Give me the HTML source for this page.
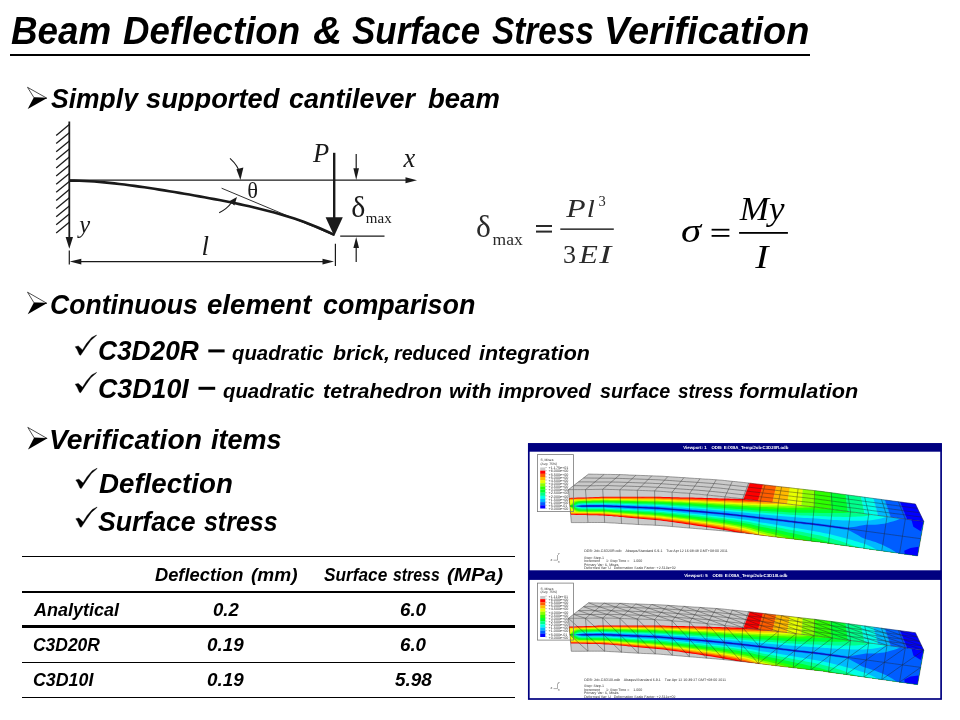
<!DOCTYPE html>
<html><head><meta charset="utf-8"><title>Beam Deflection &amp; Surface Stress Verification</title>
<style>
html,body{margin:0;padding:0;background:#fff;}
body{width:960px;height:720px;position:relative;overflow:hidden;font-family:"Liberation Sans",sans-serif;}
.t{position:absolute;white-space:nowrap;line-height:1;font-family:"Liberation Sans",sans-serif;font-style:italic;font-weight:bold;color:#000;transform-origin:0 0;display:block;}
.clip{position:absolute;left:0;top:0;width:960px;height:111px;overflow:hidden;}
.ln{position:absolute;background:#000;}
svg{position:absolute;left:0;top:0;overflow:visible;}
.s{font-family:"Liberation Serif",serif;}
</style></head>
<body>
<div class="ln" style="left:10px;top:54px;width:800px;height:2px"></div>
<div class="clip"><span class="t" style="left:50.50px;top:84.68px;font-size:27.91px;transform:scaleX(0.9496)">Simply</span>
<span class="t" style="left:146.00px;top:84.68px;font-size:27.91px;transform:scaleX(0.9781)">supported</span>
<span class="t" style="left:289.30px;top:84.68px;font-size:27.91px;transform:scaleX(0.9662)">cantilever</span>
<span class="t" style="left:427.50px;top:84.68px;font-size:27.91px;transform:scaleX(0.9853)">beam</span></div>
<span class="t" style="left:11.00px;top:11.89px;font-size:38.52px;transform:scaleX(0.9553)">Beam</span>
<span class="t" style="left:123.40px;top:11.89px;font-size:38.52px;transform:scaleX(0.9513)">Deflection</span>
<span class="t" style="left:313.40px;top:11.89px;font-size:38.52px;transform:scaleX(1.0462)">&amp;</span>
<span class="t" style="left:352.00px;top:11.89px;font-size:38.52px;transform:scaleX(0.9068)">Surface</span>
<span class="t" style="left:492.20px;top:11.89px;font-size:38.52px;transform:scaleX(0.8661)">Stress</span>
<span class="t" style="left:604.04px;top:11.89px;font-size:38.52px;transform:scaleX(0.9867)">Verification</span>
<span class="t" style="left:50.44px;top:290.87px;font-size:27.62px;transform:scaleX(0.9632)">Continuous</span>
<span class="t" style="left:207.20px;top:290.87px;font-size:27.62px;transform:scaleX(1.0005)">element</span>
<span class="t" style="left:322.80px;top:290.87px;font-size:27.62px;transform:scaleX(0.9741)">comparison</span>
<span class="t" style="left:98.03px;top:337.19px;font-size:27.18px;transform:scaleX(0.9674)">C3D20R</span>
<span class="t" style="left:232.40px;top:342.42px;font-size:21.00px;transform:scaleX(0.9679)">quadratic</span>
<span class="t" style="left:332.50px;top:342.42px;font-size:21.00px;transform:scaleX(1.0182)">brick,</span>
<span class="t" style="left:393.60px;top:342.42px;font-size:21.00px;transform:scaleX(0.9365)">reduced</span>
<span class="t" style="left:478.75px;top:342.42px;font-size:21.00px;transform:scaleX(1.0217)">integration</span>
<span class="t" style="left:98.01px;top:374.59px;font-size:27.18px;transform:scaleX(0.9851)">C3D10I</span>
<span class="t" style="left:223.00px;top:379.72px;font-size:21.00px;transform:scaleX(0.9690)">quadratic</span>
<span class="t" style="left:323.00px;top:379.72px;font-size:21.00px;transform:scaleX(1.0203)">tetrahedron</span>
<span class="t" style="left:449.49px;top:379.72px;font-size:21.00px;transform:scaleX(1.0146)">with</span>
<span class="t" style="left:498.00px;top:379.72px;font-size:21.00px;transform:scaleX(0.9823)">improved</span>
<span class="t" style="left:600.00px;top:379.72px;font-size:21.00px;transform:scaleX(0.9396)">surface</span>
<span class="t" style="left:677.50px;top:379.72px;font-size:21.00px;transform:scaleX(0.8986)">stress</span>
<span class="t" style="left:738.75px;top:379.72px;font-size:21.00px;transform:scaleX(1.0313)">formulation</span>
<span class="t" style="left:49.20px;top:426.02px;font-size:27.62px;transform:scaleX(1.0241)">Verification</span>
<span class="t" style="left:211.25px;top:426.02px;font-size:27.62px;transform:scaleX(0.9788)">items</span>
<span class="t" style="left:98.70px;top:470.09px;font-size:27.18px;transform:scaleX(1.0187)">Deflection</span>
<span class="t" style="left:98.10px;top:507.59px;font-size:27.18px;transform:scaleX(0.9792)">Surface</span>
<span class="t" style="left:204.40px;top:507.59px;font-size:27.18px;transform:scaleX(0.9180)">stress</span>
<span class="t" style="left:155.20px;top:566.11px;font-size:18.90px;transform:scaleX(0.9679)">Deflection</span>
<span class="t" style="left:250.80px;top:566.11px;font-size:18.90px;transform:scaleX(1.0076)">(mm)</span>
<span class="t" style="left:323.50px;top:566.11px;font-size:18.90px;transform:scaleX(0.9121)">Surface</span>
<span class="t" style="left:393.40px;top:566.11px;font-size:18.90px;transform:scaleX(0.8399)">stress</span>
<span class="t" style="left:446.80px;top:566.11px;font-size:18.90px;transform:scaleX(1.0921)">(MPa)</span>
<span class="t" style="left:33.95px;top:600.81px;font-size:18.90px;transform:scaleX(0.9535)">Analytical</span>
<span class="t" style="left:212.60px;top:600.81px;font-size:18.90px;transform:scaleX(0.9835)">0.2</span>
<span class="t" style="left:400.00px;top:600.81px;font-size:18.90px;transform:scaleX(0.9910)">6.0</span>
<span class="t" style="left:33.00px;top:636.01px;font-size:18.90px;transform:scaleX(0.9237)">C3D20R</span>
<span class="t" style="left:207.20px;top:636.01px;font-size:18.90px;transform:scaleX(0.9963)">0.19</span>
<span class="t" style="left:400.00px;top:636.01px;font-size:18.90px;transform:scaleX(0.9910)">6.0</span>
<span class="t" style="left:33.00px;top:671.21px;font-size:18.90px;transform:scaleX(0.9420)">C3D10I</span>
<span class="t" style="left:207.20px;top:671.21px;font-size:18.90px;transform:scaleX(0.9963)">0.19</span>
<span class="t" style="left:394.60px;top:671.21px;font-size:18.90px;transform:scaleX(1.0043)">5.98</span>
<div class="ln" style="left:22px;top:556.3px;width:492.5px;height:1.2px"></div>
<div class="ln" style="left:22px;top:591px;width:492.5px;height:2px"></div>
<div class="ln" style="left:22px;top:624.9px;width:492.5px;height:3px"></div>
<div class="ln" style="left:22px;top:661.5px;width:492.5px;height:1.1px"></div>
<div class="ln" style="left:22px;top:697px;width:492.5px;height:1.1px"></div>
<svg width="960" height="720" viewBox="0 0 960 720">
<path d="M27.5,87.3 L46.8,98.15 L34.062,97.75 Z" fill="#fff" stroke="#222" stroke-width="0.8" stroke-linejoin="miter"/>
<path d="M33.762,97.55000000000001 L47.199999999999996,97.95 L27.7,109.0 Z" fill="#000"/>
<path d="M27.5,292.2 L46.8,303.25 L34.062,302.85 Z" fill="#fff" stroke="#222" stroke-width="0.8" stroke-linejoin="miter"/>
<path d="M33.762,302.65 L47.199999999999996,303.05 L27.7,314.3 Z" fill="#000"/>
<path d="M27.8,427.4 L47.1,438.45 L34.362,438.05 Z" fill="#fff" stroke="#222" stroke-width="0.8" stroke-linejoin="miter"/>
<path d="M34.062000000000005,437.84999999999997 L47.5,438.25 L28.0,449.5 Z" fill="#000"/>
<path d="M75.2,346.8 L78.3,346.0 L82.5,349.9 L86.5,343.5 L91.7,337.5 L96.5,335.0 L96.3,335.6 L90.8,340.4 L85.8,347.5 L80.6,355.3 L79.4,354.8 L77.1,349.6 Z" fill="#000" stroke="#000" stroke-width="0.4" stroke-linejoin="round"/>
<path d="M75.2,384.2 L78.3,383.4 L82.5,387.3 L86.5,380.9 L91.7,374.9 L96.5,372.4 L96.3,373.0 L90.8,377.8 L85.8,384.9 L80.6,392.7 L79.4,392.2 L77.1,387.0 Z" fill="#000" stroke="#000" stroke-width="0.4" stroke-linejoin="round"/>
<path d="M75.8,480.0 L78.9,479.2 L83.1,483.1 L87.1,476.7 L92.3,470.7 L97.1,468.2 L96.9,468.8 L91.4,473.6 L86.4,480.7 L81.2,488.5 L80.0,488.0 L77.7,482.8 Z" fill="#000" stroke="#000" stroke-width="0.4" stroke-linejoin="round"/>
<path d="M75.8,518.8 L78.9,518.0 L83.1,521.9 L87.1,515.5 L92.3,509.5 L97.1,507.0 L96.9,507.6 L91.4,512.4 L86.4,519.5 L81.2,527.3 L80.0,526.8 L77.7,521.6 Z" fill="#000" stroke="#000" stroke-width="0.4" stroke-linejoin="round"/>
<rect x="208.3" y="349.4" width="16.3" height="3" fill="#000"/>
<rect x="198.5" y="386.8" width="16.7" height="3" fill="#000"/>
</svg>
<svg width="960" height="720" viewBox="0 0 960 720" style="filter:blur(0.35px)">
<g stroke="#1a1a1a" fill="none" stroke-linecap="butt">
<line x1="69.3" y1="121.5" x2="69.3" y2="238" stroke-width="1.8"/>
<path d="M65.6,237 L73.0,237 L69.3,248.7 Z" fill="#1a1a1a" stroke="none"/>
<line x1="69.3" y1="124.6" x2="56.2" y2="135.4" stroke-width="1.3"/>
<line x1="69.3" y1="132.7" x2="56.2" y2="143.5" stroke-width="1.3"/>
<line x1="69.3" y1="140.9" x2="56.2" y2="151.7" stroke-width="1.3"/>
<line x1="69.3" y1="149.0" x2="56.2" y2="159.8" stroke-width="1.3"/>
<line x1="69.3" y1="157.1" x2="56.2" y2="167.9" stroke-width="1.3"/>
<line x1="69.3" y1="165.2" x2="56.2" y2="176.1" stroke-width="1.3"/>
<line x1="69.3" y1="173.4" x2="56.2" y2="184.2" stroke-width="1.3"/>
<line x1="69.3" y1="181.5" x2="56.2" y2="192.3" stroke-width="1.3"/>
<line x1="69.3" y1="189.6" x2="56.2" y2="200.4" stroke-width="1.3"/>
<line x1="69.3" y1="197.8" x2="56.2" y2="208.6" stroke-width="1.3"/>
<line x1="69.3" y1="205.9" x2="56.2" y2="216.7" stroke-width="1.3"/>
<line x1="69.3" y1="214.0" x2="56.2" y2="224.8" stroke-width="1.3"/>
<line x1="69.3" y1="222.2" x2="56.2" y2="233.0" stroke-width="1.3"/>
<line x1="69.3" y1="180.2" x2="407" y2="180.2" stroke-width="1.3"/>
<path d="M405.5,177.2 L417,180.2 L405.5,183.2 Z" fill="#1a1a1a" stroke="none"/>
<polyline points="69.3,180.60 74.3,180.64 79.3,180.76 84.3,180.96 89.3,181.23 94.3,181.56 99.3,181.94 104.3,182.38 109.3,182.87 114.3,183.40 119.3,183.97 124.3,184.58 129.3,185.22 134.3,185.89 139.3,186.59 144.3,187.31 149.3,188.06 154.3,188.82 159.3,189.60 164.3,190.40 169.3,191.21 174.3,192.03 179.3,192.87 184.3,193.73 189.3,194.59 194.3,195.47 199.3,196.36 204.3,197.27 209.3,198.19 214.3,199.13 219.3,200.09 224.3,201.07 229.3,202.07 234.3,203.09 239.3,204.14 244.3,205.22 249.3,206.34 254.3,207.49 259.3,208.68 264.3,209.92 269.3,211.21 274.3,212.55 279.3,213.96 284.3,215.42 289.3,216.96 294.3,218.57 299.3,220.26 304.3,222.04 309.3,223.92 314.3,225.90 319.3,227.98 324.3,230.19 329.3,232.52 334.2,234.92" stroke-width="2.6" stroke-linejoin="round"/>
<line x1="221.6" y1="188.2" x2="334.2" y2="235.4" stroke-width="0.9"/>
<line x1="334.2" y1="152.8" x2="334.2" y2="220" stroke-width="2.4"/>
<path d="M325.6,217.2 L342.8,217.2 L334.2,236 Z" fill="#1a1a1a" stroke="none"/>
<line x1="356.2" y1="154" x2="356.2" y2="170" stroke-width="1.2"/>
<path d="M353.4,168.2 L359,168.2 L356.2,180 Z" fill="#1a1a1a" stroke="none"/>
<line x1="340.2" y1="236.2" x2="384.5" y2="236.2" stroke-width="1.3"/>
<line x1="356.2" y1="262" x2="356.2" y2="246" stroke-width="1.2"/>
<path d="M353.4,248 L359,248 L356.2,237 Z" fill="#1a1a1a" stroke="none"/>
<line x1="77.3" y1="261.6" x2="326" y2="261.6" stroke-width="1.1"/>
<path d="M69.8,261.6 L81.3,258.8 L81.3,264.4 Z" fill="#1a1a1a" stroke="none"/>
<path d="M334,261.6 L322.5,258.8 L322.5,264.4 Z" fill="#1a1a1a" stroke="none"/>
<line x1="69.3" y1="250.5" x2="69.3" y2="264.5" stroke-width="1.2"/>
<line x1="335.4" y1="243.8" x2="335.4" y2="266" stroke-width="1.2"/>
<path d="M230,158.3 Q238.5,166 240,174" stroke-width="1.1"/>
<path d="M236.4,169.2 L243.4,167.6 L240.4,180 Z" fill="#1a1a1a" stroke="none"/>
<path d="M219.2,212.7 Q227,209 232,202" stroke-width="1.1"/>
<path d="M229.2,201.2 L234.4,205.6 L237,197 Z" fill="#1a1a1a" stroke="none"/>
</g>
<text x="0" y="0" transform="translate(79.2,233.0) scale(1.0,1)" font-family="'Liberation Serif',serif" font-style="italic" font-size="24.5" fill="#1a1a1a">y</text>
<text x="0" y="0" transform="translate(201.5,254.5) scale(1.0,1)" font-family="'Liberation Serif',serif" font-style="italic" font-size="27" fill="#1a1a1a">l</text>
<text x="0" y="0" transform="translate(313.0,162.3) scale(1.0,1)" font-family="'Liberation Serif',serif" font-style="italic" font-size="26.5" fill="#1a1a1a">P</text>
<text x="0" y="0" transform="translate(403.6,167.1) scale(1.0,1)" font-family="'Liberation Serif',serif" font-style="italic" font-size="26.5" fill="#1a1a1a">x</text>
<text x="0" y="0" transform="translate(247.3,197.9) scale(1.0,1)" font-family="'Liberation Serif',serif" font-style="normal" font-size="22.5" fill="#1a1a1a">θ</text>
<text x="0" y="0" transform="translate(351.2,217.4) scale(1.05,1)" font-family="'Liberation Serif',serif" font-style="normal" font-size="28.5" fill="#1a1a1a">δ</text>
<text x="0" y="0" transform="translate(365.8,223.2) scale(1.0,1)" font-family="'Liberation Serif',serif" font-style="normal" font-size="15" fill="#1a1a1a">max</text>
</svg>
<svg width="960" height="720" viewBox="0 0 960 720" style="filter:blur(0.3px)">
<text x="0" y="0" transform="translate(476.0,237.4) scale(1.0,1)" font-family="'Liberation Serif',serif" font-style="normal" font-size="31.5" fill="#2a2a2a">δ</text>
<text x="0" y="0" transform="translate(492.6,245.3) scale(1.0,1)" font-family="'Liberation Serif',serif" font-style="normal" font-size="17.5" fill="#2a2a2a">max</text>
<rect x="536" y="225.0" width="16" height="2" fill="#2a2a2a"/>
<rect x="536" y="230.6" width="16" height="2" fill="#2a2a2a"/>
<rect x="560.3" y="228.4" width="53.5" height="1.5" fill="#2a2a2a"/>
<text x="0" y="0" transform="translate(566.3,216.6) scale(1.22,1)" font-family="'Liberation Serif',serif" font-style="italic" font-size="26" fill="#2a2a2a">P</text>
<text x="0" y="0" transform="translate(586.7,216.6) scale(1.12,1)" font-family="'Liberation Serif',serif" font-style="italic" font-size="26" fill="#2a2a2a">l</text>
<text x="0" y="0" transform="translate(598.6,206.3) scale(1.0,1)" font-family="'Liberation Serif',serif" font-style="normal" font-size="14.5" fill="#2a2a2a">3</text>
<text x="0" y="0" transform="translate(563.0,262.5) scale(1.0,1)" font-family="'Liberation Serif',serif" font-style="normal" font-size="26" fill="#2a2a2a">3</text>
<text x="0" y="0" transform="translate(579.2,262.5) scale(1.17,1)" font-family="'Liberation Serif',serif" font-style="italic" font-size="26" fill="#2a2a2a">E</text>
<text x="0" y="0" transform="translate(599.2,262.5) scale(1.39,1)" font-family="'Liberation Serif',serif" font-style="italic" font-size="26" fill="#2a2a2a">I</text>
<text x="0" y="0" transform="translate(681.0,241.8) scale(1.2,1)" font-family="'Liberation Serif',serif" font-style="italic" font-size="34" fill="#000">σ</text>
<rect x="711.6" y="228.8" width="17.8" height="1.8" fill="#000"/>
<rect x="711.6" y="235.0" width="17.8" height="1.8" fill="#000"/>
<rect x="739.1" y="232.0" width="48.8" height="1.8" fill="#000"/>
<text x="0" y="0" transform="translate(739.8,220.3) scale(1.03,1)" font-family="'Liberation Serif',serif" font-style="italic" font-size="34" fill="#000">My</text>
<text x="0" y="0" transform="translate(755.2,267.8) scale(1.17,1)" font-family="'Liberation Serif',serif" font-style="italic" font-size="34" fill="#000">I</text>
</svg>
<svg width="960" height="720" viewBox="0 0 960 720" text-rendering="geometricPrecision" style="filter:blur(0.45px)">
<rect x="528.1" y="443.3" width="413.6" height="256.3" fill="#fff"/>
<clipPath id="fc0"><polygon points="568.4,489.6 571.4,489.6 574.3,489.6 577.3,489.6 580.2,489.6 583.2,489.6 586.2,489.6 589.1,489.5 592.1,489.5 595.1,489.4 598.0,489.4 601.0,489.3 603.9,489.3 606.9,489.4 609.9,489.5 612.8,489.5 615.8,489.6 618.7,489.7 621.7,489.8 624.7,489.9 627.6,490.0 630.6,490.1 633.5,490.2 636.5,490.3 639.5,490.4 642.4,490.5 645.4,490.6 648.4,490.7 651.3,490.8 654.3,490.9 657.2,491.1 660.2,491.3 663.2,491.5 666.1,491.7 669.1,492.0 672.0,492.2 675.0,492.4 678.0,492.6 680.9,492.8 683.9,493.0 686.9,493.2 689.8,493.4 692.8,493.7 695.7,494.0 698.7,494.2 701.7,494.5 704.6,494.8 707.6,495.0 710.5,495.4 713.5,495.7 716.5,496.0 719.4,496.3 722.4,496.6 725.3,496.9 728.3,497.2 731.3,497.6 734.2,497.9 737.2,498.2 740.2,498.5 743.1,498.8 746.1,499.2 749.0,499.6 752.0,499.9 755.0,500.3 757.9,500.6 760.9,501.0 763.8,501.3 766.8,501.6 769.8,501.9 772.7,502.2 775.7,502.5 778.6,502.8 781.6,503.2 784.6,503.5 787.5,503.9 790.5,504.3 793.5,504.7 796.4,505.0 799.4,505.4 802.3,505.7 805.3,506.0 808.3,506.3 811.2,506.6 814.2,506.9 817.1,507.3 820.1,507.7 823.1,508.1 826.0,508.5 829.0,508.9 832.0,509.3 834.9,509.7 837.9,510.1 840.8,510.5 843.8,510.9 846.8,511.3 849.7,511.7 852.7,512.1 855.6,512.4 858.6,512.8 861.6,513.2 864.5,513.6 867.5,514.0 870.4,514.4 873.4,514.8 876.4,515.2 879.3,515.6 882.3,516.0 885.3,516.4 888.2,516.8 891.2,517.2 894.1,517.6 897.1,518.0 900.1,518.4 903.0,518.7 906.0,519.1 908.9,519.5 911.9,519.9 914.9,520.3 917.8,520.7 920.8,521.1 923.8,521.5 917.6,555.9 914.7,555.5 911.8,555.1 908.9,554.7 906.1,554.3 903.2,553.9 900.3,553.5 897.4,553.0 894.5,552.6 891.6,552.2 888.7,551.8 885.9,551.4 883.0,551.0 880.1,550.6 877.2,550.2 874.3,549.8 871.4,549.4 868.5,549.0 865.7,548.6 862.8,548.1 859.9,547.7 857.0,547.3 854.1,546.9 851.2,546.5 848.3,546.1 845.5,545.7 842.6,545.3 839.7,544.9 836.8,544.5 833.9,544.1 831.0,543.7 828.1,543.3 825.3,542.8 822.4,542.4 819.5,542.0 816.6,541.7 813.7,541.4 810.8,541.0 807.9,540.7 805.1,540.4 802.2,540.0 799.3,539.7 796.4,539.4 793.5,539.1 790.6,538.7 787.7,538.4 784.9,538.1 782.0,537.7 779.1,537.4 776.2,537.0 773.3,536.7 770.4,536.3 767.5,535.9 764.7,535.6 761.8,535.2 758.9,534.9 756.0,534.5 753.1,534.1 750.2,533.8 747.3,533.5 744.5,533.1 741.6,532.8 738.7,532.5 735.8,532.2 732.9,531.9 730.0,531.6 727.1,531.3 724.2,531.0 721.4,530.7 718.5,530.5 715.6,530.2 712.7,530.0 709.8,529.7 706.9,529.5 704.0,529.3 701.2,529.0 698.3,528.8 695.4,528.5 692.5,528.3 689.6,528.1 686.7,527.8 683.8,527.6 681.0,527.3 678.1,527.1 675.2,526.8 672.3,526.6 669.4,526.3 666.5,526.1 663.6,525.8 660.8,525.6 657.9,525.4 655.0,525.3 652.1,525.1 649.2,525.0 646.3,524.9 643.4,524.8 640.6,524.6 637.7,524.5 634.8,524.3 631.9,524.1 629.0,524.0 626.1,523.8 623.2,523.6 620.4,523.5 617.5,523.3 614.6,523.1 611.7,523.0 608.8,522.8 605.9,522.6 603.0,522.5 600.2,522.5 597.3,522.5 594.4,522.5 591.5,522.5 588.6,522.5 585.7,522.6 582.8,522.6 580.0,522.6 577.1,522.6 574.2,522.6 571.3,522.6"/></clipPath>
<g clip-path="url(#fc0)">
<polygon fill="#CACACA" points="560.0,470.0 935.0,470.0 935.0,565.0 560.0,565.0"/>
<polygon fill="#FF0000" points="569.1,497.9 572.1,497.8 575.0,497.7 577.9,497.6 580.9,497.6 583.8,497.5 586.7,497.4 589.7,497.3 592.6,497.2 595.6,497.0 598.5,496.9 601.4,496.8 604.4,496.7 607.3,496.7 610.3,496.7 613.2,496.7 616.1,496.7 619.1,496.7 622.0,496.7 625.0,496.7 627.9,496.7 630.8,496.7 633.8,496.7 636.7,496.8 639.7,496.8 642.6,496.7 645.6,496.7 648.5,496.7 651.5,496.7 654.4,496.7 657.3,496.7 660.3,496.8 663.2,496.9 666.2,497.0 669.1,497.1 672.1,497.2 675.0,497.2 678.0,497.3 680.9,497.4 683.9,497.4 686.8,497.5 689.8,497.5 692.7,497.6 695.7,497.7 698.7,497.8 701.6,497.8 704.6,497.9 707.5,498.0 710.5,498.1 713.4,498.2 716.4,498.3 719.4,498.4 722.3,498.5 725.3,498.5 728.3,498.6 731.2,498.7 734.2,498.7 737.2,498.8 740.1,498.8 743.1,498.9 746.1,498.9 749.1,499.0 752.0,499.1 755.0,499.1 758.0,499.1 761.0,499.1 764.0,499.1 767.0,499.0 770.0,498.9 773.0,498.8 776.0,498.6 779.0,498.5 781.9,498.9 784.9,499.3 787.9,499.7 790.8,500.0 793.8,500.4 796.8,500.8 799.8,501.1 802.7,501.4 805.7,501.7 808.7,502.0 811.6,502.3 814.6,502.7 817.6,503.1 820.5,503.5 823.5,503.9 826.5,504.3 829.5,504.7 832.4,505.0 835.4,505.4 838.4,505.8 841.3,506.2 844.3,506.6 847.3,507.0 850.3,507.4 853.2,507.8 856.2,508.2 859.2,508.6 862.1,509.0 865.1,509.4 868.1,509.8 871.0,510.1 874.0,510.5 877.0,510.9 880.0,511.3 882.9,511.7 885.9,512.1 888.9,512.5 891.8,512.9 894.8,513.3 897.8,513.7 900.8,514.1 903.7,514.5 906.7,514.8 909.7,515.2 912.6,515.6 915.6,516.0 918.6,516.4 921.5,516.8 924.5,517.2 916.8,560.2 914.0,559.8 911.1,559.4 908.2,559.0 905.3,558.6 902.4,558.2 899.6,557.7 896.7,557.3 893.8,556.9 890.9,556.5 888.1,556.1 885.2,555.7 882.3,555.3 879.4,554.9 876.6,554.5 873.7,554.1 870.8,553.6 867.9,553.2 865.1,552.8 862.2,552.4 859.3,552.0 856.4,551.6 853.6,551.2 850.7,550.8 847.8,550.4 844.9,550.0 842.0,549.5 839.2,549.1 836.3,548.7 833.4,548.3 830.5,547.9 827.7,547.5 824.8,547.1 821.9,546.7 819.0,546.3 816.2,546.0 813.3,545.6 810.4,545.3 807.5,545.0 804.7,544.6 801.8,544.3 798.9,544.0 796.0,543.6 793.1,543.3 790.3,543.0 787.4,542.7 784.5,542.3 781.6,542.0 778.8,541.7 775.9,541.3 773.0,540.9 770.1,540.6 767.3,540.2 764.4,539.8 761.5,539.5 758.6,539.1 755.8,538.6 752.9,537.4 750.1,536.2 747.2,535.2 744.4,534.4 741.5,533.7 738.7,533.0 735.8,532.3 732.9,531.7 730.0,531.1 727.2,530.5 724.3,530.0 721.4,529.5 718.5,529.0 715.6,528.5 712.7,528.1 709.9,527.6 707.0,527.2 704.1,526.7 701.2,526.3 698.3,525.9 695.4,525.4 692.5,525.0 689.6,524.6 686.7,524.2 683.9,523.7 681.0,523.3 678.1,522.9 675.2,522.5 672.3,522.1 669.4,521.7 666.5,521.3 663.6,520.9 660.7,520.6 657.8,520.2 654.9,520.0 652.0,519.7 649.1,519.5 646.2,519.2 643.3,519.0 640.4,518.7 637.5,518.5 634.6,518.2 631.7,517.9 628.8,517.7 625.9,517.4 622.9,517.1 620.0,516.9 617.1,516.6 614.2,516.4 611.3,516.1 608.4,515.9 605.5,515.7 602.6,515.5 599.7,515.4 596.8,515.3 593.9,515.3 591.0,515.2 588.1,515.2 585.2,515.1 582.2,515.0 579.3,514.9 576.4,514.9 573.5,514.8 570.6,514.7"/>
<polygon fill="#FF5D00" points="569.2,498.5 572.1,498.5 575.1,498.4 578.0,498.3 580.9,498.3 583.9,498.2 586.8,498.1 589.7,498.0 592.7,497.9 595.6,497.8 598.5,497.7 601.5,497.5 604.4,497.5 607.4,497.5 610.3,497.5 613.2,497.5 616.2,497.5 619.1,497.5 622.1,497.5 625.0,497.6 627.9,497.6 630.9,497.6 633.8,497.6 636.8,497.6 639.7,497.6 642.6,497.7 645.6,497.6 648.5,497.6 651.5,497.6 654.4,497.6 657.4,497.7 660.3,497.8 663.3,497.9 666.2,498.0 669.1,498.1 672.1,498.2 675.0,498.3 678.0,498.3 680.9,498.4 683.9,498.5 686.8,498.5 689.8,498.6 692.7,498.7 695.7,498.8 698.6,498.9 701.6,499.0 704.5,499.1 707.5,499.2 710.5,499.3 713.4,499.4 716.4,499.5 719.3,499.6 722.3,499.7 725.3,499.8 728.2,499.9 731.2,500.0 734.1,500.1 737.1,500.2 740.1,500.2 743.0,500.3 746.0,500.4 749.0,500.5 752.0,500.5 754.9,500.6 757.9,500.7 760.9,500.7 763.9,500.7 766.9,500.6 769.9,500.5 772.8,500.5 775.8,500.4 778.8,500.3 781.8,500.2 784.8,500.2 787.8,500.1 790.8,500.0 793.8,500.4 796.8,500.8 799.8,501.1 802.7,501.4 805.7,501.7 808.7,502.0 811.6,502.3 814.6,502.7 817.6,503.1 820.5,503.5 823.5,503.9 826.5,504.3 829.5,504.7 832.4,505.0 835.4,505.4 838.4,505.8 841.3,506.2 844.3,506.6 847.3,507.0 850.3,507.4 853.2,507.8 856.2,508.2 859.2,508.6 862.1,509.0 865.1,509.4 868.1,509.8 871.0,510.1 874.0,510.5 877.0,510.9 880.0,511.3 882.9,511.7 885.9,512.1 888.9,512.5 891.8,512.9 894.8,513.3 897.8,513.7 900.8,514.1 903.7,514.5 906.7,514.8 909.7,515.2 912.6,515.6 915.6,516.0 918.6,516.4 921.5,516.8 924.5,517.2 916.8,560.2 914.0,559.8 911.1,559.4 908.2,559.0 905.3,558.6 902.4,558.2 899.6,557.7 896.7,557.3 893.8,556.9 890.9,556.5 888.1,556.1 885.2,555.7 882.3,555.3 879.4,554.9 876.6,554.5 873.7,554.1 870.8,553.6 867.9,553.2 865.1,552.8 862.2,552.4 859.3,552.0 856.4,551.6 853.6,551.2 850.7,550.8 847.8,550.4 844.9,550.0 842.0,549.5 839.2,549.1 836.3,548.7 833.4,548.3 830.5,547.9 827.7,547.5 824.8,547.1 821.9,546.7 819.0,546.3 816.2,546.0 813.3,545.6 810.4,545.3 807.5,545.0 804.7,544.6 801.8,544.3 798.9,544.0 796.0,543.6 793.1,543.3 790.3,543.0 787.4,542.7 784.5,542.3 781.6,542.0 778.8,541.7 775.9,541.3 773.0,540.9 770.1,540.6 767.3,540.2 764.4,539.8 761.5,539.1 758.7,538.0 755.9,536.8 753.0,535.7 750.2,534.6 747.3,533.6 744.5,532.9 741.6,532.2 738.7,531.5 735.8,530.9 733.0,530.3 730.1,529.7 727.2,529.2 724.3,528.6 721.4,528.2 718.6,527.7 715.7,527.3 712.8,526.8 709.9,526.4 707.0,525.9 704.1,525.5 701.2,525.1 698.3,524.7 695.4,524.2 692.5,523.8 689.6,523.4 686.7,523.0 683.9,522.6 681.0,522.2 678.1,521.8 675.2,521.4 672.3,521.1 669.4,520.7 666.5,520.3 663.6,519.9 660.7,519.5 657.8,519.2 654.9,519.0 652.0,518.7 649.1,518.5 646.2,518.3 643.2,518.0 640.3,517.8 637.4,517.5 634.5,517.3 631.6,517.0 628.7,516.8 625.8,516.5 622.9,516.3 620.0,516.0 617.1,515.8 614.2,515.5 611.3,515.3 608.4,515.1 605.5,514.9 602.6,514.7 599.6,514.6 596.7,514.6 593.8,514.5 590.9,514.5 588.0,514.4 585.1,514.3 582.2,514.3 579.3,514.2 576.4,514.1 573.5,514.1 570.5,514.0"/>
<polygon fill="#FFB900" points="569.2,499.2 572.2,499.2 575.1,499.1 578.0,499.0 581.0,499.0 583.9,498.9 586.9,498.8 589.8,498.7 592.7,498.6 595.7,498.5 598.6,498.4 601.5,498.3 604.5,498.2 607.4,498.3 610.3,498.3 613.3,498.3 616.2,498.3 619.2,498.3 622.1,498.4 625.0,498.4 628.0,498.4 630.9,498.5 633.9,498.5 636.8,498.5 639.7,498.5 642.7,498.6 645.6,498.6 648.6,498.6 651.5,498.6 654.4,498.6 657.4,498.7 660.3,498.8 663.3,498.9 666.2,499.0 669.2,499.1 672.1,499.2 675.0,499.3 678.0,499.4 680.9,499.5 683.9,499.6 686.8,499.6 689.8,499.7 692.7,499.8 695.7,499.9 698.6,500.1 701.6,500.2 704.5,500.3 707.5,500.4 710.4,500.5 713.4,500.6 716.3,500.8 719.3,500.9 722.3,501.0 725.2,501.1 728.2,501.2 731.1,501.3 734.1,501.4 737.1,501.5 740.0,501.6 743.0,501.7 745.9,501.8 748.9,501.9 751.9,502.0 754.9,502.1 757.8,502.2 760.8,502.3 763.8,502.3 766.8,502.2 769.7,502.2 772.7,502.2 775.7,502.1 778.7,502.1 781.7,502.0 784.7,502.0 787.7,502.0 790.7,501.9 793.7,501.8 796.7,501.7 799.7,501.5 802.7,501.4 805.7,501.7 808.7,502.0 811.6,502.3 814.6,502.7 817.6,503.1 820.5,503.5 823.5,503.9 826.5,504.3 829.5,504.7 832.4,505.0 835.4,505.4 838.4,505.8 841.3,506.2 844.3,506.6 847.3,507.0 850.3,507.4 853.2,507.8 856.2,508.2 859.2,508.6 862.1,509.0 865.1,509.4 868.1,509.8 871.0,510.1 874.0,510.5 877.0,510.9 880.0,511.3 882.9,511.7 885.9,512.1 888.9,512.5 891.8,512.9 894.8,513.3 897.8,513.7 900.8,514.1 903.7,514.5 906.7,514.8 909.7,515.2 912.6,515.6 915.6,516.0 918.6,516.4 921.5,516.8 924.5,517.2 916.8,560.2 914.0,559.8 911.1,559.4 908.2,559.0 905.3,558.6 902.4,558.2 899.6,557.7 896.7,557.3 893.8,556.9 890.9,556.5 888.1,556.1 885.2,555.7 882.3,555.3 879.4,554.9 876.6,554.5 873.7,554.1 870.8,553.6 867.9,553.2 865.1,552.8 862.2,552.4 859.3,552.0 856.4,551.6 853.6,551.2 850.7,550.8 847.8,550.4 844.9,550.0 842.0,549.5 839.2,549.1 836.3,548.7 833.4,548.3 830.5,547.9 827.7,547.5 824.8,547.1 821.9,546.7 819.0,546.3 816.2,546.0 813.3,545.6 810.4,545.3 807.5,545.0 804.7,544.6 801.8,544.3 798.9,544.0 796.0,543.6 793.1,543.3 790.3,543.0 787.4,542.7 784.5,542.3 781.6,542.0 778.8,541.7 775.9,541.3 773.0,540.5 770.2,539.7 767.3,538.8 764.5,538.0 761.6,537.2 758.8,536.2 756.0,535.1 753.1,534.0 750.3,533.0 747.4,532.1 744.5,531.3 741.7,530.7 738.8,530.1 735.9,529.4 733.0,528.9 730.1,528.4 727.3,527.8 724.4,527.3 721.5,526.9 718.6,526.4 715.7,526.0 712.8,525.5 709.9,525.1 707.0,524.7 704.1,524.3 701.2,523.9 698.3,523.5 695.4,523.1 692.5,522.7 689.7,522.3 686.8,521.9 683.9,521.5 681.0,521.1 678.1,520.7 675.2,520.4 672.3,520.0 669.4,519.6 666.5,519.3 663.5,518.9 660.6,518.5 657.7,518.2 654.8,518.0 651.9,517.8 649.0,517.5 646.1,517.3 643.2,517.1 640.3,516.9 637.4,516.6 634.5,516.4 631.6,516.1 628.7,515.9 625.8,515.6 622.9,515.4 620.0,515.2 617.1,514.9 614.1,514.7 611.2,514.5 608.3,514.3 605.4,514.0 602.5,513.9 599.6,513.8 596.7,513.8 593.8,513.7 590.9,513.7 588.0,513.6 585.0,513.6 582.1,513.5 579.2,513.5 576.3,513.4 573.4,513.4 570.5,513.3"/>
<polygon fill="#E8FF00" points="569.3,499.9 572.2,499.9 575.2,499.8 578.1,499.7 581.0,499.7 584.0,499.6 586.9,499.6 589.8,499.5 592.8,499.4 595.7,499.3 598.6,499.2 601.6,499.1 604.5,499.0 607.5,499.0 610.4,499.1 613.3,499.1 616.3,499.1 619.2,499.2 622.1,499.2 625.1,499.2 628.0,499.3 630.9,499.3 633.9,499.4 636.8,499.4 639.8,499.4 642.7,499.5 645.6,499.5 648.6,499.5 651.5,499.5 654.5,499.5 657.4,499.6 660.3,499.7 663.3,499.9 666.2,500.0 669.2,500.1 672.1,500.2 675.0,500.3 678.0,500.4 680.9,500.5 683.9,500.6 686.8,500.7 689.8,500.8 692.7,500.9 695.7,501.1 698.6,501.2 701.6,501.3 704.5,501.4 707.5,501.6 710.4,501.7 713.4,501.8 716.3,502.0 719.3,502.1 722.2,502.3 725.2,502.4 728.1,502.5 731.1,502.6 734.0,502.8 737.0,502.9 740.0,503.0 742.9,503.1 745.9,503.3 748.8,503.4 751.8,503.5 754.8,503.6 757.7,503.7 760.7,503.8 763.7,503.9 766.7,503.9 769.6,503.9 772.6,503.9 775.6,503.9 778.6,503.8 781.6,503.9 784.5,503.9 787.5,503.9 790.5,503.9 793.5,503.8 796.5,503.7 799.5,503.6 802.5,503.4 805.6,503.1 808.6,502.9 811.6,502.5 814.6,502.7 817.6,503.1 820.5,503.5 823.5,503.9 826.5,504.3 829.5,504.7 832.4,505.0 835.4,505.4 838.4,505.8 841.3,506.2 844.3,506.6 847.3,507.0 850.3,507.4 853.2,507.8 856.2,508.2 859.2,508.6 862.1,509.0 865.1,509.4 868.1,509.8 871.0,510.1 874.0,510.5 877.0,510.9 880.0,511.3 882.9,511.7 885.9,512.1 888.9,512.5 891.8,512.9 894.8,513.3 897.8,513.7 900.8,514.1 903.7,514.5 906.7,514.8 909.7,515.2 912.6,515.6 915.6,516.0 918.6,516.4 921.5,516.8 924.5,517.2 916.8,560.2 914.0,559.8 911.1,559.4 908.2,559.0 905.3,558.6 902.4,558.2 899.6,557.7 896.7,557.3 893.8,556.9 890.9,556.5 888.1,556.1 885.2,555.7 882.3,555.3 879.4,554.9 876.6,554.5 873.7,554.1 870.8,553.6 867.9,553.2 865.1,552.8 862.2,552.4 859.3,552.0 856.4,551.6 853.6,551.2 850.7,550.8 847.8,550.4 844.9,550.0 842.0,549.5 839.2,549.1 836.3,548.7 833.4,548.3 830.5,547.9 827.7,547.5 824.8,547.1 821.9,546.7 819.0,546.3 816.2,546.0 813.3,545.6 810.4,545.3 807.5,545.0 804.7,544.6 801.8,544.3 798.9,544.0 796.0,543.6 793.1,543.3 790.3,543.0 787.4,542.7 784.6,541.9 781.7,541.0 778.9,540.1 776.0,539.2 773.2,538.4 770.3,537.6 767.5,536.8 764.6,536.1 761.8,535.3 758.9,534.4 756.1,533.3 753.2,532.3 750.3,531.4 747.5,530.5 744.6,529.8 741.7,529.2 738.8,528.6 736.0,528.0 733.1,527.5 730.2,527.0 727.3,526.5 724.4,526.0 721.5,525.5 718.6,525.1 715.7,524.7 712.8,524.3 709.9,523.9 707.0,523.5 704.2,523.1 701.3,522.7 698.4,522.3 695.5,521.9 692.6,521.5 689.7,521.1 686.8,520.7 683.9,520.4 681.0,520.0 678.1,519.6 675.1,519.3 672.2,518.9 669.3,518.6 666.4,518.2 663.5,517.9 660.6,517.5 657.7,517.2 654.8,517.0 651.9,516.8 649.0,516.6 646.1,516.3 643.2,516.1 640.3,515.9 637.4,515.7 634.5,515.4 631.6,515.2 628.6,515.0 625.7,514.8 622.8,514.5 619.9,514.3 617.0,514.1 614.1,513.9 611.2,513.7 608.3,513.4 605.4,513.2 602.5,513.1 599.5,513.0 596.6,513.0 593.7,513.0 590.8,512.9 587.9,512.9 585.0,512.8 582.1,512.8 579.2,512.7 576.2,512.7 573.3,512.6 570.4,512.6"/>
<polygon fill="#8BFF00" points="569.8,506.1 572.5,502.6 575.2,500.7 578.2,500.4 581.1,500.4 584.0,500.3 587.0,500.3 589.9,500.2 592.8,500.1 595.8,500.0 598.7,499.9 601.6,499.8 604.6,499.8 607.5,499.8 610.4,499.9 613.4,499.9 616.3,500.0 619.2,500.0 622.2,500.0 625.1,500.1 628.0,500.1 631.0,500.2 633.9,500.2 636.9,500.3 639.8,500.3 642.7,500.4 645.7,500.4 648.6,500.4 651.5,500.5 654.5,500.5 657.4,500.6 660.4,500.7 663.3,500.8 666.2,501.0 669.2,501.1 672.1,501.2 675.1,501.4 678.0,501.5 680.9,501.6 683.9,501.7 686.8,501.8 689.8,501.9 692.7,502.1 695.7,502.2 698.6,502.3 701.5,502.5 704.5,502.6 707.4,502.7 710.4,502.9 713.3,503.1 716.3,503.2 719.2,503.4 722.2,503.5 725.1,503.7 728.1,503.8 731.0,504.0 734.0,504.1 736.9,504.3 739.9,504.4 742.9,504.5 745.8,504.7 748.8,504.8 751.7,505.0 754.7,505.1 757.7,505.3 760.6,505.4 763.6,505.5 766.6,505.5 769.5,505.6 772.5,505.6 775.5,505.6 778.4,505.6 781.4,505.7 784.4,505.7 787.4,505.8 790.4,505.8 793.4,505.8 796.4,505.8 799.3,505.7 802.3,505.5 805.4,505.4 808.4,505.1 811.4,504.9 814.4,504.6 817.4,504.5 820.5,504.3 823.5,504.2 826.5,504.3 829.5,504.7 832.4,505.0 835.4,505.4 838.4,505.8 841.3,506.2 844.3,506.6 847.3,507.0 850.3,507.4 853.2,507.8 856.2,508.2 859.2,508.6 862.1,509.0 865.1,509.4 868.1,509.8 871.0,510.1 874.0,510.5 877.0,510.9 880.0,511.3 882.9,511.7 885.9,512.1 888.9,512.5 891.8,512.9 894.8,513.3 897.8,513.7 900.8,514.1 903.7,514.5 906.7,514.8 909.7,515.2 912.6,515.6 915.6,516.0 918.6,516.4 921.5,516.8 924.5,517.2 916.8,560.2 914.0,559.8 911.1,559.4 908.2,559.0 905.3,558.6 902.4,558.2 899.6,557.7 896.7,557.3 893.8,556.9 890.9,556.5 888.1,556.1 885.2,555.7 882.3,555.3 879.4,554.9 876.6,554.5 873.7,554.1 870.8,553.6 867.9,553.2 865.1,552.8 862.2,552.4 859.3,552.0 856.4,551.6 853.6,551.2 850.7,550.8 847.8,550.4 844.9,550.0 842.0,549.5 839.2,549.1 836.3,548.7 833.4,548.3 830.5,547.9 827.7,547.5 824.8,547.1 821.9,546.7 819.0,546.3 816.2,546.0 813.3,545.6 810.4,545.3 807.5,545.0 804.7,544.6 801.8,544.3 798.9,543.6 796.1,542.8 793.3,542.0 790.4,541.2 787.6,540.4 784.7,539.5 781.9,538.7 779.0,537.9 776.2,537.1 773.3,536.3 770.5,535.6 767.6,534.9 764.7,534.1 761.9,533.4 759.0,532.6 756.2,531.6 753.3,530.7 750.4,529.8 747.6,529.0 744.7,528.3 741.8,527.7 738.9,527.2 736.0,526.6 733.1,526.1 730.2,525.6 727.3,525.1 724.5,524.6 721.6,524.2 718.7,523.8 715.8,523.4 712.9,523.0 710.0,522.6 707.1,522.2 704.2,521.8 701.3,521.4 698.4,521.1 695.5,520.7 692.6,520.3 689.7,520.0 686.8,519.6 683.9,519.3 681.0,518.9 678.0,518.6 675.1,518.2 672.2,517.9 669.3,517.5 666.4,517.2 663.5,516.8 660.6,516.5 657.7,516.2 654.8,516.0 651.9,515.8 649.0,515.6 646.1,515.4 643.2,515.2 640.3,515.0 637.3,514.8 634.4,514.5 631.5,514.3 628.6,514.1 625.7,513.9 622.8,513.7 619.9,513.4 617.0,513.2 614.1,513.0 611.1,512.8 608.2,512.6 605.3,512.4 602.4,512.3 599.5,512.3 596.6,512.2 593.7,512.2 590.8,512.2 587.8,512.1 584.9,512.1 582.0,512.0 579.1,512.0 576.2,511.8 573.1,509.7 569.8,506.1"/>
<polygon fill="#2EFF00" points="569.8,506.1 572.6,503.9 575.4,502.0 578.2,501.2 581.2,501.1 584.1,501.1 587.0,501.0 589.9,500.9 592.9,500.8 595.8,500.8 598.7,500.7 601.7,500.6 604.6,500.6 607.5,500.6 610.5,500.7 613.4,500.7 616.3,500.8 619.3,500.8 622.2,500.9 625.1,500.9 628.1,501.0 631.0,501.1 633.9,501.1 636.9,501.2 639.8,501.2 642.8,501.3 645.7,501.3 648.6,501.4 651.6,501.4 654.5,501.4 657.4,501.5 660.4,501.7 663.3,501.8 666.2,502.0 669.2,502.1 672.1,502.3 675.1,502.4 678.0,502.5 680.9,502.6 683.9,502.8 686.8,502.9 689.8,503.0 692.7,503.2 695.6,503.3 698.6,503.5 701.5,503.6 704.5,503.8 707.4,503.9 710.4,504.1 713.3,504.3 716.2,504.5 719.2,504.6 722.1,504.8 725.1,505.0 728.0,505.1 731.0,505.3 733.9,505.5 736.9,505.6 739.8,505.8 742.8,505.9 745.7,506.1 748.7,506.3 751.7,506.5 754.6,506.6 757.6,506.8 760.5,507.0 763.5,507.1 766.5,507.1 769.4,507.2 772.4,507.3 775.3,507.4 778.3,507.4 781.3,507.5 784.3,507.6 787.2,507.7 790.2,507.7 793.2,507.8 796.2,507.8 799.2,507.8 802.2,507.7 805.2,507.6 808.2,507.4 811.2,507.2 814.2,507.0 817.2,506.9 820.2,506.9 823.2,506.8 826.2,506.7 829.3,506.5 832.3,506.4 835.3,506.1 838.4,505.9 841.3,506.2 844.3,506.6 847.3,507.0 850.3,507.4 853.2,507.8 856.2,508.2 859.2,508.6 862.1,509.0 865.1,509.4 868.1,509.8 871.0,510.1 874.0,510.5 877.0,510.9 880.0,511.3 882.9,511.7 885.9,512.1 888.9,512.5 891.8,512.9 894.8,513.3 897.8,513.7 900.8,514.1 903.7,514.5 906.7,514.8 909.7,515.2 912.6,515.6 915.6,516.0 918.6,516.4 921.5,516.8 924.5,517.2 916.8,560.2 914.0,559.8 911.1,559.4 908.2,559.0 905.3,558.6 902.4,558.2 899.6,557.7 896.7,557.3 893.8,556.9 890.9,556.5 888.1,556.1 885.2,555.7 882.3,555.3 879.4,554.9 876.6,554.5 873.7,554.1 870.8,553.6 867.9,553.2 865.1,552.8 862.2,552.4 859.3,552.0 856.4,551.6 853.6,551.2 850.7,550.8 847.8,550.4 844.9,550.0 842.0,549.5 839.2,549.1 836.3,548.7 833.4,548.3 830.5,547.9 827.7,547.5 824.8,547.1 821.9,546.7 819.0,546.3 816.2,545.9 813.3,545.1 810.5,544.2 807.7,543.4 804.8,542.6 802.0,541.8 799.2,541.0 796.3,540.3 793.5,539.5 790.6,538.8 787.8,538.0 784.9,537.2 782.1,536.5 779.2,535.7 776.3,534.9 773.5,534.2 770.6,533.5 767.7,532.9 764.9,532.2 762.0,531.6 759.1,530.7 756.3,529.8 753.4,529.0 750.5,528.1 747.6,527.4 744.8,526.8 741.9,526.2 739.0,525.7 736.1,525.2 733.2,524.7 730.3,524.2 727.4,523.8 724.5,523.3 721.6,522.9 718.7,522.5 715.8,522.1 712.9,521.7 710.0,521.3 707.1,521.0 704.2,520.6 701.3,520.2 698.4,519.9 695.5,519.5 692.6,519.2 689.7,518.8 686.8,518.5 683.9,518.1 681.0,517.8 678.0,517.5 675.1,517.1 672.2,516.8 669.3,516.5 666.4,516.2 663.5,515.8 660.6,515.5 657.7,515.2 654.8,515.0 651.9,514.8 649.0,514.6 646.0,514.4 643.1,514.2 640.2,514.0 637.3,513.8 634.4,513.6 631.5,513.4 628.6,513.2 625.7,513.0 622.8,512.8 619.8,512.6 616.9,512.4 614.0,512.2 611.1,512.0 608.2,511.8 605.3,511.6 602.4,511.5 599.4,511.5 596.5,511.4 593.6,511.4 590.7,511.4 587.8,511.4 584.9,511.3 582.0,511.3 579.0,511.3 576.1,510.4 573.0,508.4 569.8,506.1"/>
<polygon fill="#00FF2E" points="569.8,506.1 572.7,505.3 575.5,503.1 578.3,501.9 581.2,501.8 584.1,501.8 587.1,501.7 590.0,501.7 592.9,501.6 595.9,501.5 598.8,501.4 601.7,501.4 604.7,501.3 607.6,501.4 610.5,501.5 613.4,501.5 616.4,501.6 619.3,501.6 622.2,501.7 625.2,501.8 628.1,501.8 631.0,501.9 634.0,502.0 636.9,502.1 639.8,502.1 642.8,502.2 645.7,502.2 648.6,502.3 651.6,502.3 654.5,502.4 657.4,502.5 660.4,502.6 663.3,502.8 666.3,503.0 669.2,503.1 672.1,503.3 675.1,503.4 678.0,503.6 680.9,503.7 683.9,503.8 686.8,504.0 689.8,504.1 692.7,504.3 695.6,504.5 698.6,504.6 701.5,504.8 704.4,505.0 707.4,505.1 710.3,505.3 713.3,505.5 716.2,505.7 719.2,505.9 722.1,506.1 725.0,506.2 728.0,506.4 730.9,506.6 733.9,506.8 736.8,507.0 739.8,507.2 742.7,507.4 745.7,507.6 748.6,507.8 751.6,508.0 754.5,508.2 757.5,508.4 760.4,508.5 763.4,508.7 766.3,508.8 769.3,508.9 772.3,509.0 775.2,509.1 778.2,509.2 781.2,509.3 784.1,509.5 787.1,509.6 790.1,509.7 793.0,509.8 796.0,509.8 799.0,509.9 802.0,509.8 805.0,509.8 807.9,509.7 810.9,509.6 813.9,509.4 816.9,509.4 819.9,509.4 822.9,509.4 825.9,509.4 828.9,509.3 832.0,509.2 835.0,509.1 838.0,508.9 841.0,508.7 844.1,508.5 847.1,508.2 850.2,507.8 853.2,507.8 856.2,508.2 859.2,508.6 862.1,509.0 865.1,509.4 868.1,509.8 871.0,510.1 874.0,510.5 877.0,510.9 880.0,511.3 882.9,511.7 885.9,512.1 888.9,512.5 891.8,512.9 894.8,513.3 897.8,513.7 900.8,514.1 903.7,514.5 906.7,514.8 909.7,515.2 912.6,515.6 915.6,516.0 918.6,516.4 921.5,516.8 924.5,517.2 916.8,560.2 914.0,559.8 911.1,559.4 908.2,559.0 905.3,558.6 902.4,558.2 899.6,557.7 896.7,557.3 893.8,556.9 890.9,556.5 888.1,556.1 885.2,555.7 882.3,555.3 879.4,554.9 876.6,554.5 873.7,554.1 870.8,553.6 867.9,553.2 865.1,552.8 862.2,552.4 859.3,552.0 856.4,551.6 853.6,551.2 850.7,550.8 847.8,550.4 844.9,550.0 842.0,549.5 839.2,549.1 836.3,548.7 833.4,548.3 830.6,547.6 827.8,546.5 825.0,545.6 822.1,544.6 819.3,543.7 816.5,542.9 813.6,542.1 810.8,541.4 807.9,540.6 805.1,539.8 802.3,539.1 799.4,538.4 796.5,537.7 793.7,537.0 790.8,536.4 788.0,535.6 785.1,534.9 782.2,534.2 779.4,533.5 776.5,532.8 773.6,532.1 770.7,531.5 767.9,530.9 765.0,530.3 762.1,529.7 759.2,528.9 756.4,528.1 753.5,527.3 750.6,526.5 747.7,525.8 744.8,525.3 741.9,524.7 739.0,524.2 736.1,523.7 733.2,523.3 730.3,522.8 727.4,522.4 724.5,522.0 721.6,521.6 718.7,521.2 715.8,520.8 712.9,520.5 710.0,520.1 707.1,519.7 704.2,519.4 701.3,519.0 698.4,518.7 695.5,518.3 692.6,518.0 689.7,517.7 686.8,517.3 683.9,517.0 681.0,516.7 678.0,516.4 675.1,516.1 672.2,515.7 669.3,515.4 666.4,515.1 663.5,514.8 660.6,514.5 657.7,514.2 654.8,514.0 651.8,513.8 648.9,513.7 646.0,513.5 643.1,513.3 640.2,513.1 637.3,512.9 634.4,512.7 631.5,512.5 628.5,512.3 625.6,512.1 622.7,511.9 619.8,511.7 616.9,511.5 614.0,511.4 611.1,511.2 608.1,511.0 605.2,510.8 602.3,510.7 599.4,510.7 596.5,510.7 593.6,510.6 590.6,510.6 587.7,510.6 584.8,510.6 581.9,510.5 579.0,510.5 576.0,509.2 572.8,506.9 569.8,506.1"/>
<polygon fill="#00FF8B" points="569.8,506.1 572.8,506.1 575.6,504.4 578.4,503.1 581.3,502.8 584.2,502.8 587.1,502.7 590.1,502.7 593.0,502.6 595.9,502.5 598.9,502.5 601.8,502.4 604.7,502.4 607.6,502.5 610.6,502.5 613.5,502.6 616.4,502.7 619.4,502.8 622.3,502.8 625.2,502.9 628.2,503.0 631.1,503.1 634.0,503.2 637.0,503.3 639.9,503.4 642.8,503.4 645.7,503.5 648.7,503.6 651.6,503.6 654.5,503.7 657.5,503.8 660.4,504.0 663.3,504.1 666.3,504.3 669.2,504.5 672.1,504.7 675.1,504.8 678.0,505.0 680.9,505.2 683.9,505.3 686.8,505.5 689.7,505.6 692.7,505.8 695.6,506.0 698.6,506.2 701.5,506.4 704.4,506.6 707.4,506.8 710.3,507.0 713.2,507.2 716.2,507.4 719.1,507.6 722.0,507.8 725.0,508.0 727.9,508.2 730.9,508.4 733.8,508.7 736.8,508.9 739.7,509.1 742.6,509.3 745.6,509.5 748.5,509.8 751.5,510.0 754.4,510.2 757.4,510.5 760.3,510.7 763.3,510.9 766.2,511.0 769.2,511.2 772.1,511.4 775.1,511.5 778.0,511.7 781.0,511.8 783.9,512.0 786.9,512.2 789.8,512.4 792.8,512.5 795.8,512.6 798.7,512.7 801.7,512.8 804.7,512.8 807.6,512.8 810.6,512.8 813.6,512.8 816.6,512.8 819.6,512.9 822.6,513.0 825.5,513.1 828.5,513.1 831.5,513.1 834.5,513.1 837.5,513.1 840.5,513.0 843.6,512.9 846.6,512.8 849.6,512.6 852.6,512.4 855.7,512.1 858.7,511.8 861.8,511.5 864.9,511.0 868.0,510.3 871.0,510.1 874.0,510.5 877.0,510.9 880.0,511.3 882.9,511.7 885.9,512.1 888.9,512.5 891.8,512.9 894.8,513.3 897.8,513.7 900.8,514.1 903.7,514.5 906.7,514.8 909.7,515.2 912.6,515.6 915.6,516.0 918.6,516.4 921.5,516.8 924.5,517.2 916.8,560.2 914.0,559.8 911.1,559.4 908.2,559.0 905.3,558.6 902.4,558.2 899.6,557.7 896.7,557.3 893.8,556.9 890.9,556.5 888.1,556.1 885.2,555.7 882.3,555.3 879.4,554.9 876.6,554.5 873.7,554.1 870.8,553.6 867.9,553.2 865.1,552.8 862.2,552.4 859.3,552.0 856.4,551.6 853.6,551.2 850.7,550.5 847.9,549.4 845.1,548.2 842.4,547.0 839.6,545.9 836.8,544.8 833.9,543.8 831.1,542.8 828.3,541.9 825.5,541.1 822.6,540.2 819.8,539.4 816.9,538.7 814.0,538.0 811.2,537.4 808.3,536.7 805.5,536.1 802.6,535.4 799.7,534.8 796.9,534.2 794.0,533.6 791.1,533.0 788.2,532.4 785.3,531.7 782.5,531.1 779.6,530.5 776.7,529.8 773.8,529.3 770.9,528.7 768.0,528.1 765.2,527.6 762.3,527.0 759.4,526.4 756.5,525.7 753.6,525.0 750.7,524.3 747.8,523.7 744.9,523.2 742.0,522.7 739.1,522.2 736.2,521.8 733.3,521.4 730.4,520.9 727.5,520.5 724.6,520.1 721.7,519.8 718.8,519.4 715.9,519.1 713.0,518.7 710.1,518.4 707.1,518.0 704.2,517.7 701.3,517.4 698.4,517.0 695.5,516.7 692.6,516.4 689.7,516.1 686.8,515.8 683.9,515.5 680.9,515.2 678.0,514.9 675.1,514.6 672.2,514.3 669.3,514.0 666.4,513.7 663.5,513.4 660.6,513.1 657.6,512.9 654.7,512.7 651.8,512.5 648.9,512.3 646.0,512.2 643.1,512.0 640.2,511.8 637.2,511.6 634.3,511.5 631.4,511.3 628.5,511.1 625.6,510.9 622.7,510.7 619.7,510.5 616.8,510.4 613.9,510.2 611.0,510.0 608.1,509.9 605.2,509.7 602.2,509.6 599.3,509.6 596.4,509.6 593.5,509.6 590.6,509.6 587.7,509.6 584.7,509.5 581.8,509.5 578.9,509.2 575.8,507.9 572.8,506.1 569.8,506.1"/>
<polygon fill="#00FFE8" points="569.8,506.1 572.8,506.1 575.6,505.3 578.5,504.2 581.4,503.7 584.3,503.6 587.2,503.6 590.1,503.6 593.1,503.5 596.0,503.4 598.9,503.4 601.8,503.3 604.8,503.3 607.7,503.4 610.6,503.5 613.6,503.6 616.5,503.7 619.4,503.8 622.3,503.9 625.3,504.0 628.2,504.1 631.1,504.2 634.1,504.3 637.0,504.4 639.9,504.5 642.8,504.5 645.8,504.6 648.7,504.7 651.6,504.8 654.6,504.8 657.5,505.0 660.4,505.1 663.4,505.3 666.3,505.5 669.2,505.7 672.1,505.9 675.1,506.1 678.0,506.3 680.9,506.5 683.9,506.6 686.8,506.8 689.7,507.0 692.7,507.2 695.6,507.4 698.5,507.6 701.5,507.8 704.4,508.0 707.3,508.2 710.3,508.5 713.2,508.7 716.1,508.9 719.1,509.1 722.0,509.4 724.9,509.6 727.9,509.8 730.8,510.1 733.7,510.3 736.7,510.5 739.6,510.8 742.6,511.0 745.5,511.3 748.4,511.5 751.4,511.8 754.3,512.1 757.3,512.3 760.2,512.6 763.1,512.8 766.1,513.0 769.0,513.2 772.0,513.4 774.9,513.6 777.9,513.8 780.8,514.1 783.8,514.3 786.7,514.5 789.6,514.7 792.6,514.9 795.6,515.1 798.5,515.3 801.5,515.4 804.4,515.5 807.4,515.6 810.3,515.7 813.3,515.7 816.3,515.9 819.2,516.1 822.2,516.2 825.2,516.3 828.2,516.5 831.1,516.6 834.1,516.7 837.1,516.8 840.1,516.8 843.1,516.9 846.1,516.9 849.1,516.9 852.1,516.8 855.1,516.7 858.1,516.6 861.1,516.4 864.2,516.2 867.2,515.8 870.3,515.2 873.4,514.6 876.6,513.8 879.8,512.7 882.9,511.7 885.9,512.1 888.9,512.5 891.8,512.9 894.8,513.3 897.8,513.7 900.8,514.1 903.7,514.5 906.7,514.8 909.7,515.2 912.6,515.6 915.6,516.0 918.6,516.4 921.5,516.8 924.5,517.2 916.8,560.2 914.0,559.8 911.1,559.4 908.2,559.0 905.3,558.6 902.4,558.2 899.6,557.7 896.7,557.3 893.8,556.9 890.9,556.5 888.1,556.1 885.2,555.7 882.3,555.3 879.4,554.9 876.6,554.5 873.7,554.1 870.8,553.6 868.1,552.2 865.4,550.7 862.6,549.4 859.8,548.2 857.0,547.1 854.2,546.0 851.4,545.0 848.6,544.0 845.8,543.0 843.0,542.1 840.1,541.1 837.3,540.2 834.5,539.4 831.6,538.5 828.8,537.8 825.9,537.0 823.0,536.3 820.2,535.6 817.3,535.0 814.4,534.4 811.5,533.8 808.7,533.3 805.8,532.7 802.9,532.1 800.0,531.6 797.1,531.1 794.2,530.5 791.3,530.0 788.5,529.4 785.6,528.9 782.7,528.3 779.8,527.8 776.9,527.2 774.0,526.7 771.1,526.2 768.2,525.7 765.3,525.2 762.4,524.7 759.5,524.1 756.6,523.5 753.7,522.9 750.8,522.3 747.9,521.8 745.0,521.3 742.1,520.9 739.2,520.5 736.3,520.0 733.4,519.6 730.5,519.3 727.6,518.9 724.7,518.5 721.7,518.1 718.8,517.8 715.9,517.5 713.0,517.2 710.1,516.8 707.2,516.5 704.3,516.2 701.4,515.9 698.4,515.6 695.5,515.3 692.6,515.0 689.7,514.7 686.8,514.4 683.9,514.1 680.9,513.8 678.0,513.5 675.1,513.3 672.2,513.0 669.3,512.7 666.4,512.4 663.5,512.1 660.5,511.9 657.6,511.6 654.7,511.4 651.8,511.3 648.9,511.1 646.0,511.0 643.0,510.8 640.1,510.7 637.2,510.5 634.3,510.3 631.4,510.2 628.4,510.0 625.5,509.8 622.6,509.7 619.7,509.5 616.8,509.3 613.9,509.2 610.9,509.0 608.0,508.9 605.1,508.7 602.2,508.6 599.3,508.6 596.3,508.6 593.4,508.6 590.5,508.6 587.6,508.6 584.7,508.6 581.7,508.6 578.8,508.0 575.8,506.9 572.8,506.1 569.8,506.1"/>
<polygon fill="#00B9FF" points="569.8,506.1 572.8,506.1 575.7,506.1 578.5,505.1 581.4,504.5 584.3,504.4 587.3,504.4 590.2,504.3 593.1,504.3 596.0,504.2 599.0,504.2 601.9,504.2 604.8,504.2 607.8,504.3 610.7,504.4 613.6,504.5 616.5,504.6 619.5,504.7 622.4,504.8 625.3,504.9 628.2,505.0 631.2,505.1 634.1,505.2 637.0,505.3 639.9,505.4 642.9,505.5 645.8,505.6 648.7,505.7 651.7,505.8 654.6,505.9 657.5,506.0 660.4,506.2 663.4,506.4 666.3,506.6 669.2,506.8 672.2,507.0 675.1,507.2 678.0,507.4 680.9,507.6 683.9,507.8 686.8,508.0 689.7,508.2 692.7,508.4 695.6,508.6 698.5,508.8 701.4,509.1 704.4,509.3 707.3,509.5 710.2,509.7 713.2,510.0 716.1,510.2 719.0,510.5 722.0,510.7 724.9,511.0 727.8,511.2 730.8,511.5 733.7,511.8 736.6,512.0 739.6,512.3 742.5,512.5 745.4,512.8 748.4,513.1 751.3,513.4 754.2,513.7 757.2,514.0 760.1,514.3 763.0,514.5 766.0,514.8 768.9,515.0 771.8,515.3 774.8,515.5 777.7,515.8 780.7,516.0 783.6,516.3 786.5,516.6 789.5,516.8 792.4,517.1 795.4,517.3 798.3,517.5 801.3,517.7 804.2,517.9 807.2,518.0 810.1,518.2 813.1,518.3 816.0,518.6 819.0,518.8 821.9,519.0 824.9,519.2 827.8,519.4 830.8,519.7 833.7,519.9 836.7,520.0 839.7,520.2 842.6,520.4 845.6,520.5 848.6,520.6 851.6,520.7 854.6,520.8 857.6,520.8 860.5,520.8 863.5,520.8 866.6,520.6 869.6,520.4 872.7,520.1 875.7,519.6 878.8,519.0 882.0,518.2 885.1,517.2 888.4,515.8 891.7,514.1 894.8,513.3 897.8,513.7 900.8,514.1 903.7,514.5 906.7,514.8 909.7,515.2 912.6,515.6 915.6,516.0 918.6,516.4 921.5,516.8 924.5,517.2 916.8,560.2 914.0,559.8 911.1,559.4 908.2,559.0 905.3,558.6 902.4,558.2 899.6,557.7 896.7,557.3 893.8,556.9 890.9,556.5 888.1,556.1 885.3,555.2 882.6,553.4 879.9,551.5 877.2,549.9 874.5,548.4 871.8,547.0 869.0,545.8 866.2,544.6 863.4,543.6 860.6,542.7 857.7,541.8 854.9,540.9 852.1,540.1 849.2,539.3 846.4,538.5 843.5,537.7 840.6,536.9 837.8,536.2 834.9,535.5 832.0,534.8 829.2,534.1 826.3,533.5 823.4,532.9 820.5,532.3 817.6,531.8 814.7,531.2 811.8,530.7 808.9,530.2 806.1,529.7 803.2,529.3 800.3,528.8 797.4,528.3 794.5,527.9 791.6,527.4 788.7,526.9 785.8,526.4 782.9,525.9 780.0,525.4 777.1,524.9 774.2,524.4 771.3,524.0 768.3,523.5 765.4,523.1 762.5,522.7 759.6,522.2 756.7,521.6 753.8,521.1 750.9,520.6 748.0,520.1 745.1,519.7 742.2,519.3 739.3,518.9 736.4,518.5 733.4,518.1 730.5,517.8 727.6,517.4 724.7,517.0 721.8,516.7 718.9,516.4 716.0,516.1 713.0,515.8 710.1,515.5 707.2,515.2 704.3,514.9 701.4,514.6 698.5,514.3 695.5,514.0 692.6,513.7 689.7,513.4 686.8,513.2 683.9,512.9 680.9,512.6 678.0,512.4 675.1,512.1 672.2,511.8 669.3,511.6 666.4,511.3 663.4,511.0 660.5,510.8 657.6,510.6 654.7,510.4 651.8,510.2 648.8,510.1 645.9,510.0 643.0,509.8 640.1,509.7 637.2,509.5 634.2,509.4 631.3,509.2 628.4,509.0 625.5,508.9 622.6,508.7 619.6,508.6 616.7,508.4 613.8,508.3 610.9,508.1 608.0,508.0 605.0,507.8 602.1,507.8 599.2,507.8 596.3,507.8 593.4,507.8 590.4,507.8 587.5,507.8 584.6,507.8 581.7,507.7 578.7,507.1 575.7,506.1 572.8,506.1 569.8,506.1"/>
<polygon fill="#005DFF" points="569.8,506.1 572.8,506.1 575.7,506.1 578.6,505.7 581.5,505.3 584.4,505.1 587.3,505.1 590.2,505.0 593.2,505.0 596.1,504.9 599.0,504.9 601.9,504.9 604.9,504.9 607.8,505.0 610.7,505.1 613.6,505.2 616.6,505.3 619.5,505.4 622.4,505.5 625.3,505.7 628.3,505.8 631.2,505.9 634.1,506.1 637.1,506.2 640.0,506.3 642.9,506.5 645.8,506.6 648.8,506.7 651.7,506.8 654.6,506.9 657.5,507.1 660.5,507.3 663.4,507.5 666.3,507.8 669.2,508.0 672.2,508.2 675.1,508.5 678.0,508.7 680.9,508.9 683.9,509.1 686.8,509.4 689.7,509.6 692.6,509.9 695.6,510.1 698.5,510.4 701.4,510.6 704.4,510.9 707.3,511.1 710.2,511.4 713.1,511.7 716.1,512.0 719.0,512.2 721.9,512.5 724.8,512.8 727.8,513.1 730.7,513.4 733.6,513.7 736.5,514.0 739.5,514.4 742.4,514.7 745.3,515.0 748.2,515.4 751.2,515.7 754.1,516.1 757.0,516.4 759.9,516.8 762.9,517.1 765.8,517.4 768.7,517.8 771.7,518.1 774.6,518.4 777.5,518.8 780.4,519.1 783.4,519.5 786.3,519.8 789.2,520.2 792.1,520.5 795.1,520.9 798.0,521.2 800.9,521.5 803.8,521.9 806.8,522.2 809.7,522.5 812.6,522.8 815.5,523.2 818.5,523.6 821.4,523.9 824.3,524.3 827.2,524.7 830.2,525.1 833.1,525.5 836.0,525.9 839.0,526.3 841.9,526.7 844.8,527.1 847.7,527.5 850.7,527.3 853.8,526.9 856.8,526.4 859.9,525.8 863.0,525.2 866.0,524.8 869.0,524.8 872.0,524.8 875.0,524.7 878.0,524.5 881.1,524.1 884.2,523.7 887.3,523.0 890.4,522.1 893.6,521.3 896.7,520.2 900.0,518.7 903.4,516.6 906.7,514.8 909.7,515.2 912.6,515.6 915.6,516.0 918.6,516.4 921.5,516.8 924.5,517.2 916.8,560.2 914.0,559.8 911.1,559.4 908.2,559.0 905.3,558.6 902.4,558.2 899.9,556.0 897.3,553.6 894.7,551.6 892.0,549.8 889.3,548.3 886.6,546.9 883.8,545.6 881.0,544.3 878.2,543.2 875.4,542.1 872.6,541.2 869.8,540.3 866.9,539.4 864.1,538.6 861.3,537.3 858.6,535.6 855.8,534.0 853.0,532.5 850.3,531.1 847.4,529.8 844.5,529.4 841.6,529.0 838.7,528.6 835.8,528.2 832.8,527.8 829.9,527.4 827.0,527.0 824.1,526.6 821.2,526.2 818.2,525.9 815.3,525.5 812.4,525.1 809.5,524.8 806.5,524.5 803.6,524.2 800.7,523.8 797.8,523.5 794.9,523.2 791.9,522.8 789.0,522.5 786.1,522.1 783.2,521.8 780.3,521.4 777.3,521.1 774.4,520.7 771.5,520.4 768.6,520.1 765.7,519.7 762.7,519.4 759.8,519.1 756.9,518.7 754.0,518.4 751.0,518.0 748.1,517.7 745.2,517.3 742.3,517.0 739.4,516.7 736.4,516.3 733.5,516.0 730.6,515.7 727.7,515.4 724.8,515.1 721.8,514.8 718.9,514.5 716.0,514.3 713.1,514.0 710.2,513.7 707.2,513.4 704.3,513.2 701.4,512.9 698.5,512.7 695.6,512.4 692.6,512.2 689.7,511.9 686.8,511.7 683.9,511.4 680.9,511.2 678.0,511.0 675.1,510.8 672.2,510.5 669.3,510.3 666.3,510.1 663.4,509.8 660.5,509.6 657.6,509.4 654.7,509.2 651.7,509.1 648.8,509.0 645.9,508.9 643.0,508.8 640.1,508.6 637.1,508.5 634.2,508.4 631.3,508.2 628.4,508.1 625.4,508.0 622.5,507.8 619.6,507.7 616.7,507.6 613.8,507.5 610.8,507.4 607.9,507.2 605.0,507.1 602.1,507.0 599.2,507.1 596.2,507.1 593.3,507.1 590.4,507.1 587.5,507.1 584.5,507.1 581.6,507.0 578.7,506.5 575.7,506.1 572.8,506.1 569.8,506.1"/>
<polygon fill="#0000FF" points="569.8,506.1 572.8,506.1 575.7,506.1 578.6,506.0 581.5,505.8 584.4,505.7 587.4,505.6 590.3,505.6 593.2,505.6 596.1,505.6 599.1,505.5 602.0,505.5 604.9,505.5 607.8,505.7 610.8,505.8 613.7,505.9 616.6,506.0 619.5,506.1 622.5,506.3 625.4,506.4 628.3,506.5 631.2,506.7 634.2,506.8 637.1,506.9 640.0,507.1 642.9,507.2 645.9,507.3 648.8,507.4 651.7,507.5 654.6,507.7 657.5,507.8 660.5,508.0 663.4,508.2 666.3,508.5 669.2,508.7 672.2,509.0 675.1,509.2 678.0,509.4 680.9,509.6 683.9,509.9 686.8,510.1 689.7,510.3 692.6,510.6 695.6,510.8 698.5,511.1 701.4,511.3 704.3,511.6 707.3,511.9 710.2,512.1 713.1,512.4 716.0,512.7 719.0,513.0 721.9,513.2 724.8,513.5 727.7,513.8 730.7,514.1 733.6,514.5 736.5,514.8 739.4,515.1 742.4,515.4 745.3,515.7 748.2,516.1 751.1,516.4 754.1,516.8 757.0,517.2 759.9,517.5 762.8,517.8 765.8,518.2 768.7,518.5 771.6,518.8 774.5,519.2 777.5,519.5 780.4,519.9 783.3,520.2 786.2,520.6 789.1,520.9 792.1,521.3 795.0,521.6 797.9,522.0 800.8,522.3 803.8,522.6 806.7,522.9 809.6,523.2 812.5,523.6 815.5,523.9 818.4,524.3 821.3,524.7 824.2,525.0 827.2,525.5 830.1,525.9 833.0,526.3 835.9,526.7 838.9,527.1 841.8,527.5 844.7,528.0 847.6,528.5 850.5,529.1 853.4,529.5 856.4,529.9 859.3,530.3 862.2,530.7 865.1,531.1 868.1,531.5 871.0,531.9 873.9,532.3 876.8,532.7 879.7,533.1 882.7,533.5 885.6,533.9 888.5,534.3 891.4,534.7 894.4,535.1 897.3,535.5 900.2,535.9 903.1,536.3 906.1,536.7 909.0,537.1 911.9,537.5 914.8,537.9 917.8,538.3 920.7,538.7 920.7,538.7 917.8,538.3 914.8,537.9 911.9,537.5 909.0,537.1 906.1,536.7 903.1,536.3 900.2,535.9 897.3,535.5 894.4,535.1 891.4,534.7 888.5,534.3 885.6,533.9 882.7,533.5 879.7,533.1 876.8,532.7 873.9,532.3 871.0,531.9 868.1,531.5 865.1,531.1 862.2,530.7 859.3,530.3 856.4,529.9 853.4,529.5 850.5,529.1 847.6,528.9 844.6,528.6 841.7,528.3 838.8,527.9 835.8,527.5 832.9,527.1 830.0,526.7 827.1,526.3 824.2,525.9 821.2,525.5 818.3,525.1 815.4,524.8 812.5,524.4 809.5,524.1 806.6,523.8 803.7,523.4 800.8,523.1 797.8,522.8 794.9,522.5 792.0,522.1 789.1,521.8 786.2,521.4 783.2,521.1 780.3,520.7 777.4,520.3 774.5,520.0 771.5,519.7 768.6,519.3 765.7,519.0 762.8,518.7 759.9,518.3 756.9,518.0 754.0,517.6 751.1,517.3 748.2,516.9 745.2,516.6 742.3,516.2 739.4,515.9 736.5,515.6 733.6,515.3 730.6,515.0 727.7,514.7 724.8,514.4 721.9,514.1 718.9,513.8 716.0,513.5 713.1,513.2 710.2,513.0 707.2,512.7 704.3,512.4 701.4,512.2 698.5,511.9 695.6,511.7 692.6,511.4 689.7,511.2 686.8,510.9 683.9,510.7 680.9,510.5 678.0,510.3 675.1,510.0 672.2,509.8 669.3,509.6 666.3,509.3 663.4,509.1 660.5,508.8 657.6,508.7 654.6,508.5 651.7,508.4 648.8,508.3 645.9,508.1 643.0,508.0 640.0,507.9 637.1,507.8 634.2,507.7 631.3,507.5 628.3,507.4 625.4,507.2 622.5,507.1 619.6,507.0 616.6,506.9 613.7,506.7 610.8,506.6 607.9,506.5 605.0,506.4 602.0,506.3 599.1,506.4 596.2,506.4 593.3,506.4 590.3,506.5 587.4,506.5 584.5,506.5 581.6,506.4 578.6,506.2 575.7,506.1 572.8,506.1 569.8,506.1"/>
<polygon fill="#0000FF" points="910.5,516.4 923.7,521.5 920.8,531.2 913.4,526.7"/>
<polygon fill="#0000FF" points="904.2,550.7 910.5,547.9 918.5,546.7 917.6,555.9 904.8,553.9"/>
</g>
<polygon fill="#CACACA" points="568.4,489.6 571.4,489.6 574.3,489.6 577.3,489.6 580.2,489.6 583.2,489.6 586.2,489.6 589.1,489.5 592.1,489.5 595.1,489.4 598.0,489.4 601.0,489.3 603.9,489.3 606.9,489.4 609.9,489.5 612.8,489.5 615.8,489.6 618.7,489.7 621.7,489.8 624.7,489.9 627.6,490.0 630.6,490.1 633.5,490.2 636.5,490.3 639.5,490.4 642.4,490.5 645.4,490.6 648.4,490.7 651.3,490.8 654.3,490.9 657.2,491.1 660.2,491.3 663.2,491.5 666.1,491.7 669.1,492.0 672.0,492.2 675.0,492.4 678.0,492.6 680.9,492.8 683.9,493.0 686.9,493.2 689.8,493.4 692.8,493.7 695.7,494.0 698.7,494.2 701.7,494.5 704.6,494.8 707.6,495.0 710.5,495.4 713.5,495.7 716.5,496.0 719.4,496.3 722.4,496.6 725.3,496.9 728.3,497.2 731.3,497.6 734.2,497.9 737.2,498.2 740.2,498.5 743.1,498.8 746.1,499.2 749.0,499.6 752.0,499.9 755.0,500.3 757.9,500.6 760.9,501.0 763.8,501.3 766.8,501.6 769.8,501.9 772.7,502.2 775.7,502.5 778.6,502.8 781.6,503.2 784.6,503.5 787.5,503.9 790.5,504.3 793.5,504.7 796.4,505.0 799.4,505.4 802.3,505.7 805.3,506.0 808.3,506.3 811.2,506.6 814.2,506.9 817.1,507.3 820.1,507.7 823.1,508.1 826.0,508.5 829.0,508.9 832.0,509.3 834.9,509.7 837.9,510.1 840.8,510.5 843.8,510.9 846.8,511.3 849.7,511.7 852.7,512.1 855.6,512.4 858.6,512.8 861.6,513.2 864.5,513.6 867.5,514.0 870.4,514.4 873.4,514.8 876.4,515.2 879.3,515.6 882.3,516.0 885.3,516.4 888.2,516.8 891.2,517.2 894.1,517.6 897.1,518.0 900.1,518.4 903.0,518.7 906.0,519.1 908.9,519.5 911.9,519.9 914.9,520.3 917.8,520.7 920.8,521.1 923.8,521.5 915.4,504.0 912.7,503.7 909.9,503.3 907.2,502.9 904.5,502.6 901.8,502.2 899.0,501.8 896.3,501.5 893.6,501.1 890.9,500.8 888.1,500.4 885.4,500.0 882.7,499.7 880.0,499.3 877.2,498.9 874.5,498.6 871.8,498.2 869.1,497.8 866.3,497.5 863.6,497.1 860.9,496.7 858.2,496.4 855.4,496.0 852.7,495.6 850.0,495.3 847.3,494.9 844.6,494.5 841.8,494.2 839.1,493.8 836.4,493.4 833.7,493.1 830.9,492.7 828.2,492.4 825.5,492.0 822.8,491.6 820.0,491.3 817.3,490.9 814.6,490.6 811.9,490.3 809.1,490.0 806.4,489.7 803.7,489.4 801.0,489.1 798.2,488.8 795.5,488.5 792.8,488.1 790.1,487.8 787.3,487.5 784.6,487.2 781.9,486.9 779.2,486.6 776.5,486.3 773.7,486.0 771.0,485.7 768.3,485.3 765.6,485.0 762.8,484.7 760.1,484.4 757.4,484.1 754.7,483.8 751.9,483.4 749.2,483.1 746.5,482.8 743.8,482.5 741.0,482.2 738.3,481.9 735.6,481.6 732.9,481.4 730.1,481.1 727.4,480.8 724.7,480.5 722.0,480.2 719.2,480.0 716.5,479.8 713.8,479.6 711.1,479.4 708.4,479.2 705.6,479.1 702.9,478.9 700.2,478.7 697.5,478.5 694.7,478.4 692.0,478.2 689.3,478.0 686.6,477.8 683.8,477.6 681.1,477.5 678.4,477.3 675.7,477.1 672.9,476.9 670.2,476.8 667.5,476.6 664.8,476.4 662.0,476.2 659.3,476.1 656.6,476.0 653.9,475.9 651.1,475.8 648.4,475.7 645.7,475.6 643.0,475.5 640.2,475.4 637.5,475.3 634.8,475.2 632.1,475.1 629.4,475.0 626.6,474.8 623.9,474.7 621.2,474.6 618.5,474.6 615.7,474.5 613.0,474.5 610.3,474.4 607.6,474.4 604.8,474.4 602.1,474.3 599.4,474.3 596.7,474.2 593.9,474.2 591.2,474.1 588.5,474.1"/>
<polygon fill="#FF0000" stroke="#FF0000" stroke-width="0.3" points="743.6,498.9 746.0,499.2 748.5,499.5 750.9,499.8 753.3,500.1 755.8,500.4 758.2,500.7 763.1,484.8 760.9,484.5 758.6,484.2 756.4,484.0 754.1,483.7 751.9,483.4 749.7,483.2"/>
<polygon fill="#FF5D00" stroke="#FF5D00" stroke-width="0.3" points="758.2,500.7 760.6,501.0 763.0,501.2 765.4,501.4 767.8,501.7 770.2,501.9 772.6,502.2 776.3,486.3 774.1,486.0 771.9,485.8 769.7,485.5 767.5,485.3 765.3,485.0 763.1,484.8"/>
<polygon fill="#FFB900" stroke="#FFB900" stroke-width="0.3" points="772.6,502.2 775.0,502.4 777.5,502.7 780.0,503.0 782.4,503.3 784.8,503.6 787.3,503.9 789.9,487.8 787.6,487.6 785.4,487.3 783.1,487.0 780.8,486.8 778.6,486.5 776.3,486.3"/>
<polygon fill="#E8FF00" stroke="#E8FF00" stroke-width="0.3" points="787.3,503.9 789.7,504.2 792.1,504.5 794.5,504.8 796.8,505.1 799.2,505.3 801.6,505.6 803.0,489.3 800.8,489.1 798.6,488.8 796.4,488.6 794.2,488.3 792.1,488.1 789.9,487.8"/>
<polygon fill="#8BFF00" stroke="#8BFF00" stroke-width="0.3" points="801.6,505.6 803.8,505.8 805.9,506.0 808.1,506.3 810.3,506.5 812.4,506.7 814.6,507.0 815.0,490.7 813.0,490.4 811.0,490.2 809.0,490.0 807.0,489.8 805.0,489.5 803.0,489.3"/>
<polygon fill="#2EFF00" stroke="#2EFF00" stroke-width="0.3" points="814.6,507.0 817.4,507.4 820.2,507.7 823.0,508.1 825.8,508.5 828.6,508.8 831.4,509.2 830.4,492.6 827.8,492.3 825.3,492.0 822.7,491.6 820.1,491.3 817.5,491.0 815.0,490.7"/>
<polygon fill="#00FF2E" stroke="#00FF2E" stroke-width="0.3" points="831.4,509.2 834.2,509.6 836.9,510.0 839.7,510.3 842.5,510.7 845.2,511.1 848.0,511.4 845.7,494.7 843.2,494.4 840.6,494.0 838.1,493.7 835.5,493.3 833.0,493.0 830.4,492.6"/>
<polygon fill="#00FF8B" stroke="#00FF8B" stroke-width="0.3" points="848.0,511.4 850.8,511.8 853.6,512.2 856.4,512.5 859.1,512.9 861.9,513.3 864.7,513.7 861.1,496.8 858.5,496.4 855.9,496.1 853.4,495.7 850.8,495.4 848.3,495.0 845.7,494.7"/>
<polygon fill="#00FFE8" stroke="#00FFE8" stroke-width="0.3" points="864.7,513.7 867.0,514.0 869.2,514.3 871.5,514.6 873.7,514.8 876.0,515.1 878.2,515.4 873.5,498.4 871.4,498.1 869.3,497.9 867.3,497.6 865.2,497.3 863.1,497.0 861.1,496.8"/>
<polygon fill="#00B9FF" stroke="#00B9FF" stroke-width="0.3" points="878.2,515.4 880.3,515.7 882.4,516.0 884.5,516.3 886.5,516.6 888.6,516.8 890.7,517.1 885.0,500.0 883.1,499.7 881.1,499.4 879.2,499.2 877.3,498.9 875.4,498.7 873.5,498.4"/>
<polygon fill="#005DFF" stroke="#005DFF" stroke-width="0.3" points="890.7,517.1 893.4,517.5 896.1,517.8 898.9,518.2 901.6,518.6 904.3,518.9 907.0,519.3 900.0,502.0 897.5,501.6 895.0,501.3 892.5,501.0 890.0,500.6 887.5,500.3 885.0,500.0"/>
<polygon fill="#0000FF" stroke="#0000FF" stroke-width="0.3" points="907.0,519.3 909.8,519.6 912.6,520.0 915.4,520.4 918.2,520.8 921.0,521.1 923.8,521.5 915.4,504.0 912.8,503.7 910.2,503.3 907.7,503.0 905.1,502.7 902.5,502.3 900.0,502.0"/>
<g stroke="#222" stroke-width="0.5" fill="none" opacity="0.8">
<line x1="568.4" y1="489.6" x2="571.3" y2="522.6"/>
<line x1="568.4" y1="489.6" x2="588.5" y2="474.1"/>
<line x1="585.5" y1="489.6" x2="588.0" y2="522.5"/>
<line x1="585.5" y1="489.6" x2="604.2" y2="474.4"/>
<line x1="602.7" y1="489.3" x2="604.7" y2="522.6"/>
<line x1="602.7" y1="489.3" x2="620.0" y2="474.6"/>
<line x1="619.9" y1="489.7" x2="621.5" y2="523.5"/>
<line x1="619.9" y1="489.7" x2="635.9" y2="475.2"/>
<line x1="637.3" y1="490.3" x2="638.4" y2="524.5"/>
<line x1="637.3" y1="490.3" x2="651.8" y2="475.8"/>
<line x1="654.6" y1="490.9" x2="655.3" y2="525.3"/>
<line x1="654.6" y1="490.9" x2="667.8" y2="476.6"/>
<line x1="672.1" y1="492.2" x2="672.4" y2="526.6"/>
<line x1="672.1" y1="492.2" x2="683.9" y2="477.7"/>
<line x1="689.6" y1="493.4" x2="689.4" y2="528.1"/>
<line x1="689.6" y1="493.4" x2="700.0" y2="478.7"/>
<line x1="707.2" y1="495.0" x2="706.6" y2="529.5"/>
<line x1="707.2" y1="495.0" x2="716.2" y2="479.8"/>
<line x1="724.9" y1="496.9" x2="723.8" y2="530.9"/>
<line x1="724.9" y1="496.9" x2="732.4" y2="481.3"/>
<line x1="742.6" y1="498.8" x2="741.1" y2="532.8"/>
<line x1="742.6" y1="498.8" x2="748.7" y2="483.0"/>
<line x1="760.4" y1="500.9" x2="758.4" y2="534.8"/>
<line x1="760.4" y1="500.9" x2="765.1" y2="485.0"/>
<line x1="778.3" y1="502.8" x2="775.8" y2="537.0"/>
<line x1="778.3" y1="502.8" x2="781.6" y2="486.9"/>
<line x1="796.2" y1="505.0" x2="793.3" y2="539.0"/>
<line x1="796.2" y1="505.0" x2="798.1" y2="488.7"/>
<line x1="814.2" y1="506.9" x2="810.9" y2="541.1"/>
<line x1="814.2" y1="506.9" x2="814.6" y2="490.6"/>
<line x1="832.3" y1="509.3" x2="828.5" y2="543.3"/>
<line x1="832.3" y1="509.3" x2="831.3" y2="492.8"/>
<line x1="850.5" y1="511.8" x2="846.2" y2="545.8"/>
<line x1="850.5" y1="511.8" x2="848.0" y2="495.0"/>
<line x1="868.7" y1="514.2" x2="863.9" y2="548.3"/>
<line x1="868.7" y1="514.2" x2="864.7" y2="497.2"/>
<line x1="887.0" y1="516.6" x2="881.8" y2="550.8"/>
<line x1="887.0" y1="516.6" x2="881.5" y2="499.5"/>
<line x1="905.3" y1="519.1" x2="899.6" y2="553.4"/>
<line x1="905.3" y1="519.1" x2="898.4" y2="501.8"/>
<line x1="923.8" y1="521.5" x2="917.6" y2="555.9"/>
<line x1="923.8" y1="521.5" x2="915.4" y2="504.0"/>
<polyline points="568.4,489.6 571.4,489.6 574.3,489.6 577.3,489.6 580.2,489.6 583.2,489.6 586.2,489.6 589.1,489.5 592.1,489.5 595.1,489.4 598.0,489.4 601.0,489.3 603.9,489.3 606.9,489.4 609.9,489.5 612.8,489.5 615.8,489.6 618.7,489.7 621.7,489.8 624.7,489.9 627.6,490.0 630.6,490.1 633.5,490.2 636.5,490.3 639.5,490.4 642.4,490.5 645.4,490.6 648.4,490.7 651.3,490.8 654.3,490.9 657.2,491.1 660.2,491.3 663.2,491.5 666.1,491.7 669.1,492.0 672.0,492.2 675.0,492.4 678.0,492.6 680.9,492.8 683.9,493.0 686.9,493.2 689.8,493.4 692.8,493.7 695.7,494.0 698.7,494.2 701.7,494.5 704.6,494.8 707.6,495.0 710.5,495.4 713.5,495.7 716.5,496.0 719.4,496.3 722.4,496.6 725.3,496.9 728.3,497.2 731.3,497.6 734.2,497.9 737.2,498.2 740.2,498.5 743.1,498.8 746.1,499.2 749.0,499.6 752.0,499.9 755.0,500.3 757.9,500.6 760.9,501.0 763.8,501.3 766.8,501.6 769.8,501.9 772.7,502.2 775.7,502.5 778.6,502.8 781.6,503.2 784.6,503.5 787.5,503.9 790.5,504.3 793.5,504.7 796.4,505.0 799.4,505.4 802.3,505.7 805.3,506.0 808.3,506.3 811.2,506.6 814.2,506.9 817.1,507.3 820.1,507.7 823.1,508.1 826.0,508.5 829.0,508.9 832.0,509.3 834.9,509.7 837.9,510.1 840.8,510.5 843.8,510.9 846.8,511.3 849.7,511.7 852.7,512.1 855.6,512.4 858.6,512.8 861.6,513.2 864.5,513.6 867.5,514.0 870.4,514.4 873.4,514.8 876.4,515.2 879.3,515.6 882.3,516.0 885.3,516.4 888.2,516.8 891.2,517.2 894.1,517.6 897.1,518.0 900.1,518.4 903.0,518.7 906.0,519.1 908.9,519.5 911.9,519.9 914.9,520.3 917.8,520.7 920.8,521.1 923.8,521.5"/>
<polyline points="571.3,522.6 574.2,522.6 577.1,522.6 580.0,522.6 582.8,522.6 585.7,522.6 588.6,522.5 591.5,522.5 594.4,522.5 597.3,522.5 600.2,522.5 603.0,522.5 605.9,522.6 608.8,522.8 611.7,523.0 614.6,523.1 617.5,523.3 620.4,523.5 623.2,523.6 626.1,523.8 629.0,524.0 631.9,524.1 634.8,524.3 637.7,524.5 640.6,524.6 643.4,524.8 646.3,524.9 649.2,525.0 652.1,525.1 655.0,525.3 657.9,525.4 660.8,525.6 663.6,525.8 666.5,526.1 669.4,526.3 672.3,526.6 675.2,526.8 678.1,527.1 681.0,527.3 683.8,527.6 686.7,527.8 689.6,528.1 692.5,528.3 695.4,528.5 698.3,528.8 701.2,529.0 704.0,529.3 706.9,529.5 709.8,529.7 712.7,530.0 715.6,530.2 718.5,530.5 721.4,530.7 724.2,531.0 727.1,531.3 730.0,531.6 732.9,531.9 735.8,532.2 738.7,532.5 741.6,532.8 744.5,533.1 747.3,533.5 750.2,533.8 753.1,534.1 756.0,534.5 758.9,534.9 761.8,535.2 764.7,535.6 767.5,535.9 770.4,536.3 773.3,536.7 776.2,537.0 779.1,537.4 782.0,537.7 784.9,538.1 787.7,538.4 790.6,538.7 793.5,539.1 796.4,539.4 799.3,539.7 802.2,540.0 805.1,540.4 807.9,540.7 810.8,541.0 813.7,541.4 816.6,541.7 819.5,542.0 822.4,542.4 825.3,542.8 828.1,543.3 831.0,543.7 833.9,544.1 836.8,544.5 839.7,544.9 842.6,545.3 845.5,545.7 848.3,546.1 851.2,546.5 854.1,546.9 857.0,547.3 859.9,547.7 862.8,548.1 865.7,548.6 868.5,549.0 871.4,549.4 874.3,549.8 877.2,550.2 880.1,550.6 883.0,551.0 885.9,551.4 888.7,551.8 891.6,552.2 894.5,552.6 897.4,553.0 900.3,553.5 903.2,553.9 906.1,554.3 908.9,554.7 911.8,555.1 914.7,555.5 917.6,555.9"/>
<polyline points="569.8,506.1 572.8,506.1 575.7,506.1 578.6,506.1 581.5,506.1 584.5,506.1 587.4,506.1 590.3,506.0 593.2,506.0 596.2,506.0 599.1,506.0 602.0,505.9 604.9,506.0 607.9,506.1 610.8,506.2 613.7,506.3 616.6,506.4 619.6,506.6 622.5,506.7 625.4,506.8 628.3,507.0 631.2,507.1 634.2,507.2 637.1,507.4 640.0,507.5 642.9,507.6 645.9,507.7 648.8,507.8 651.7,508.0 654.6,508.1 657.6,508.2 660.5,508.4 663.4,508.7 666.3,508.9 669.3,509.1 672.2,509.4 675.1,509.6 678.0,509.8 680.9,510.1 683.9,510.3 686.8,510.5 689.7,510.8 692.6,511.0 695.6,511.3 698.5,511.5 701.4,511.8 704.3,512.0 707.3,512.3 710.2,512.6 713.1,512.8 716.0,513.1 719.0,513.4 721.9,513.7 724.8,513.9 727.7,514.3 730.6,514.6 733.6,514.9 736.5,515.2 739.4,515.5 742.3,515.8 745.3,516.2 748.2,516.5 751.1,516.8 754.0,517.2 757.0,517.6 759.9,517.9 762.8,518.3 765.7,518.6 768.7,518.9 771.6,519.2 774.5,519.6 777.4,519.9 780.3,520.3 783.3,520.6 786.2,521.0 789.1,521.3 792.0,521.7 795.0,522.0 797.9,522.4 800.8,522.7 803.7,523.0 806.7,523.3 809.6,523.7 812.5,524.0 815.4,524.3 818.4,524.7 821.3,525.1 824.2,525.5 827.1,525.9 830.0,526.3 833.0,526.7 835.9,527.1 838.8,527.5 841.7,527.9 844.7,528.3 847.6,528.7 850.5,529.1 853.4,529.5 856.4,529.9 859.3,530.3 862.2,530.7 865.1,531.1 868.1,531.5 871.0,531.9 873.9,532.3 876.8,532.7 879.7,533.1 882.7,533.5 885.6,533.9 888.5,534.3 891.4,534.7 894.4,535.1 897.3,535.5 900.2,535.9 903.1,536.3 906.1,536.7 909.0,537.1 911.9,537.5 914.8,537.9 917.8,538.3 920.7,538.7"/>
<polyline points="573.4,485.7 576.3,485.7 579.2,485.7 582.1,485.8 585.0,485.8 587.9,485.8 590.8,485.8 593.7,485.8 596.6,485.7 599.5,485.7 602.4,485.7 605.3,485.7 608.2,485.6 611.1,485.7 614.1,485.8 617.0,485.9 619.9,486.0 622.8,486.0 625.7,486.1 628.6,486.2 631.5,486.3 634.4,486.4 637.3,486.5 640.2,486.6 643.1,486.7 646.0,486.8 648.9,486.9 651.8,487.1 654.7,487.2 657.6,487.3 660.5,487.5 663.4,487.7 666.3,487.9 669.2,488.1 672.1,488.3 675.0,488.6 677.9,488.8 680.8,489.0 683.7,489.2 686.6,489.4 689.5,489.6 692.4,489.8 695.3,490.0 698.2,490.2 701.1,490.5 704.0,490.7 706.9,491.0 709.8,491.2 712.7,491.5 715.6,491.8 718.5,492.1 721.4,492.4 724.3,492.7 727.2,493.0 730.1,493.3 733.0,493.7 735.9,494.0 738.8,494.3 741.7,494.6 744.6,494.9 747.5,495.2 750.4,495.6 753.3,496.0 756.2,496.3 759.1,496.7 762.0,497.0 765.0,497.3 767.9,497.6 770.8,497.9 773.7,498.2 776.6,498.5 779.5,498.8 782.4,499.2 785.3,499.5 788.2,499.9 791.1,500.3 794.0,500.6 796.9,501.0 799.8,501.3 802.7,501.6 805.6,501.9 808.5,502.2 811.4,502.5 814.3,502.9 817.2,503.2 820.1,503.6 823.0,504.0 825.9,504.4 828.8,504.8 831.7,505.1 834.6,505.5 837.5,505.9 840.4,506.3 843.3,506.7 846.2,507.1 849.1,507.5 852.0,507.9 854.9,508.2 857.8,508.6 860.7,509.0 863.6,509.4 866.5,509.8 869.4,510.2 872.3,510.6 875.2,511.0 878.1,511.3 881.0,511.7 883.9,512.1 886.8,512.5 889.7,512.9 892.6,513.3 895.5,513.7 898.4,514.0 901.3,514.4 904.2,514.8 907.1,515.2 910.0,515.6 913.0,516.0 915.9,516.4 918.8,516.7 921.7,517.1"/>
<polyline points="578.4,481.9 581.3,481.9 584.1,481.9 587.0,481.9 589.8,481.9 592.7,482.0 595.5,482.0 598.3,482.0 601.2,482.0 604.0,482.0 606.9,482.0 609.7,482.0 612.6,482.0 615.4,482.1 618.2,482.1 621.1,482.2 623.9,482.3 626.8,482.4 629.6,482.5 632.5,482.6 635.3,482.7 638.1,482.8 641.0,482.9 643.8,483.0 646.7,483.1 649.5,483.2 652.4,483.3 655.2,483.5 658.0,483.6 660.9,483.7 663.7,483.9 666.6,484.1 669.4,484.3 672.3,484.5 675.1,484.7 677.9,484.9 680.8,485.1 683.6,485.3 686.5,485.5 689.3,485.7 692.2,485.9 695.0,486.1 697.8,486.3 700.7,486.5 703.5,486.7 706.4,487.0 709.2,487.2 712.1,487.4 714.9,487.7 717.7,487.9 720.6,488.2 723.4,488.5 726.3,488.8 729.1,489.1 731.9,489.4 734.8,489.7 737.6,490.0 740.5,490.3 743.3,490.6 746.2,491.0 749.0,491.3 751.8,491.7 754.7,492.0 757.5,492.3 760.4,492.7 763.2,493.0 766.1,493.3 768.9,493.6 771.7,493.9 774.6,494.2 777.4,494.5 780.3,494.8 783.1,495.2 786.0,495.5 788.8,495.9 791.6,496.2 794.5,496.6 797.3,496.9 800.2,497.2 803.0,497.5 805.9,497.8 808.7,498.2 811.5,498.5 814.4,498.8 817.2,499.1 820.1,499.5 822.9,499.9 825.8,500.2 828.6,500.6 831.4,501.0 834.3,501.4 837.1,501.8 840.0,502.1 842.8,502.5 845.7,502.9 848.5,503.3 851.3,503.7 854.2,504.0 857.0,504.4 859.9,504.8 862.7,505.2 865.6,505.6 868.4,505.9 871.2,506.3 874.1,506.7 876.9,507.1 879.8,507.5 882.6,507.8 885.5,508.2 888.3,508.6 891.1,509.0 894.0,509.4 896.8,509.7 899.7,510.1 902.5,510.5 905.4,510.9 908.2,511.3 911.0,511.6 913.9,512.0 916.7,512.4 919.6,512.8"/>
<polyline points="583.5,478.0 586.3,478.0 589.0,478.0 591.8,478.1 594.6,478.1 597.4,478.1 600.2,478.2 603.0,478.2 605.7,478.2 608.5,478.2 611.3,478.2 614.1,478.3 616.9,478.3 619.7,478.4 622.4,478.5 625.2,478.6 628.0,478.7 630.8,478.8 633.6,478.9 636.4,479.0 639.1,479.1 641.9,479.2 644.7,479.3 647.5,479.4 650.3,479.5 653.1,479.6 655.8,479.7 658.6,479.8 661.4,480.0 664.2,480.2 667.0,480.3 669.8,480.5 672.5,480.7 675.3,480.9 678.1,481.1 680.9,481.3 683.7,481.5 686.5,481.7 689.2,481.8 692.0,482.0 694.8,482.2 697.6,482.4 700.4,482.6 703.2,482.8 705.9,483.0 708.7,483.2 711.5,483.4 714.3,483.6 717.1,483.8 719.9,484.1 722.6,484.4 725.4,484.7 728.2,485.0 731.0,485.2 733.8,485.5 736.6,485.8 739.3,486.1 742.1,486.4 744.9,486.7 747.7,487.0 750.5,487.4 753.3,487.7 756.0,488.0 758.8,488.4 761.6,488.7 764.4,489.0 767.2,489.3 770.0,489.6 772.7,489.9 775.5,490.3 778.3,490.6 781.1,490.9 783.9,491.2 786.7,491.5 789.4,491.9 792.2,492.2 795.0,492.5 797.8,492.8 800.6,493.1 803.4,493.5 806.1,493.8 808.9,494.1 811.7,494.4 814.5,494.7 817.3,495.0 820.1,495.4 822.8,495.7 825.6,496.1 828.4,496.5 831.2,496.9 834.0,497.2 836.8,497.6 839.5,498.0 842.3,498.4 845.1,498.7 847.9,499.1 850.7,499.5 853.5,499.8 856.2,500.2 859.0,500.6 861.8,501.0 864.6,501.3 867.4,501.7 870.2,502.1 872.9,502.4 875.7,502.8 878.5,503.2 881.3,503.6 884.1,503.9 886.9,504.3 889.6,504.7 892.4,505.1 895.2,505.4 898.0,505.8 900.8,506.2 903.6,506.5 906.3,506.9 909.1,507.3 911.9,507.7 914.7,508.0 917.5,508.4"/>
<polyline points="588.5,474.1 591.2,474.1 593.9,474.2 596.7,474.2 599.4,474.3 602.1,474.3 604.8,474.4 607.6,474.4 610.3,474.4 613.0,474.5 615.7,474.5 618.5,474.6 621.2,474.6 623.9,474.7 626.6,474.8 629.4,475.0 632.1,475.1 634.8,475.2 637.5,475.3 640.2,475.4 643.0,475.5 645.7,475.6 648.4,475.7 651.1,475.8 653.9,475.9 656.6,476.0 659.3,476.1 662.0,476.2 664.8,476.4 667.5,476.6 670.2,476.8 672.9,476.9 675.7,477.1 678.4,477.3 681.1,477.5 683.8,477.6 686.6,477.8 689.3,478.0 692.0,478.2 694.7,478.4 697.5,478.5 700.2,478.7 702.9,478.9 705.6,479.1 708.4,479.2 711.1,479.4 713.8,479.6 716.5,479.8 719.2,480.0 722.0,480.2 724.7,480.5 727.4,480.8 730.1,481.1 732.9,481.4 735.6,481.6 738.3,481.9 741.0,482.2 743.8,482.5 746.5,482.8 749.2,483.1 751.9,483.4 754.7,483.8 757.4,484.1 760.1,484.4 762.8,484.7 765.6,485.0 768.3,485.3 771.0,485.7 773.7,486.0 776.5,486.3 779.2,486.6 781.9,486.9 784.6,487.2 787.3,487.5 790.1,487.8 792.8,488.1 795.5,488.5 798.2,488.8 801.0,489.1 803.7,489.4 806.4,489.7 809.1,490.0 811.9,490.3 814.6,490.6 817.3,490.9 820.0,491.3 822.8,491.6 825.5,492.0 828.2,492.4 830.9,492.7 833.7,493.1 836.4,493.4 839.1,493.8 841.8,494.2 844.6,494.5 847.3,494.9 850.0,495.3 852.7,495.6 855.4,496.0 858.2,496.4 860.9,496.7 863.6,497.1 866.3,497.5 869.1,497.8 871.8,498.2 874.5,498.6 877.2,498.9 880.0,499.3 882.7,499.7 885.4,500.0 888.1,500.4 890.9,500.8 893.6,501.1 896.3,501.5 899.0,501.8 901.8,502.2 904.5,502.6 907.2,502.9 909.9,503.3 912.7,503.7 915.4,504.0"/>
</g>
<clipPath id="fc128"><polygon points="568.4,618.3 571.4,618.3 574.3,618.3 577.3,618.3 580.2,618.3 583.2,618.3 586.2,618.3 589.1,618.2 592.1,618.2 595.1,618.1 598.0,618.1 601.0,618.0 603.9,618.0 606.9,618.1 609.9,618.2 612.8,618.2 615.8,618.3 618.7,618.4 621.7,618.5 624.7,618.6 627.6,618.7 630.6,618.8 633.5,618.9 636.5,619.0 639.5,619.1 642.4,619.2 645.4,619.3 648.4,619.4 651.3,619.5 654.3,619.6 657.2,619.8 660.2,620.0 663.2,620.2 666.1,620.4 669.1,620.7 672.0,620.9 675.0,621.1 678.0,621.3 680.9,621.5 683.9,621.7 686.9,621.9 689.8,622.1 692.8,622.4 695.7,622.7 698.7,622.9 701.7,623.2 704.6,623.5 707.6,623.7 710.5,624.1 713.5,624.4 716.5,624.7 719.4,625.0 722.4,625.3 725.3,625.6 728.3,625.9 731.3,626.3 734.2,626.6 737.2,626.9 740.2,627.2 743.1,627.5 746.1,627.9 749.0,628.3 752.0,628.6 755.0,629.0 757.9,629.3 760.9,629.7 763.8,630.0 766.8,630.3 769.8,630.6 772.7,630.9 775.7,631.2 778.6,631.5 781.6,631.9 784.6,632.2 787.5,632.6 790.5,633.0 793.5,633.4 796.4,633.7 799.4,634.1 802.3,634.4 805.3,634.7 808.3,635.0 811.2,635.3 814.2,635.6 817.1,636.0 820.1,636.4 823.1,636.8 826.0,637.2 829.0,637.6 832.0,638.0 834.9,638.4 837.9,638.8 840.8,639.2 843.8,639.6 846.8,640.0 849.7,640.4 852.7,640.8 855.6,641.1 858.6,641.5 861.6,641.9 864.5,642.3 867.5,642.7 870.4,643.1 873.4,643.5 876.4,643.9 879.3,644.3 882.3,644.7 885.3,645.1 888.2,645.5 891.2,645.9 894.1,646.3 897.1,646.7 900.1,647.1 903.0,647.4 906.0,647.8 908.9,648.2 911.9,648.6 914.9,649.0 917.8,649.4 920.8,649.8 923.8,650.2 917.6,684.6 914.7,684.2 911.8,683.8 908.9,683.4 906.1,683.0 903.2,682.6 900.3,682.2 897.4,681.7 894.5,681.3 891.6,680.9 888.7,680.5 885.9,680.1 883.0,679.7 880.1,679.3 877.2,678.9 874.3,678.5 871.4,678.1 868.5,677.7 865.7,677.3 862.8,676.8 859.9,676.4 857.0,676.0 854.1,675.6 851.2,675.2 848.3,674.8 845.5,674.4 842.6,674.0 839.7,673.6 836.8,673.2 833.9,672.8 831.0,672.4 828.1,672.0 825.3,671.5 822.4,671.1 819.5,670.7 816.6,670.4 813.7,670.1 810.8,669.7 807.9,669.4 805.1,669.1 802.2,668.7 799.3,668.4 796.4,668.1 793.5,667.8 790.6,667.4 787.7,667.1 784.9,666.8 782.0,666.4 779.1,666.1 776.2,665.7 773.3,665.4 770.4,665.0 767.5,664.6 764.7,664.3 761.8,663.9 758.9,663.6 756.0,663.2 753.1,662.8 750.2,662.5 747.3,662.2 744.5,661.8 741.6,661.5 738.7,661.2 735.8,660.9 732.9,660.6 730.0,660.3 727.1,660.0 724.2,659.7 721.4,659.4 718.5,659.2 715.6,658.9 712.7,658.7 709.8,658.4 706.9,658.2 704.0,658.0 701.2,657.7 698.3,657.5 695.4,657.2 692.5,657.0 689.6,656.8 686.7,656.5 683.8,656.3 681.0,656.0 678.1,655.8 675.2,655.5 672.3,655.3 669.4,655.0 666.5,654.8 663.6,654.5 660.8,654.3 657.9,654.1 655.0,654.0 652.1,653.8 649.2,653.7 646.3,653.6 643.4,653.5 640.6,653.3 637.7,653.2 634.8,653.0 631.9,652.8 629.0,652.7 626.1,652.5 623.2,652.3 620.4,652.2 617.5,652.0 614.6,651.8 611.7,651.7 608.8,651.5 605.9,651.3 603.0,651.2 600.2,651.2 597.3,651.2 594.4,651.2 591.5,651.2 588.6,651.2 585.7,651.3 582.8,651.3 580.0,651.3 577.1,651.3 574.2,651.3 571.3,651.3"/></clipPath>
<g clip-path="url(#fc128)">
<polygon fill="#CACACA" points="560.0,598.7 935.0,598.7 935.0,693.7 560.0,693.7"/>
<polygon fill="#FF0000" points="569.1,626.5 572.1,626.5 575.0,626.4 577.9,626.3 580.9,626.3 583.8,626.2 586.7,626.1 589.7,626.0 592.6,625.9 595.6,625.7 598.5,625.6 601.4,625.5 604.4,625.4 607.3,625.4 610.3,625.4 613.2,625.4 616.1,625.4 619.1,625.4 622.0,625.4 625.0,625.4 627.9,625.4 630.8,625.4 633.8,625.4 636.7,625.5 639.7,625.5 642.6,625.4 645.6,625.4 648.5,625.4 651.5,625.4 654.4,625.4 657.3,625.4 660.3,625.5 663.2,625.6 666.2,625.7 669.1,625.8 672.1,625.9 675.0,625.9 678.0,626.0 680.9,626.1 683.9,626.1 686.8,626.2 689.8,626.2 692.7,626.3 695.7,626.4 698.7,626.5 701.6,626.5 704.6,626.6 707.5,626.7 710.5,626.8 713.4,626.9 716.4,627.0 719.4,627.1 722.3,627.2 725.3,627.2 728.3,627.3 731.2,627.4 734.2,627.4 737.2,627.5 740.1,627.5 743.1,627.6 746.1,627.6 749.1,627.7 752.0,627.8 755.0,627.8 758.0,627.8 761.0,627.8 764.0,627.8 767.0,627.7 770.0,627.6 773.0,627.5 776.0,627.3 779.0,627.2 781.9,627.6 784.9,628.0 787.9,628.4 790.8,628.7 793.8,629.1 796.8,629.5 799.8,629.8 802.7,630.1 805.7,630.4 808.7,630.7 811.6,631.0 814.6,631.4 817.6,631.8 820.5,632.2 823.5,632.6 826.5,633.0 829.5,633.4 832.4,633.7 835.4,634.1 838.4,634.5 841.3,634.9 844.3,635.3 847.3,635.7 850.3,636.1 853.2,636.5 856.2,636.9 859.2,637.3 862.1,637.7 865.1,638.1 868.1,638.5 871.0,638.8 874.0,639.2 877.0,639.6 880.0,640.0 882.9,640.4 885.9,640.8 888.9,641.2 891.8,641.6 894.8,642.0 897.8,642.4 900.8,642.8 903.7,643.2 906.7,643.5 909.7,643.9 912.6,644.3 915.6,644.7 918.6,645.1 921.5,645.5 924.5,645.9 916.8,688.9 914.0,688.5 911.1,688.1 908.2,687.7 905.3,687.3 902.4,686.9 899.6,686.4 896.7,686.0 893.8,685.6 890.9,685.2 888.1,684.8 885.2,684.4 882.3,684.0 879.4,683.6 876.6,683.2 873.7,682.8 870.8,682.3 867.9,681.9 865.1,681.5 862.2,681.1 859.3,680.7 856.4,680.3 853.6,679.9 850.7,679.5 847.8,679.1 844.9,678.7 842.0,678.2 839.2,677.8 836.3,677.4 833.4,677.0 830.5,676.6 827.7,676.2 824.8,675.8 821.9,675.4 819.0,675.0 816.2,674.7 813.3,674.3 810.4,674.0 807.5,673.7 804.7,673.3 801.8,673.0 798.9,672.7 796.0,672.3 793.1,672.0 790.3,671.7 787.4,671.4 784.5,671.0 781.6,670.7 778.8,670.4 775.9,670.0 773.0,669.6 770.1,669.3 767.3,668.9 764.4,668.5 761.5,668.2 758.6,667.8 755.8,667.3 752.9,666.1 750.1,664.9 747.2,663.9 744.4,663.1 741.5,662.4 738.7,661.7 735.8,661.0 732.9,660.4 730.0,659.8 727.2,659.2 724.3,658.7 721.4,658.2 718.5,657.7 715.6,657.2 712.7,656.8 709.9,656.3 707.0,655.9 704.1,655.4 701.2,655.0 698.3,654.6 695.4,654.1 692.5,653.7 689.6,653.3 686.7,652.9 683.9,652.4 681.0,652.0 678.1,651.6 675.2,651.2 672.3,650.8 669.4,650.4 666.5,650.0 663.6,649.6 660.7,649.3 657.8,648.9 654.9,648.7 652.0,648.4 649.1,648.2 646.2,647.9 643.3,647.7 640.4,647.4 637.5,647.2 634.6,646.9 631.7,646.6 628.8,646.4 625.9,646.1 622.9,645.8 620.0,645.6 617.1,645.3 614.2,645.1 611.3,644.8 608.4,644.6 605.5,644.4 602.6,644.2 599.7,644.1 596.8,644.0 593.9,644.0 591.0,643.9 588.1,643.9 585.2,643.8 582.2,643.7 579.3,643.6 576.4,643.6 573.5,643.5 570.6,643.4"/>
<polygon fill="#FF5D00" points="569.2,627.2 572.1,627.2 575.1,627.1 578.0,627.0 580.9,627.0 583.9,626.9 586.8,626.8 589.7,626.7 592.7,626.6 595.6,626.5 598.5,626.4 601.5,626.2 604.4,626.2 607.4,626.2 610.3,626.2 613.2,626.2 616.2,626.2 619.1,626.2 622.1,626.2 625.0,626.3 627.9,626.3 630.9,626.3 633.8,626.3 636.8,626.3 639.7,626.3 642.6,626.4 645.6,626.3 648.5,626.3 651.5,626.3 654.4,626.3 657.4,626.4 660.3,626.5 663.3,626.6 666.2,626.7 669.1,626.8 672.1,626.9 675.0,627.0 678.0,627.0 680.9,627.1 683.9,627.2 686.8,627.2 689.8,627.3 692.7,627.4 695.7,627.5 698.6,627.6 701.6,627.7 704.5,627.8 707.5,627.9 710.5,628.0 713.4,628.1 716.4,628.2 719.3,628.3 722.3,628.4 725.3,628.5 728.2,628.6 731.2,628.7 734.1,628.8 737.1,628.9 740.1,628.9 743.0,629.0 746.0,629.1 749.0,629.2 752.0,629.2 754.9,629.3 757.9,629.4 760.9,629.4 763.9,629.4 766.9,629.3 769.9,629.2 772.8,629.2 775.8,629.1 778.8,629.0 781.8,628.9 784.8,628.9 787.8,628.8 790.8,628.7 793.8,629.1 796.8,629.5 799.8,629.8 802.7,630.1 805.7,630.4 808.7,630.7 811.6,631.0 814.6,631.4 817.6,631.8 820.5,632.2 823.5,632.6 826.5,633.0 829.5,633.4 832.4,633.7 835.4,634.1 838.4,634.5 841.3,634.9 844.3,635.3 847.3,635.7 850.3,636.1 853.2,636.5 856.2,636.9 859.2,637.3 862.1,637.7 865.1,638.1 868.1,638.5 871.0,638.8 874.0,639.2 877.0,639.6 880.0,640.0 882.9,640.4 885.9,640.8 888.9,641.2 891.8,641.6 894.8,642.0 897.8,642.4 900.8,642.8 903.7,643.2 906.7,643.5 909.7,643.9 912.6,644.3 915.6,644.7 918.6,645.1 921.5,645.5 924.5,645.9 916.8,688.9 914.0,688.5 911.1,688.1 908.2,687.7 905.3,687.3 902.4,686.9 899.6,686.4 896.7,686.0 893.8,685.6 890.9,685.2 888.1,684.8 885.2,684.4 882.3,684.0 879.4,683.6 876.6,683.2 873.7,682.8 870.8,682.3 867.9,681.9 865.1,681.5 862.2,681.1 859.3,680.7 856.4,680.3 853.6,679.9 850.7,679.5 847.8,679.1 844.9,678.7 842.0,678.2 839.2,677.8 836.3,677.4 833.4,677.0 830.5,676.6 827.7,676.2 824.8,675.8 821.9,675.4 819.0,675.0 816.2,674.7 813.3,674.3 810.4,674.0 807.5,673.7 804.7,673.3 801.8,673.0 798.9,672.7 796.0,672.3 793.1,672.0 790.3,671.7 787.4,671.4 784.5,671.0 781.6,670.7 778.8,670.4 775.9,670.0 773.0,669.6 770.1,669.3 767.3,668.9 764.4,668.5 761.5,667.8 758.7,666.7 755.9,665.5 753.0,664.4 750.2,663.3 747.3,662.3 744.5,661.6 741.6,660.9 738.7,660.2 735.8,659.6 733.0,659.0 730.1,658.4 727.2,657.9 724.3,657.3 721.4,656.9 718.6,656.4 715.7,656.0 712.8,655.5 709.9,655.1 707.0,654.6 704.1,654.2 701.2,653.8 698.3,653.4 695.4,652.9 692.5,652.5 689.6,652.1 686.7,651.7 683.9,651.3 681.0,650.9 678.1,650.5 675.2,650.1 672.3,649.8 669.4,649.4 666.5,649.0 663.6,648.6 660.7,648.2 657.8,647.9 654.9,647.7 652.0,647.4 649.1,647.2 646.2,647.0 643.2,646.7 640.3,646.5 637.4,646.2 634.5,646.0 631.6,645.7 628.7,645.5 625.8,645.2 622.9,645.0 620.0,644.7 617.1,644.5 614.2,644.2 611.3,644.0 608.4,643.8 605.5,643.6 602.6,643.4 599.6,643.3 596.7,643.3 593.8,643.2 590.9,643.2 588.0,643.1 585.1,643.0 582.2,643.0 579.3,642.9 576.4,642.8 573.5,642.8 570.5,642.7"/>
<polygon fill="#FFB900" points="569.2,627.9 572.2,627.9 575.1,627.8 578.0,627.7 581.0,627.7 583.9,627.6 586.9,627.5 589.8,627.4 592.7,627.3 595.7,627.2 598.6,627.1 601.5,627.0 604.5,626.9 607.4,627.0 610.3,627.0 613.3,627.0 616.2,627.0 619.2,627.0 622.1,627.1 625.0,627.1 628.0,627.1 630.9,627.2 633.9,627.2 636.8,627.2 639.7,627.2 642.7,627.3 645.6,627.3 648.6,627.3 651.5,627.3 654.4,627.3 657.4,627.4 660.3,627.5 663.3,627.6 666.2,627.7 669.2,627.8 672.1,627.9 675.0,628.0 678.0,628.1 680.9,628.2 683.9,628.3 686.8,628.3 689.8,628.4 692.7,628.5 695.7,628.6 698.6,628.8 701.6,628.9 704.5,629.0 707.5,629.1 710.4,629.2 713.4,629.3 716.3,629.5 719.3,629.6 722.3,629.7 725.2,629.8 728.2,629.9 731.1,630.0 734.1,630.1 737.1,630.2 740.0,630.3 743.0,630.4 745.9,630.5 748.9,630.6 751.9,630.7 754.9,630.8 757.8,630.9 760.8,631.0 763.8,631.0 766.8,630.9 769.7,630.9 772.7,630.9 775.7,630.8 778.7,630.8 781.7,630.7 784.7,630.7 787.7,630.7 790.7,630.6 793.7,630.5 796.7,630.4 799.7,630.2 802.7,630.1 805.7,630.4 808.7,630.7 811.6,631.0 814.6,631.4 817.6,631.8 820.5,632.2 823.5,632.6 826.5,633.0 829.5,633.4 832.4,633.7 835.4,634.1 838.4,634.5 841.3,634.9 844.3,635.3 847.3,635.7 850.3,636.1 853.2,636.5 856.2,636.9 859.2,637.3 862.1,637.7 865.1,638.1 868.1,638.5 871.0,638.8 874.0,639.2 877.0,639.6 880.0,640.0 882.9,640.4 885.9,640.8 888.9,641.2 891.8,641.6 894.8,642.0 897.8,642.4 900.8,642.8 903.7,643.2 906.7,643.5 909.7,643.9 912.6,644.3 915.6,644.7 918.6,645.1 921.5,645.5 924.5,645.9 916.8,688.9 914.0,688.5 911.1,688.1 908.2,687.7 905.3,687.3 902.4,686.9 899.6,686.4 896.7,686.0 893.8,685.6 890.9,685.2 888.1,684.8 885.2,684.4 882.3,684.0 879.4,683.6 876.6,683.2 873.7,682.8 870.8,682.3 867.9,681.9 865.1,681.5 862.2,681.1 859.3,680.7 856.4,680.3 853.6,679.9 850.7,679.5 847.8,679.1 844.9,678.7 842.0,678.2 839.2,677.8 836.3,677.4 833.4,677.0 830.5,676.6 827.7,676.2 824.8,675.8 821.9,675.4 819.0,675.0 816.2,674.7 813.3,674.3 810.4,674.0 807.5,673.7 804.7,673.3 801.8,673.0 798.9,672.7 796.0,672.3 793.1,672.0 790.3,671.7 787.4,671.4 784.5,671.0 781.6,670.7 778.8,670.4 775.9,670.0 773.0,669.2 770.2,668.4 767.3,667.5 764.5,666.7 761.6,665.9 758.8,664.9 756.0,663.8 753.1,662.7 750.3,661.7 747.4,660.8 744.5,660.0 741.7,659.4 738.8,658.8 735.9,658.1 733.0,657.6 730.1,657.1 727.3,656.5 724.4,656.0 721.5,655.6 718.6,655.1 715.7,654.7 712.8,654.2 709.9,653.8 707.0,653.4 704.1,653.0 701.2,652.6 698.3,652.2 695.4,651.8 692.5,651.4 689.7,651.0 686.8,650.6 683.9,650.2 681.0,649.8 678.1,649.4 675.2,649.1 672.3,648.7 669.4,648.3 666.5,648.0 663.5,647.6 660.6,647.2 657.7,646.9 654.8,646.7 651.9,646.5 649.0,646.2 646.1,646.0 643.2,645.8 640.3,645.6 637.4,645.3 634.5,645.1 631.6,644.8 628.7,644.6 625.8,644.3 622.9,644.1 620.0,643.9 617.1,643.6 614.1,643.4 611.2,643.2 608.3,643.0 605.4,642.7 602.5,642.6 599.6,642.5 596.7,642.5 593.8,642.4 590.9,642.4 588.0,642.3 585.0,642.3 582.1,642.2 579.2,642.2 576.3,642.1 573.4,642.1 570.5,642.0"/>
<polygon fill="#E8FF00" points="569.3,628.6 572.2,628.6 575.2,628.5 578.1,628.4 581.0,628.4 584.0,628.3 586.9,628.3 589.8,628.2 592.8,628.1 595.7,628.0 598.6,627.9 601.6,627.8 604.5,627.7 607.5,627.7 610.4,627.8 613.3,627.8 616.3,627.8 619.2,627.9 622.1,627.9 625.1,627.9 628.0,628.0 630.9,628.0 633.9,628.1 636.8,628.1 639.8,628.1 642.7,628.2 645.6,628.2 648.6,628.2 651.5,628.2 654.5,628.2 657.4,628.3 660.3,628.4 663.3,628.6 666.2,628.7 669.2,628.8 672.1,628.9 675.0,629.0 678.0,629.1 680.9,629.2 683.9,629.3 686.8,629.4 689.8,629.5 692.7,629.6 695.7,629.8 698.6,629.9 701.6,630.0 704.5,630.1 707.5,630.3 710.4,630.4 713.4,630.5 716.3,630.7 719.3,630.8 722.2,631.0 725.2,631.1 728.1,631.2 731.1,631.3 734.0,631.5 737.0,631.6 740.0,631.7 742.9,631.8 745.9,632.0 748.8,632.1 751.8,632.2 754.8,632.3 757.7,632.4 760.7,632.5 763.7,632.6 766.7,632.6 769.6,632.6 772.6,632.6 775.6,632.6 778.6,632.5 781.6,632.6 784.5,632.6 787.5,632.6 790.5,632.6 793.5,632.5 796.5,632.4 799.5,632.3 802.5,632.1 805.6,631.8 808.6,631.6 811.6,631.2 814.6,631.4 817.6,631.8 820.5,632.2 823.5,632.6 826.5,633.0 829.5,633.4 832.4,633.7 835.4,634.1 838.4,634.5 841.3,634.9 844.3,635.3 847.3,635.7 850.3,636.1 853.2,636.5 856.2,636.9 859.2,637.3 862.1,637.7 865.1,638.1 868.1,638.5 871.0,638.8 874.0,639.2 877.0,639.6 880.0,640.0 882.9,640.4 885.9,640.8 888.9,641.2 891.8,641.6 894.8,642.0 897.8,642.4 900.8,642.8 903.7,643.2 906.7,643.5 909.7,643.9 912.6,644.3 915.6,644.7 918.6,645.1 921.5,645.5 924.5,645.9 916.8,688.9 914.0,688.5 911.1,688.1 908.2,687.7 905.3,687.3 902.4,686.9 899.6,686.4 896.7,686.0 893.8,685.6 890.9,685.2 888.1,684.8 885.2,684.4 882.3,684.0 879.4,683.6 876.6,683.2 873.7,682.8 870.8,682.3 867.9,681.9 865.1,681.5 862.2,681.1 859.3,680.7 856.4,680.3 853.6,679.9 850.7,679.5 847.8,679.1 844.9,678.7 842.0,678.2 839.2,677.8 836.3,677.4 833.4,677.0 830.5,676.6 827.7,676.2 824.8,675.8 821.9,675.4 819.0,675.0 816.2,674.7 813.3,674.3 810.4,674.0 807.5,673.7 804.7,673.3 801.8,673.0 798.9,672.7 796.0,672.3 793.1,672.0 790.3,671.7 787.4,671.4 784.6,670.6 781.7,669.7 778.9,668.8 776.0,667.9 773.2,667.1 770.3,666.3 767.5,665.5 764.6,664.8 761.8,664.0 758.9,663.1 756.1,662.0 753.2,661.0 750.3,660.1 747.5,659.2 744.6,658.5 741.7,657.9 738.8,657.3 736.0,656.7 733.1,656.2 730.2,655.7 727.3,655.2 724.4,654.7 721.5,654.2 718.6,653.8 715.7,653.4 712.8,653.0 709.9,652.6 707.0,652.2 704.2,651.8 701.3,651.4 698.4,651.0 695.5,650.6 692.6,650.2 689.7,649.8 686.8,649.4 683.9,649.1 681.0,648.7 678.1,648.3 675.1,648.0 672.2,647.6 669.3,647.3 666.4,646.9 663.5,646.6 660.6,646.2 657.7,645.9 654.8,645.7 651.9,645.5 649.0,645.3 646.1,645.0 643.2,644.8 640.3,644.6 637.4,644.4 634.5,644.1 631.6,643.9 628.6,643.7 625.7,643.5 622.8,643.2 619.9,643.0 617.0,642.8 614.1,642.6 611.2,642.4 608.3,642.1 605.4,641.9 602.5,641.8 599.5,641.7 596.6,641.7 593.7,641.7 590.8,641.6 587.9,641.6 585.0,641.5 582.1,641.5 579.2,641.4 576.2,641.4 573.3,641.3 570.4,641.3"/>
<polygon fill="#8BFF00" points="569.8,634.8 572.5,631.3 575.2,629.4 578.2,629.1 581.1,629.1 584.0,629.0 587.0,629.0 589.9,628.9 592.8,628.8 595.8,628.7 598.7,628.6 601.6,628.5 604.6,628.5 607.5,628.5 610.4,628.6 613.4,628.6 616.3,628.7 619.2,628.7 622.2,628.7 625.1,628.8 628.0,628.8 631.0,628.9 633.9,628.9 636.9,629.0 639.8,629.0 642.7,629.1 645.7,629.1 648.6,629.1 651.5,629.2 654.5,629.2 657.4,629.3 660.4,629.4 663.3,629.5 666.2,629.7 669.2,629.8 672.1,629.9 675.1,630.1 678.0,630.2 680.9,630.3 683.9,630.4 686.8,630.5 689.8,630.6 692.7,630.8 695.7,630.9 698.6,631.0 701.5,631.2 704.5,631.3 707.4,631.4 710.4,631.6 713.3,631.8 716.3,631.9 719.2,632.1 722.2,632.2 725.1,632.4 728.1,632.5 731.0,632.7 734.0,632.8 736.9,633.0 739.9,633.1 742.9,633.2 745.8,633.4 748.8,633.5 751.7,633.7 754.7,633.8 757.7,634.0 760.6,634.1 763.6,634.2 766.6,634.2 769.5,634.3 772.5,634.3 775.5,634.3 778.4,634.3 781.4,634.4 784.4,634.4 787.4,634.5 790.4,634.5 793.4,634.5 796.4,634.5 799.3,634.4 802.3,634.2 805.4,634.1 808.4,633.8 811.4,633.6 814.4,633.3 817.4,633.2 820.5,633.0 823.5,632.9 826.5,633.0 829.5,633.4 832.4,633.7 835.4,634.1 838.4,634.5 841.3,634.9 844.3,635.3 847.3,635.7 850.3,636.1 853.2,636.5 856.2,636.9 859.2,637.3 862.1,637.7 865.1,638.1 868.1,638.5 871.0,638.8 874.0,639.2 877.0,639.6 880.0,640.0 882.9,640.4 885.9,640.8 888.9,641.2 891.8,641.6 894.8,642.0 897.8,642.4 900.8,642.8 903.7,643.2 906.7,643.5 909.7,643.9 912.6,644.3 915.6,644.7 918.6,645.1 921.5,645.5 924.5,645.9 916.8,688.9 914.0,688.5 911.1,688.1 908.2,687.7 905.3,687.3 902.4,686.9 899.6,686.4 896.7,686.0 893.8,685.6 890.9,685.2 888.1,684.8 885.2,684.4 882.3,684.0 879.4,683.6 876.6,683.2 873.7,682.8 870.8,682.3 867.9,681.9 865.1,681.5 862.2,681.1 859.3,680.7 856.4,680.3 853.6,679.9 850.7,679.5 847.8,679.1 844.9,678.7 842.0,678.2 839.2,677.8 836.3,677.4 833.4,677.0 830.5,676.6 827.7,676.2 824.8,675.8 821.9,675.4 819.0,675.0 816.2,674.7 813.3,674.3 810.4,674.0 807.5,673.7 804.7,673.3 801.8,673.0 798.9,672.3 796.1,671.5 793.3,670.7 790.4,669.9 787.6,669.1 784.7,668.2 781.9,667.4 779.0,666.6 776.2,665.8 773.3,665.0 770.5,664.3 767.6,663.6 764.7,662.8 761.9,662.1 759.0,661.3 756.2,660.3 753.3,659.4 750.4,658.5 747.6,657.7 744.7,657.0 741.8,656.4 738.9,655.9 736.0,655.3 733.1,654.8 730.2,654.3 727.3,653.8 724.5,653.3 721.6,652.9 718.7,652.5 715.8,652.1 712.9,651.7 710.0,651.3 707.1,650.9 704.2,650.5 701.3,650.1 698.4,649.8 695.5,649.4 692.6,649.0 689.7,648.7 686.8,648.3 683.9,648.0 681.0,647.6 678.0,647.3 675.1,646.9 672.2,646.6 669.3,646.2 666.4,645.9 663.5,645.5 660.6,645.2 657.7,644.9 654.8,644.7 651.9,644.5 649.0,644.3 646.1,644.1 643.2,643.9 640.3,643.7 637.3,643.5 634.4,643.2 631.5,643.0 628.6,642.8 625.7,642.6 622.8,642.4 619.9,642.1 617.0,641.9 614.1,641.7 611.1,641.5 608.2,641.3 605.3,641.1 602.4,641.0 599.5,641.0 596.6,640.9 593.7,640.9 590.8,640.9 587.8,640.8 584.9,640.8 582.0,640.7 579.1,640.7 576.2,640.5 573.1,638.4 569.8,634.8"/>
<polygon fill="#2EFF00" points="569.8,634.8 572.6,632.6 575.4,630.7 578.2,629.9 581.2,629.8 584.1,629.8 587.0,629.7 589.9,629.6 592.9,629.5 595.8,629.5 598.7,629.4 601.7,629.3 604.6,629.3 607.5,629.3 610.5,629.4 613.4,629.4 616.3,629.5 619.3,629.5 622.2,629.6 625.1,629.6 628.1,629.7 631.0,629.8 633.9,629.8 636.9,629.9 639.8,629.9 642.8,630.0 645.7,630.0 648.6,630.1 651.6,630.1 654.5,630.1 657.4,630.2 660.4,630.4 663.3,630.5 666.2,630.7 669.2,630.8 672.1,631.0 675.1,631.1 678.0,631.2 680.9,631.3 683.9,631.5 686.8,631.6 689.8,631.7 692.7,631.9 695.6,632.0 698.6,632.2 701.5,632.3 704.5,632.5 707.4,632.6 710.4,632.8 713.3,633.0 716.2,633.2 719.2,633.3 722.1,633.5 725.1,633.7 728.0,633.8 731.0,634.0 733.9,634.2 736.9,634.3 739.8,634.5 742.8,634.6 745.7,634.8 748.7,635.0 751.7,635.2 754.6,635.3 757.6,635.5 760.5,635.7 763.5,635.8 766.5,635.8 769.4,635.9 772.4,636.0 775.3,636.1 778.3,636.1 781.3,636.2 784.3,636.3 787.2,636.4 790.2,636.4 793.2,636.5 796.2,636.5 799.2,636.5 802.2,636.4 805.2,636.3 808.2,636.1 811.2,635.9 814.2,635.7 817.2,635.6 820.2,635.6 823.2,635.5 826.2,635.4 829.3,635.2 832.3,635.1 835.3,634.8 838.4,634.6 841.3,634.9 844.3,635.3 847.3,635.7 850.3,636.1 853.2,636.5 856.2,636.9 859.2,637.3 862.1,637.7 865.1,638.1 868.1,638.5 871.0,638.8 874.0,639.2 877.0,639.6 880.0,640.0 882.9,640.4 885.9,640.8 888.9,641.2 891.8,641.6 894.8,642.0 897.8,642.4 900.8,642.8 903.7,643.2 906.7,643.5 909.7,643.9 912.6,644.3 915.6,644.7 918.6,645.1 921.5,645.5 924.5,645.9 916.8,688.9 914.0,688.5 911.1,688.1 908.2,687.7 905.3,687.3 902.4,686.9 899.6,686.4 896.7,686.0 893.8,685.6 890.9,685.2 888.1,684.8 885.2,684.4 882.3,684.0 879.4,683.6 876.6,683.2 873.7,682.8 870.8,682.3 867.9,681.9 865.1,681.5 862.2,681.1 859.3,680.7 856.4,680.3 853.6,679.9 850.7,679.5 847.8,679.1 844.9,678.7 842.0,678.2 839.2,677.8 836.3,677.4 833.4,677.0 830.5,676.6 827.7,676.2 824.8,675.8 821.9,675.4 819.0,675.0 816.2,674.6 813.3,673.8 810.5,672.9 807.7,672.1 804.8,671.3 802.0,670.5 799.2,669.7 796.3,669.0 793.5,668.2 790.6,667.5 787.8,666.7 784.9,665.9 782.1,665.2 779.2,664.4 776.3,663.6 773.5,662.9 770.6,662.2 767.7,661.6 764.9,660.9 762.0,660.3 759.1,659.4 756.3,658.5 753.4,657.7 750.5,656.8 747.6,656.1 744.8,655.5 741.9,654.9 739.0,654.4 736.1,653.9 733.2,653.4 730.3,652.9 727.4,652.5 724.5,652.0 721.6,651.6 718.7,651.2 715.8,650.8 712.9,650.4 710.0,650.0 707.1,649.7 704.2,649.3 701.3,648.9 698.4,648.6 695.5,648.2 692.6,647.9 689.7,647.5 686.8,647.2 683.9,646.8 681.0,646.5 678.0,646.2 675.1,645.8 672.2,645.5 669.3,645.2 666.4,644.9 663.5,644.5 660.6,644.2 657.7,643.9 654.8,643.7 651.9,643.5 649.0,643.3 646.0,643.1 643.1,642.9 640.2,642.7 637.3,642.5 634.4,642.3 631.5,642.1 628.6,641.9 625.7,641.7 622.8,641.5 619.8,641.3 616.9,641.1 614.0,640.9 611.1,640.7 608.2,640.5 605.3,640.3 602.4,640.2 599.4,640.2 596.5,640.1 593.6,640.1 590.7,640.1 587.8,640.1 584.9,640.0 582.0,640.0 579.0,640.0 576.1,639.1 573.0,637.1 569.8,634.8"/>
<polygon fill="#00FF2E" points="569.8,634.8 572.7,634.0 575.5,631.8 578.3,630.6 581.2,630.5 584.1,630.5 587.1,630.4 590.0,630.4 592.9,630.3 595.9,630.2 598.8,630.1 601.7,630.1 604.7,630.0 607.6,630.1 610.5,630.2 613.4,630.2 616.4,630.3 619.3,630.3 622.2,630.4 625.2,630.5 628.1,630.5 631.0,630.6 634.0,630.7 636.9,630.8 639.8,630.8 642.8,630.9 645.7,630.9 648.6,631.0 651.6,631.0 654.5,631.1 657.4,631.2 660.4,631.3 663.3,631.5 666.3,631.7 669.2,631.8 672.1,632.0 675.1,632.1 678.0,632.3 680.9,632.4 683.9,632.5 686.8,632.7 689.8,632.8 692.7,633.0 695.6,633.2 698.6,633.3 701.5,633.5 704.4,633.7 707.4,633.8 710.3,634.0 713.3,634.2 716.2,634.4 719.2,634.6 722.1,634.8 725.0,634.9 728.0,635.1 730.9,635.3 733.9,635.5 736.8,635.7 739.8,635.9 742.7,636.1 745.7,636.3 748.6,636.5 751.6,636.7 754.5,636.9 757.5,637.1 760.4,637.2 763.4,637.4 766.3,637.5 769.3,637.6 772.3,637.7 775.2,637.8 778.2,637.9 781.2,638.0 784.1,638.2 787.1,638.3 790.1,638.4 793.0,638.5 796.0,638.5 799.0,638.6 802.0,638.5 805.0,638.5 807.9,638.4 810.9,638.3 813.9,638.1 816.9,638.1 819.9,638.1 822.9,638.1 825.9,638.1 828.9,638.0 832.0,637.9 835.0,637.8 838.0,637.6 841.0,637.4 844.1,637.2 847.1,636.9 850.2,636.5 853.2,636.5 856.2,636.9 859.2,637.3 862.1,637.7 865.1,638.1 868.1,638.5 871.0,638.8 874.0,639.2 877.0,639.6 880.0,640.0 882.9,640.4 885.9,640.8 888.9,641.2 891.8,641.6 894.8,642.0 897.8,642.4 900.8,642.8 903.7,643.2 906.7,643.5 909.7,643.9 912.6,644.3 915.6,644.7 918.6,645.1 921.5,645.5 924.5,645.9 916.8,688.9 914.0,688.5 911.1,688.1 908.2,687.7 905.3,687.3 902.4,686.9 899.6,686.4 896.7,686.0 893.8,685.6 890.9,685.2 888.1,684.8 885.2,684.4 882.3,684.0 879.4,683.6 876.6,683.2 873.7,682.8 870.8,682.3 867.9,681.9 865.1,681.5 862.2,681.1 859.3,680.7 856.4,680.3 853.6,679.9 850.7,679.5 847.8,679.1 844.9,678.7 842.0,678.2 839.2,677.8 836.3,677.4 833.4,677.0 830.6,676.3 827.8,675.2 825.0,674.3 822.1,673.3 819.3,672.4 816.5,671.6 813.6,670.8 810.8,670.1 807.9,669.3 805.1,668.5 802.3,667.8 799.4,667.1 796.5,666.4 793.7,665.7 790.8,665.1 788.0,664.3 785.1,663.6 782.2,662.9 779.4,662.2 776.5,661.5 773.6,660.8 770.7,660.2 767.9,659.6 765.0,659.0 762.1,658.4 759.2,657.6 756.4,656.8 753.5,656.0 750.6,655.2 747.7,654.5 744.8,654.0 741.9,653.4 739.0,652.9 736.1,652.4 733.2,652.0 730.3,651.5 727.4,651.1 724.5,650.7 721.6,650.3 718.7,649.9 715.8,649.5 712.9,649.2 710.0,648.8 707.1,648.4 704.2,648.1 701.3,647.7 698.4,647.4 695.5,647.0 692.6,646.7 689.7,646.4 686.8,646.0 683.9,645.7 681.0,645.4 678.0,645.1 675.1,644.8 672.2,644.4 669.3,644.1 666.4,643.8 663.5,643.5 660.6,643.2 657.7,642.9 654.8,642.7 651.8,642.5 648.9,642.4 646.0,642.2 643.1,642.0 640.2,641.8 637.3,641.6 634.4,641.4 631.5,641.2 628.5,641.0 625.6,640.8 622.7,640.6 619.8,640.4 616.9,640.2 614.0,640.1 611.1,639.9 608.1,639.7 605.2,639.5 602.3,639.4 599.4,639.4 596.5,639.4 593.6,639.3 590.6,639.3 587.7,639.3 584.8,639.3 581.9,639.2 579.0,639.2 576.0,637.9 572.8,635.6 569.8,634.8"/>
<polygon fill="#00FF8B" points="569.8,634.8 572.8,634.8 575.6,633.1 578.4,631.8 581.3,631.5 584.2,631.5 587.1,631.4 590.1,631.4 593.0,631.3 595.9,631.2 598.9,631.2 601.8,631.1 604.7,631.1 607.6,631.2 610.6,631.2 613.5,631.3 616.4,631.4 619.4,631.5 622.3,631.5 625.2,631.6 628.2,631.7 631.1,631.8 634.0,631.9 637.0,632.0 639.9,632.1 642.8,632.1 645.7,632.2 648.7,632.3 651.6,632.3 654.5,632.4 657.5,632.5 660.4,632.7 663.3,632.8 666.3,633.0 669.2,633.2 672.1,633.4 675.1,633.5 678.0,633.7 680.9,633.9 683.9,634.0 686.8,634.2 689.7,634.3 692.7,634.5 695.6,634.7 698.6,634.9 701.5,635.1 704.4,635.3 707.4,635.5 710.3,635.7 713.2,635.9 716.2,636.1 719.1,636.3 722.0,636.5 725.0,636.7 727.9,636.9 730.9,637.1 733.8,637.4 736.8,637.6 739.7,637.8 742.6,638.0 745.6,638.2 748.5,638.5 751.5,638.7 754.4,638.9 757.4,639.2 760.3,639.4 763.3,639.6 766.2,639.7 769.2,639.9 772.1,640.1 775.1,640.2 778.0,640.4 781.0,640.5 783.9,640.7 786.9,640.9 789.8,641.1 792.8,641.2 795.8,641.3 798.7,641.4 801.7,641.5 804.7,641.5 807.6,641.5 810.6,641.5 813.6,641.5 816.6,641.5 819.6,641.6 822.6,641.7 825.5,641.8 828.5,641.8 831.5,641.8 834.5,641.8 837.5,641.8 840.5,641.7 843.6,641.6 846.6,641.5 849.6,641.3 852.6,641.1 855.7,640.8 858.7,640.5 861.8,640.2 864.9,639.7 868.0,639.0 871.0,638.8 874.0,639.2 877.0,639.6 880.0,640.0 882.9,640.4 885.9,640.8 888.9,641.2 891.8,641.6 894.8,642.0 897.8,642.4 900.8,642.8 903.7,643.2 906.7,643.5 909.7,643.9 912.6,644.3 915.6,644.7 918.6,645.1 921.5,645.5 924.5,645.9 916.8,688.9 914.0,688.5 911.1,688.1 908.2,687.7 905.3,687.3 902.4,686.9 899.6,686.4 896.7,686.0 893.8,685.6 890.9,685.2 888.1,684.8 885.2,684.4 882.3,684.0 879.4,683.6 876.6,683.2 873.7,682.8 870.8,682.3 867.9,681.9 865.1,681.5 862.2,681.1 859.3,680.7 856.4,680.3 853.6,679.9 850.7,679.2 847.9,678.1 845.1,676.9 842.4,675.7 839.6,674.6 836.8,673.5 833.9,672.5 831.1,671.5 828.3,670.6 825.5,669.8 822.6,668.9 819.8,668.1 816.9,667.4 814.0,666.7 811.2,666.1 808.3,665.4 805.5,664.8 802.6,664.1 799.7,663.5 796.9,662.9 794.0,662.3 791.1,661.7 788.2,661.1 785.3,660.4 782.5,659.8 779.6,659.2 776.7,658.5 773.8,658.0 770.9,657.4 768.0,656.8 765.2,656.3 762.3,655.7 759.4,655.1 756.5,654.4 753.6,653.7 750.7,653.0 747.8,652.4 744.9,651.9 742.0,651.4 739.1,650.9 736.2,650.5 733.3,650.1 730.4,649.6 727.5,649.2 724.6,648.8 721.7,648.5 718.8,648.1 715.9,647.8 713.0,647.4 710.1,647.1 707.1,646.7 704.2,646.4 701.3,646.1 698.4,645.7 695.5,645.4 692.6,645.1 689.7,644.8 686.8,644.5 683.9,644.2 680.9,643.9 678.0,643.6 675.1,643.3 672.2,643.0 669.3,642.7 666.4,642.4 663.5,642.1 660.6,641.8 657.6,641.6 654.7,641.4 651.8,641.2 648.9,641.0 646.0,640.9 643.1,640.7 640.2,640.5 637.2,640.3 634.3,640.2 631.4,640.0 628.5,639.8 625.6,639.6 622.7,639.4 619.7,639.2 616.8,639.1 613.9,638.9 611.0,638.7 608.1,638.6 605.2,638.4 602.2,638.3 599.3,638.3 596.4,638.3 593.5,638.3 590.6,638.3 587.7,638.3 584.7,638.2 581.8,638.2 578.9,637.9 575.8,636.6 572.8,634.8 569.8,634.8"/>
<polygon fill="#00FFE8" points="569.8,634.8 572.8,634.8 575.6,634.0 578.5,632.9 581.4,632.4 584.3,632.3 587.2,632.3 590.1,632.3 593.1,632.2 596.0,632.1 598.9,632.1 601.8,632.0 604.8,632.0 607.7,632.1 610.6,632.2 613.6,632.3 616.5,632.4 619.4,632.5 622.3,632.6 625.3,632.7 628.2,632.8 631.1,632.9 634.1,633.0 637.0,633.1 639.9,633.2 642.8,633.2 645.8,633.3 648.7,633.4 651.6,633.5 654.6,633.5 657.5,633.7 660.4,633.8 663.4,634.0 666.3,634.2 669.2,634.4 672.1,634.6 675.1,634.8 678.0,635.0 680.9,635.2 683.9,635.3 686.8,635.5 689.7,635.7 692.7,635.9 695.6,636.1 698.5,636.3 701.5,636.5 704.4,636.7 707.3,636.9 710.3,637.2 713.2,637.4 716.1,637.6 719.1,637.8 722.0,638.1 724.9,638.3 727.9,638.5 730.8,638.8 733.7,639.0 736.7,639.2 739.6,639.5 742.6,639.7 745.5,640.0 748.4,640.2 751.4,640.5 754.3,640.8 757.3,641.0 760.2,641.3 763.1,641.5 766.1,641.7 769.0,641.9 772.0,642.1 774.9,642.3 777.9,642.5 780.8,642.8 783.8,643.0 786.7,643.2 789.6,643.4 792.6,643.6 795.6,643.8 798.5,644.0 801.5,644.1 804.4,644.2 807.4,644.3 810.3,644.4 813.3,644.4 816.3,644.6 819.2,644.8 822.2,644.9 825.2,645.0 828.2,645.2 831.1,645.3 834.1,645.4 837.1,645.5 840.1,645.5 843.1,645.6 846.1,645.6 849.1,645.6 852.1,645.5 855.1,645.4 858.1,645.3 861.1,645.1 864.2,644.9 867.2,644.5 870.3,643.9 873.4,643.3 876.6,642.5 879.8,641.4 882.9,640.4 885.9,640.8 888.9,641.2 891.8,641.6 894.8,642.0 897.8,642.4 900.8,642.8 903.7,643.2 906.7,643.5 909.7,643.9 912.6,644.3 915.6,644.7 918.6,645.1 921.5,645.5 924.5,645.9 916.8,688.9 914.0,688.5 911.1,688.1 908.2,687.7 905.3,687.3 902.4,686.9 899.6,686.4 896.7,686.0 893.8,685.6 890.9,685.2 888.1,684.8 885.2,684.4 882.3,684.0 879.4,683.6 876.6,683.2 873.7,682.8 870.8,682.3 868.1,680.9 865.4,679.4 862.6,678.1 859.8,676.9 857.0,675.8 854.2,674.7 851.4,673.7 848.6,672.7 845.8,671.7 843.0,670.8 840.1,669.8 837.3,668.9 834.5,668.1 831.6,667.2 828.8,666.5 825.9,665.7 823.0,665.0 820.2,664.3 817.3,663.7 814.4,663.1 811.5,662.5 808.7,662.0 805.8,661.4 802.9,660.8 800.0,660.3 797.1,659.8 794.2,659.2 791.3,658.7 788.5,658.1 785.6,657.6 782.7,657.0 779.8,656.5 776.9,655.9 774.0,655.4 771.1,654.9 768.2,654.4 765.3,653.9 762.4,653.4 759.5,652.8 756.6,652.2 753.7,651.6 750.8,651.0 747.9,650.5 745.0,650.0 742.1,649.6 739.2,649.2 736.3,648.7 733.4,648.3 730.5,648.0 727.6,647.6 724.7,647.2 721.7,646.8 718.8,646.5 715.9,646.2 713.0,645.9 710.1,645.5 707.2,645.2 704.3,644.9 701.4,644.6 698.4,644.3 695.5,644.0 692.6,643.7 689.7,643.4 686.8,643.1 683.9,642.8 680.9,642.5 678.0,642.2 675.1,642.0 672.2,641.7 669.3,641.4 666.4,641.1 663.5,640.8 660.5,640.6 657.6,640.3 654.7,640.1 651.8,640.0 648.9,639.8 646.0,639.7 643.0,639.5 640.1,639.4 637.2,639.2 634.3,639.0 631.4,638.9 628.4,638.7 625.5,638.5 622.6,638.4 619.7,638.2 616.8,638.0 613.9,637.9 610.9,637.7 608.0,637.6 605.1,637.4 602.2,637.3 599.3,637.3 596.3,637.3 593.4,637.3 590.5,637.3 587.6,637.3 584.7,637.3 581.7,637.3 578.8,636.7 575.8,635.6 572.8,634.8 569.8,634.8"/>
<polygon fill="#00B9FF" points="569.8,634.8 572.8,634.8 575.7,634.8 578.5,633.8 581.4,633.2 584.3,633.1 587.3,633.1 590.2,633.0 593.1,633.0 596.0,632.9 599.0,632.9 601.9,632.9 604.8,632.9 607.8,633.0 610.7,633.1 613.6,633.2 616.5,633.3 619.5,633.4 622.4,633.5 625.3,633.6 628.2,633.7 631.2,633.8 634.1,633.9 637.0,634.0 639.9,634.1 642.9,634.2 645.8,634.3 648.7,634.4 651.7,634.5 654.6,634.6 657.5,634.7 660.4,634.9 663.4,635.1 666.3,635.3 669.2,635.5 672.2,635.7 675.1,635.9 678.0,636.1 680.9,636.3 683.9,636.5 686.8,636.7 689.7,636.9 692.7,637.1 695.6,637.3 698.5,637.5 701.4,637.8 704.4,638.0 707.3,638.2 710.2,638.4 713.2,638.7 716.1,638.9 719.0,639.2 722.0,639.4 724.9,639.7 727.8,639.9 730.8,640.2 733.7,640.5 736.6,640.7 739.6,641.0 742.5,641.2 745.4,641.5 748.4,641.8 751.3,642.1 754.2,642.4 757.2,642.7 760.1,643.0 763.0,643.2 766.0,643.5 768.9,643.7 771.8,644.0 774.8,644.2 777.7,644.5 780.7,644.7 783.6,645.0 786.5,645.3 789.5,645.5 792.4,645.8 795.4,646.0 798.3,646.2 801.3,646.4 804.2,646.6 807.2,646.7 810.1,646.9 813.1,647.0 816.0,647.3 819.0,647.5 821.9,647.7 824.9,647.9 827.8,648.1 830.8,648.4 833.7,648.6 836.7,648.7 839.7,648.9 842.6,649.1 845.6,649.2 848.6,649.3 851.6,649.4 854.6,649.5 857.6,649.5 860.5,649.5 863.5,649.5 866.6,649.3 869.6,649.1 872.7,648.8 875.7,648.3 878.8,647.7 882.0,646.9 885.1,645.9 888.4,644.5 891.7,642.8 894.8,642.0 897.8,642.4 900.8,642.8 903.7,643.2 906.7,643.5 909.7,643.9 912.6,644.3 915.6,644.7 918.6,645.1 921.5,645.5 924.5,645.9 916.8,688.9 914.0,688.5 911.1,688.1 908.2,687.7 905.3,687.3 902.4,686.9 899.6,686.4 896.7,686.0 893.8,685.6 890.9,685.2 888.1,684.8 885.3,683.9 882.6,682.1 879.9,680.2 877.2,678.6 874.5,677.1 871.8,675.7 869.0,674.5 866.2,673.3 863.4,672.3 860.6,671.4 857.7,670.5 854.9,669.6 852.1,668.8 849.2,668.0 846.4,667.2 843.5,666.4 840.6,665.6 837.8,664.9 834.9,664.2 832.0,663.5 829.2,662.8 826.3,662.2 823.4,661.6 820.5,661.0 817.6,660.5 814.7,659.9 811.8,659.4 808.9,658.9 806.1,658.4 803.2,658.0 800.3,657.5 797.4,657.0 794.5,656.6 791.6,656.1 788.7,655.6 785.8,655.1 782.9,654.6 780.0,654.1 777.1,653.6 774.2,653.1 771.3,652.7 768.3,652.2 765.4,651.8 762.5,651.4 759.6,650.9 756.7,650.3 753.8,649.8 750.9,649.3 748.0,648.8 745.1,648.4 742.2,648.0 739.3,647.6 736.4,647.2 733.4,646.8 730.5,646.5 727.6,646.1 724.7,645.7 721.8,645.4 718.9,645.1 716.0,644.8 713.0,644.5 710.1,644.2 707.2,643.9 704.3,643.6 701.4,643.3 698.5,643.0 695.5,642.7 692.6,642.4 689.7,642.1 686.8,641.9 683.9,641.6 680.9,641.3 678.0,641.1 675.1,640.8 672.2,640.5 669.3,640.3 666.4,640.0 663.4,639.7 660.5,639.5 657.6,639.3 654.7,639.1 651.8,638.9 648.8,638.8 645.9,638.7 643.0,638.5 640.1,638.4 637.2,638.2 634.2,638.1 631.3,637.9 628.4,637.7 625.5,637.6 622.6,637.4 619.6,637.3 616.7,637.1 613.8,637.0 610.9,636.8 608.0,636.7 605.0,636.5 602.1,636.5 599.2,636.5 596.3,636.5 593.4,636.5 590.4,636.5 587.5,636.5 584.6,636.5 581.7,636.4 578.7,635.8 575.7,634.8 572.8,634.8 569.8,634.8"/>
<polygon fill="#005DFF" points="569.8,634.8 572.8,634.8 575.7,634.8 578.6,634.4 581.5,634.0 584.4,633.8 587.3,633.8 590.2,633.7 593.2,633.7 596.1,633.6 599.0,633.6 601.9,633.6 604.9,633.6 607.8,633.7 610.7,633.8 613.6,633.9 616.6,634.0 619.5,634.1 622.4,634.2 625.3,634.4 628.3,634.5 631.2,634.6 634.1,634.8 637.1,634.9 640.0,635.0 642.9,635.2 645.8,635.3 648.8,635.4 651.7,635.5 654.6,635.6 657.5,635.8 660.5,636.0 663.4,636.2 666.3,636.5 669.2,636.7 672.2,636.9 675.1,637.2 678.0,637.4 680.9,637.6 683.9,637.8 686.8,638.1 689.7,638.3 692.6,638.6 695.6,638.8 698.5,639.1 701.4,639.3 704.4,639.6 707.3,639.8 710.2,640.1 713.1,640.4 716.1,640.7 719.0,640.9 721.9,641.2 724.8,641.5 727.8,641.8 730.7,642.1 733.6,642.4 736.5,642.7 739.5,643.1 742.4,643.4 745.3,643.7 748.2,644.1 751.2,644.4 754.1,644.8 757.0,645.1 759.9,645.5 762.9,645.8 765.8,646.1 768.7,646.5 771.7,646.8 774.6,647.1 777.5,647.5 780.4,647.8 783.4,648.2 786.3,648.5 789.2,648.9 792.1,649.2 795.1,649.6 798.0,649.9 800.9,650.2 803.8,650.6 806.8,650.9 809.7,651.2 812.6,651.5 815.5,651.9 818.5,652.3 821.4,652.6 824.3,653.0 827.2,653.4 830.2,653.8 833.1,654.2 836.0,654.6 839.0,655.0 841.9,655.4 844.8,655.8 847.7,656.2 850.7,656.0 853.8,655.6 856.8,655.1 859.9,654.5 863.0,653.9 866.0,653.5 869.0,653.5 872.0,653.5 875.0,653.4 878.0,653.2 881.1,652.8 884.2,652.4 887.3,651.7 890.4,650.8 893.6,650.0 896.7,648.9 900.0,647.4 903.4,645.3 906.7,643.5 909.7,643.9 912.6,644.3 915.6,644.7 918.6,645.1 921.5,645.5 924.5,645.9 916.8,688.9 914.0,688.5 911.1,688.1 908.2,687.7 905.3,687.3 902.4,686.9 899.9,684.7 897.3,682.3 894.7,680.3 892.0,678.5 889.3,677.0 886.6,675.6 883.8,674.3 881.0,673.0 878.2,671.9 875.4,670.8 872.6,669.9 869.8,669.0 866.9,668.1 864.1,667.3 861.3,666.0 858.6,664.3 855.8,662.7 853.0,661.2 850.3,659.8 847.4,658.5 844.5,658.1 841.6,657.7 838.7,657.3 835.8,656.9 832.8,656.5 829.9,656.1 827.0,655.7 824.1,655.3 821.2,654.9 818.2,654.6 815.3,654.2 812.4,653.8 809.5,653.5 806.5,653.2 803.6,652.9 800.7,652.5 797.8,652.2 794.9,651.9 791.9,651.5 789.0,651.2 786.1,650.8 783.2,650.5 780.3,650.1 777.3,649.8 774.4,649.4 771.5,649.1 768.6,648.8 765.7,648.4 762.7,648.1 759.8,647.8 756.9,647.4 754.0,647.1 751.0,646.7 748.1,646.4 745.2,646.0 742.3,645.7 739.4,645.4 736.4,645.0 733.5,644.7 730.6,644.4 727.7,644.1 724.8,643.8 721.8,643.5 718.9,643.2 716.0,643.0 713.1,642.7 710.2,642.4 707.2,642.1 704.3,641.9 701.4,641.6 698.5,641.4 695.6,641.1 692.6,640.9 689.7,640.6 686.8,640.4 683.9,640.1 680.9,639.9 678.0,639.7 675.1,639.5 672.2,639.2 669.3,639.0 666.3,638.8 663.4,638.5 660.5,638.3 657.6,638.1 654.7,637.9 651.7,637.8 648.8,637.7 645.9,637.6 643.0,637.5 640.1,637.3 637.1,637.2 634.2,637.1 631.3,636.9 628.4,636.8 625.4,636.7 622.5,636.5 619.6,636.4 616.7,636.3 613.8,636.2 610.8,636.1 607.9,635.9 605.0,635.8 602.1,635.7 599.2,635.8 596.2,635.8 593.3,635.8 590.4,635.8 587.5,635.8 584.5,635.8 581.6,635.7 578.7,635.2 575.7,634.8 572.8,634.8 569.8,634.8"/>
<polygon fill="#0000FF" points="569.8,634.8 572.8,634.8 575.7,634.8 578.6,634.7 581.5,634.5 584.4,634.4 587.4,634.3 590.3,634.3 593.2,634.3 596.1,634.3 599.1,634.2 602.0,634.2 604.9,634.2 607.8,634.4 610.8,634.5 613.7,634.6 616.6,634.7 619.5,634.8 622.5,635.0 625.4,635.1 628.3,635.2 631.2,635.4 634.2,635.5 637.1,635.6 640.0,635.8 642.9,635.9 645.9,636.0 648.8,636.1 651.7,636.2 654.6,636.4 657.5,636.5 660.5,636.7 663.4,636.9 666.3,637.2 669.2,637.4 672.2,637.7 675.1,637.9 678.0,638.1 680.9,638.3 683.9,638.6 686.8,638.8 689.7,639.0 692.6,639.3 695.6,639.5 698.5,639.8 701.4,640.0 704.3,640.3 707.3,640.6 710.2,640.8 713.1,641.1 716.0,641.4 719.0,641.7 721.9,641.9 724.8,642.2 727.7,642.5 730.7,642.8 733.6,643.2 736.5,643.5 739.4,643.8 742.4,644.1 745.3,644.4 748.2,644.8 751.1,645.1 754.1,645.5 757.0,645.9 759.9,646.2 762.8,646.5 765.8,646.9 768.7,647.2 771.6,647.5 774.5,647.9 777.5,648.2 780.4,648.6 783.3,648.9 786.2,649.3 789.1,649.6 792.1,650.0 795.0,650.3 797.9,650.7 800.8,651.0 803.8,651.3 806.7,651.6 809.6,651.9 812.5,652.3 815.5,652.6 818.4,653.0 821.3,653.4 824.2,653.7 827.2,654.2 830.1,654.6 833.0,655.0 835.9,655.4 838.9,655.8 841.8,656.2 844.7,656.7 847.6,657.2 850.5,657.8 853.4,658.2 856.4,658.6 859.3,659.0 862.2,659.4 865.1,659.8 868.1,660.2 871.0,660.6 873.9,661.0 876.8,661.4 879.7,661.8 882.7,662.2 885.6,662.6 888.5,663.0 891.4,663.4 894.4,663.8 897.3,664.2 900.2,664.6 903.1,665.0 906.1,665.4 909.0,665.8 911.9,666.2 914.8,666.6 917.8,667.0 920.7,667.4 920.7,667.4 917.8,667.0 914.8,666.6 911.9,666.2 909.0,665.8 906.1,665.4 903.1,665.0 900.2,664.6 897.3,664.2 894.4,663.8 891.4,663.4 888.5,663.0 885.6,662.6 882.7,662.2 879.7,661.8 876.8,661.4 873.9,661.0 871.0,660.6 868.1,660.2 865.1,659.8 862.2,659.4 859.3,659.0 856.4,658.6 853.4,658.2 850.5,657.8 847.6,657.6 844.6,657.3 841.7,657.0 838.8,656.6 835.8,656.2 832.9,655.8 830.0,655.4 827.1,655.0 824.2,654.6 821.2,654.2 818.3,653.8 815.4,653.5 812.5,653.1 809.5,652.8 806.6,652.5 803.7,652.1 800.8,651.8 797.8,651.5 794.9,651.2 792.0,650.8 789.1,650.5 786.2,650.1 783.2,649.8 780.3,649.4 777.4,649.0 774.5,648.7 771.5,648.4 768.6,648.0 765.7,647.7 762.8,647.4 759.9,647.0 756.9,646.7 754.0,646.3 751.1,646.0 748.2,645.6 745.2,645.3 742.3,644.9 739.4,644.6 736.5,644.3 733.6,644.0 730.6,643.7 727.7,643.4 724.8,643.1 721.9,642.8 718.9,642.5 716.0,642.2 713.1,641.9 710.2,641.7 707.2,641.4 704.3,641.1 701.4,640.9 698.5,640.6 695.6,640.4 692.6,640.1 689.7,639.9 686.8,639.6 683.9,639.4 680.9,639.2 678.0,639.0 675.1,638.7 672.2,638.5 669.3,638.3 666.3,638.0 663.4,637.8 660.5,637.5 657.6,637.4 654.6,637.2 651.7,637.1 648.8,637.0 645.9,636.8 643.0,636.7 640.0,636.6 637.1,636.5 634.2,636.4 631.3,636.2 628.3,636.1 625.4,635.9 622.5,635.8 619.6,635.7 616.6,635.6 613.7,635.4 610.8,635.3 607.9,635.2 605.0,635.1 602.0,635.0 599.1,635.1 596.2,635.1 593.3,635.1 590.3,635.2 587.4,635.2 584.5,635.2 581.6,635.1 578.6,634.9 575.7,634.8 572.8,634.8 569.8,634.8"/>
<polygon fill="#0000FF" points="910.5,645.1 923.7,650.2 920.8,659.9 913.4,655.4"/>
<polygon fill="#0000FF" points="904.2,679.4 910.5,676.6 918.5,675.4 917.6,684.6 904.8,682.6"/>
</g>
<polygon fill="#CACACA" points="568.4,618.3 571.4,618.3 574.3,618.3 577.3,618.3 580.2,618.3 583.2,618.3 586.2,618.3 589.1,618.2 592.1,618.2 595.1,618.1 598.0,618.1 601.0,618.0 603.9,618.0 606.9,618.1 609.9,618.2 612.8,618.2 615.8,618.3 618.7,618.4 621.7,618.5 624.7,618.6 627.6,618.7 630.6,618.8 633.5,618.9 636.5,619.0 639.5,619.1 642.4,619.2 645.4,619.3 648.4,619.4 651.3,619.5 654.3,619.6 657.2,619.8 660.2,620.0 663.2,620.2 666.1,620.4 669.1,620.7 672.0,620.9 675.0,621.1 678.0,621.3 680.9,621.5 683.9,621.7 686.9,621.9 689.8,622.1 692.8,622.4 695.7,622.7 698.7,622.9 701.7,623.2 704.6,623.5 707.6,623.7 710.5,624.1 713.5,624.4 716.5,624.7 719.4,625.0 722.4,625.3 725.3,625.6 728.3,625.9 731.3,626.3 734.2,626.6 737.2,626.9 740.2,627.2 743.1,627.5 746.1,627.9 749.0,628.3 752.0,628.6 755.0,629.0 757.9,629.3 760.9,629.7 763.8,630.0 766.8,630.3 769.8,630.6 772.7,630.9 775.7,631.2 778.6,631.5 781.6,631.9 784.6,632.2 787.5,632.6 790.5,633.0 793.5,633.4 796.4,633.7 799.4,634.1 802.3,634.4 805.3,634.7 808.3,635.0 811.2,635.3 814.2,635.6 817.1,636.0 820.1,636.4 823.1,636.8 826.0,637.2 829.0,637.6 832.0,638.0 834.9,638.4 837.9,638.8 840.8,639.2 843.8,639.6 846.8,640.0 849.7,640.4 852.7,640.8 855.6,641.1 858.6,641.5 861.6,641.9 864.5,642.3 867.5,642.7 870.4,643.1 873.4,643.5 876.4,643.9 879.3,644.3 882.3,644.7 885.3,645.1 888.2,645.5 891.2,645.9 894.1,646.3 897.1,646.7 900.1,647.1 903.0,647.4 906.0,647.8 908.9,648.2 911.9,648.6 914.9,649.0 917.8,649.4 920.8,649.8 923.8,650.2 915.4,632.7 912.7,632.4 909.9,632.0 907.2,631.6 904.5,631.3 901.8,630.9 899.0,630.5 896.3,630.2 893.6,629.8 890.9,629.5 888.1,629.1 885.4,628.7 882.7,628.4 880.0,628.0 877.2,627.6 874.5,627.3 871.8,626.9 869.1,626.5 866.3,626.2 863.6,625.8 860.9,625.4 858.2,625.1 855.4,624.7 852.7,624.3 850.0,624.0 847.3,623.6 844.6,623.2 841.8,622.9 839.1,622.5 836.4,622.1 833.7,621.8 830.9,621.4 828.2,621.1 825.5,620.7 822.8,620.3 820.0,620.0 817.3,619.6 814.6,619.3 811.9,619.0 809.1,618.7 806.4,618.4 803.7,618.1 801.0,617.8 798.2,617.5 795.5,617.2 792.8,616.8 790.1,616.5 787.3,616.2 784.6,615.9 781.9,615.6 779.2,615.3 776.5,615.0 773.7,614.7 771.0,614.4 768.3,614.0 765.6,613.7 762.8,613.4 760.1,613.1 757.4,612.8 754.7,612.5 751.9,612.1 749.2,611.8 746.5,611.5 743.8,611.2 741.0,610.9 738.3,610.6 735.6,610.3 732.9,610.1 730.1,609.8 727.4,609.5 724.7,609.2 722.0,608.9 719.2,608.7 716.5,608.5 713.8,608.3 711.1,608.1 708.4,607.9 705.6,607.8 702.9,607.6 700.2,607.4 697.5,607.2 694.7,607.1 692.0,606.9 689.3,606.7 686.6,606.5 683.8,606.3 681.1,606.2 678.4,606.0 675.7,605.8 672.9,605.6 670.2,605.5 667.5,605.3 664.8,605.1 662.0,604.9 659.3,604.8 656.6,604.7 653.9,604.6 651.1,604.5 648.4,604.4 645.7,604.3 643.0,604.2 640.2,604.1 637.5,604.0 634.8,603.9 632.1,603.8 629.4,603.7 626.6,603.5 623.9,603.4 621.2,603.3 618.5,603.3 615.7,603.2 613.0,603.2 610.3,603.1 607.6,603.1 604.8,603.1 602.1,603.0 599.4,603.0 596.7,602.9 593.9,602.9 591.2,602.8 588.5,602.8"/>
<polygon fill="#FF0000" stroke="#FF0000" stroke-width="0.3" points="743.6,627.6 746.0,627.9 748.5,628.2 750.9,628.5 753.3,628.8 755.8,629.1 758.2,629.4 763.1,613.5 760.9,613.2 758.6,612.9 756.4,612.7 754.1,612.4 751.9,612.1 749.7,611.9"/>
<polygon fill="#FF5D00" stroke="#FF5D00" stroke-width="0.3" points="758.2,629.4 760.6,629.7 763.0,629.9 765.4,630.1 767.8,630.4 770.2,630.6 772.6,630.9 776.3,615.0 774.1,614.7 771.9,614.5 769.7,614.2 767.5,614.0 765.3,613.7 763.1,613.5"/>
<polygon fill="#FFB900" stroke="#FFB900" stroke-width="0.3" points="772.6,630.9 775.0,631.1 777.5,631.4 780.0,631.7 782.4,632.0 784.8,632.3 787.3,632.6 789.9,616.5 787.6,616.3 785.4,616.0 783.1,615.7 780.8,615.5 778.6,615.2 776.3,615.0"/>
<polygon fill="#E8FF00" stroke="#E8FF00" stroke-width="0.3" points="787.3,632.6 789.7,632.9 792.1,633.2 794.5,633.5 796.8,633.8 799.2,634.0 801.6,634.3 803.0,618.0 800.8,617.8 798.6,617.5 796.4,617.3 794.2,617.0 792.1,616.8 789.9,616.5"/>
<polygon fill="#8BFF00" stroke="#8BFF00" stroke-width="0.3" points="801.6,634.3 803.8,634.5 805.9,634.7 808.1,635.0 810.3,635.2 812.4,635.4 814.6,635.7 815.0,619.4 813.0,619.1 811.0,618.9 809.0,618.7 807.0,618.5 805.0,618.2 803.0,618.0"/>
<polygon fill="#2EFF00" stroke="#2EFF00" stroke-width="0.3" points="814.6,635.7 817.4,636.1 820.2,636.4 823.0,636.8 825.8,637.2 828.6,637.5 831.4,637.9 830.4,621.3 827.8,621.0 825.3,620.7 822.7,620.3 820.1,620.0 817.5,619.7 815.0,619.4"/>
<polygon fill="#00FF2E" stroke="#00FF2E" stroke-width="0.3" points="831.4,637.9 834.2,638.3 836.9,638.7 839.7,639.0 842.5,639.4 845.2,639.8 848.0,640.1 845.7,623.4 843.2,623.1 840.6,622.7 838.1,622.4 835.5,622.0 833.0,621.7 830.4,621.3"/>
<polygon fill="#00FF8B" stroke="#00FF8B" stroke-width="0.3" points="848.0,640.1 850.8,640.5 853.6,640.9 856.4,641.2 859.1,641.6 861.9,642.0 864.7,642.4 861.1,625.5 858.5,625.1 855.9,624.8 853.4,624.4 850.8,624.1 848.3,623.7 845.7,623.4"/>
<polygon fill="#00FFE8" stroke="#00FFE8" stroke-width="0.3" points="864.7,642.4 867.0,642.7 869.2,643.0 871.5,643.3 873.7,643.5 876.0,643.8 878.2,644.1 873.5,627.1 871.4,626.8 869.3,626.6 867.3,626.3 865.2,626.0 863.1,625.7 861.1,625.5"/>
<polygon fill="#00B9FF" stroke="#00B9FF" stroke-width="0.3" points="878.2,644.1 880.3,644.4 882.4,644.7 884.5,645.0 886.5,645.3 888.6,645.5 890.7,645.8 885.0,628.7 883.1,628.4 881.1,628.1 879.2,627.9 877.3,627.6 875.4,627.4 873.5,627.1"/>
<polygon fill="#005DFF" stroke="#005DFF" stroke-width="0.3" points="890.7,645.8 893.4,646.2 896.1,646.5 898.9,646.9 901.6,647.3 904.3,647.6 907.0,648.0 900.0,630.7 897.5,630.3 895.0,630.0 892.5,629.7 890.0,629.3 887.5,629.0 885.0,628.7"/>
<polygon fill="#0000FF" stroke="#0000FF" stroke-width="0.3" points="907.0,648.0 909.8,648.3 912.6,648.7 915.4,649.1 918.2,649.5 921.0,649.8 923.8,650.2 915.4,632.7 912.8,632.4 910.2,632.0 907.7,631.7 905.1,631.4 902.5,631.0 900.0,630.7"/>
<g stroke="#222" stroke-width="0.5" fill="none" opacity="0.8">
<line x1="568.4" y1="618.3" x2="571.3" y2="651.3"/>
<line x1="568.4" y1="618.3" x2="588.5" y2="602.8"/>
<line x1="568.4" y1="618.3" x2="586.7" y2="634.8"/>
<line x1="569.8" y1="634.8" x2="588.0" y2="651.2"/>
<line x1="573.4" y1="614.4" x2="585.5" y2="618.3"/>
<line x1="578.4" y1="610.6" x2="590.2" y2="614.5"/>
<line x1="583.5" y1="606.7" x2="594.9" y2="610.7"/>
<line x1="588.5" y1="602.8" x2="599.6" y2="606.9"/>
<line x1="585.5" y1="618.3" x2="588.0" y2="651.2"/>
<line x1="585.5" y1="618.3" x2="604.2" y2="603.1"/>
<line x1="585.5" y1="618.3" x2="603.7" y2="634.6"/>
<line x1="586.7" y1="634.8" x2="604.7" y2="651.3"/>
<line x1="590.2" y1="614.5" x2="602.7" y2="618.0"/>
<line x1="594.9" y1="610.7" x2="607.0" y2="614.3"/>
<line x1="599.6" y1="606.9" x2="611.4" y2="610.7"/>
<line x1="604.2" y1="603.1" x2="615.7" y2="607.0"/>
<line x1="602.7" y1="618.0" x2="604.7" y2="651.3"/>
<line x1="602.7" y1="618.0" x2="620.0" y2="603.3"/>
<line x1="602.7" y1="618.0" x2="620.7" y2="635.3"/>
<line x1="603.7" y1="634.6" x2="621.5" y2="652.2"/>
<line x1="607.0" y1="614.3" x2="619.9" y2="618.4"/>
<line x1="611.4" y1="610.7" x2="623.9" y2="614.8"/>
<line x1="615.7" y1="607.0" x2="627.9" y2="611.1"/>
<line x1="620.0" y1="603.3" x2="631.9" y2="607.5"/>
<line x1="619.9" y1="618.4" x2="621.5" y2="652.2"/>
<line x1="619.9" y1="618.4" x2="635.9" y2="603.9"/>
<line x1="619.9" y1="618.4" x2="637.8" y2="636.1"/>
<line x1="620.7" y1="635.3" x2="638.4" y2="653.2"/>
<line x1="623.9" y1="614.8" x2="637.3" y2="619.0"/>
<line x1="627.9" y1="611.1" x2="640.9" y2="615.4"/>
<line x1="631.9" y1="607.5" x2="644.5" y2="611.7"/>
<line x1="635.9" y1="603.9" x2="648.2" y2="608.1"/>
<line x1="637.3" y1="619.0" x2="638.4" y2="653.2"/>
<line x1="637.3" y1="619.0" x2="651.8" y2="604.5"/>
<line x1="637.3" y1="619.0" x2="655.0" y2="636.8"/>
<line x1="637.8" y1="636.1" x2="655.3" y2="654.0"/>
<line x1="640.9" y1="615.4" x2="654.6" y2="619.6"/>
<line x1="644.5" y1="611.7" x2="657.9" y2="616.0"/>
<line x1="648.2" y1="608.1" x2="661.2" y2="612.4"/>
<line x1="651.8" y1="604.5" x2="664.5" y2="608.9"/>
<line x1="654.6" y1="619.6" x2="655.3" y2="654.0"/>
<line x1="654.6" y1="619.6" x2="667.8" y2="605.3"/>
<line x1="654.6" y1="619.6" x2="672.2" y2="638.1"/>
<line x1="655.0" y1="636.8" x2="672.4" y2="655.3"/>
<line x1="657.9" y1="616.0" x2="672.1" y2="620.9"/>
<line x1="661.2" y1="612.4" x2="675.0" y2="617.3"/>
<line x1="664.5" y1="608.9" x2="678.0" y2="613.6"/>
<line x1="667.8" y1="605.3" x2="680.9" y2="610.0"/>
<line x1="672.1" y1="620.9" x2="672.4" y2="655.3"/>
<line x1="672.1" y1="620.9" x2="683.9" y2="606.4"/>
<line x1="672.1" y1="620.9" x2="689.5" y2="639.4"/>
<line x1="672.2" y1="638.1" x2="689.4" y2="656.8"/>
<line x1="675.0" y1="617.3" x2="689.6" y2="622.1"/>
<line x1="678.0" y1="613.6" x2="692.2" y2="618.4"/>
<line x1="680.9" y1="610.0" x2="694.8" y2="614.8"/>
<line x1="683.9" y1="606.4" x2="697.4" y2="611.1"/>
<line x1="689.6" y1="622.1" x2="689.4" y2="656.8"/>
<line x1="689.6" y1="622.1" x2="700.0" y2="607.4"/>
<line x1="689.6" y1="622.1" x2="706.9" y2="640.9"/>
<line x1="689.5" y1="639.4" x2="706.6" y2="658.2"/>
<line x1="692.2" y1="618.4" x2="707.2" y2="623.7"/>
<line x1="694.8" y1="614.8" x2="709.5" y2="619.9"/>
<line x1="697.4" y1="611.1" x2="711.7" y2="616.1"/>
<line x1="700.0" y1="607.4" x2="713.9" y2="612.3"/>
<line x1="707.2" y1="623.7" x2="706.6" y2="658.2"/>
<line x1="707.2" y1="623.7" x2="716.2" y2="608.5"/>
<line x1="707.2" y1="623.7" x2="724.3" y2="642.6"/>
<line x1="706.9" y1="640.9" x2="723.8" y2="659.6"/>
<line x1="709.5" y1="619.9" x2="724.9" y2="625.6"/>
<line x1="711.7" y1="616.1" x2="726.8" y2="621.7"/>
<line x1="713.9" y1="612.3" x2="728.7" y2="617.8"/>
<line x1="716.2" y1="608.5" x2="730.5" y2="613.9"/>
<line x1="724.9" y1="625.6" x2="723.8" y2="659.6"/>
<line x1="724.9" y1="625.6" x2="732.4" y2="610.0"/>
<line x1="724.9" y1="625.6" x2="741.8" y2="644.5"/>
<line x1="724.3" y1="642.6" x2="741.1" y2="661.5"/>
<line x1="726.8" y1="621.7" x2="742.6" y2="627.5"/>
<line x1="728.7" y1="617.8" x2="744.1" y2="623.5"/>
<line x1="730.5" y1="613.9" x2="745.7" y2="619.6"/>
<line x1="732.4" y1="610.0" x2="747.2" y2="615.7"/>
<line x1="742.6" y1="627.5" x2="741.1" y2="661.5"/>
<line x1="742.6" y1="627.5" x2="748.7" y2="611.7"/>
<line x1="742.6" y1="627.5" x2="759.4" y2="646.6"/>
<line x1="741.8" y1="644.5" x2="758.4" y2="663.5"/>
<line x1="744.1" y1="623.5" x2="760.4" y2="629.6"/>
<line x1="745.7" y1="619.6" x2="761.6" y2="625.7"/>
<line x1="747.2" y1="615.7" x2="762.8" y2="621.7"/>
<line x1="748.7" y1="611.7" x2="763.9" y2="617.7"/>
<line x1="760.4" y1="629.6" x2="758.4" y2="663.5"/>
<line x1="760.4" y1="629.6" x2="765.1" y2="613.7"/>
<line x1="759.4" y1="646.6" x2="778.3" y2="631.5"/>
<line x1="758.4" y1="663.5" x2="777.1" y2="648.6"/>
<line x1="761.6" y1="625.7" x2="778.3" y2="631.5"/>
<line x1="762.8" y1="621.7" x2="779.1" y2="627.5"/>
<line x1="763.9" y1="617.7" x2="779.9" y2="623.5"/>
<line x1="765.1" y1="613.7" x2="780.7" y2="619.5"/>
<line x1="778.3" y1="631.5" x2="775.8" y2="665.7"/>
<line x1="778.3" y1="631.5" x2="781.6" y2="615.6"/>
<line x1="777.1" y1="648.6" x2="796.2" y2="633.7"/>
<line x1="775.8" y1="665.7" x2="794.8" y2="650.7"/>
<line x1="779.1" y1="627.5" x2="796.2" y2="633.7"/>
<line x1="779.9" y1="623.5" x2="796.7" y2="629.7"/>
<line x1="780.7" y1="619.5" x2="797.1" y2="625.6"/>
<line x1="781.6" y1="615.6" x2="797.6" y2="621.5"/>
<line x1="796.2" y1="633.7" x2="793.3" y2="667.7"/>
<line x1="796.2" y1="633.7" x2="798.1" y2="617.4"/>
<line x1="794.8" y1="650.7" x2="814.2" y2="635.6"/>
<line x1="793.3" y1="667.7" x2="812.6" y2="652.7"/>
<line x1="796.7" y1="629.7" x2="814.2" y2="635.6"/>
<line x1="797.1" y1="625.6" x2="814.3" y2="631.6"/>
<line x1="797.6" y1="621.5" x2="814.4" y2="627.5"/>
<line x1="798.1" y1="617.4" x2="814.5" y2="623.4"/>
<line x1="814.2" y1="635.6" x2="810.9" y2="669.8"/>
<line x1="814.2" y1="635.6" x2="814.6" y2="619.3"/>
<line x1="812.6" y1="652.7" x2="832.3" y2="638.0"/>
<line x1="810.9" y1="669.8" x2="830.4" y2="655.0"/>
<line x1="814.3" y1="631.6" x2="832.3" y2="638.0"/>
<line x1="814.4" y1="627.5" x2="832.1" y2="633.9"/>
<line x1="814.5" y1="623.4" x2="831.8" y2="629.8"/>
<line x1="814.6" y1="619.3" x2="831.5" y2="625.6"/>
<line x1="832.3" y1="638.0" x2="828.5" y2="672.0"/>
<line x1="832.3" y1="638.0" x2="831.3" y2="621.5"/>
<line x1="830.4" y1="655.0" x2="850.5" y2="640.5"/>
<line x1="828.5" y1="672.0" x2="848.3" y2="657.5"/>
<line x1="832.1" y1="633.9" x2="850.5" y2="640.5"/>
<line x1="831.8" y1="629.8" x2="849.8" y2="636.3"/>
<line x1="831.5" y1="625.6" x2="849.2" y2="632.1"/>
<line x1="831.3" y1="621.5" x2="848.6" y2="627.9"/>
<line x1="850.5" y1="640.5" x2="846.2" y2="674.5"/>
<line x1="850.5" y1="640.5" x2="848.0" y2="623.7"/>
<line x1="848.3" y1="657.5" x2="868.7" y2="642.9"/>
<line x1="846.2" y1="674.5" x2="866.3" y2="659.9"/>
<line x1="849.8" y1="636.3" x2="868.7" y2="642.9"/>
<line x1="849.2" y1="632.1" x2="867.7" y2="638.6"/>
<line x1="848.6" y1="627.9" x2="866.7" y2="634.4"/>
<line x1="848.0" y1="623.7" x2="865.7" y2="630.2"/>
<line x1="868.7" y1="642.9" x2="863.9" y2="677.0"/>
<line x1="868.7" y1="642.9" x2="864.7" y2="625.9"/>
<line x1="866.3" y1="659.9" x2="887.0" y2="645.3"/>
<line x1="863.9" y1="677.0" x2="884.4" y2="662.4"/>
<line x1="867.7" y1="638.6" x2="887.0" y2="645.3"/>
<line x1="866.7" y1="634.4" x2="885.6" y2="641.0"/>
<line x1="865.7" y1="630.2" x2="884.3" y2="636.8"/>
<line x1="864.7" y1="625.9" x2="882.9" y2="632.5"/>
<line x1="887.0" y1="645.3" x2="881.8" y2="679.5"/>
<line x1="887.0" y1="645.3" x2="881.5" y2="628.2"/>
<line x1="884.4" y1="662.4" x2="905.3" y2="647.8"/>
<line x1="881.8" y1="679.5" x2="902.5" y2="664.9"/>
<line x1="885.6" y1="641.0" x2="905.3" y2="647.8"/>
<line x1="884.3" y1="636.8" x2="903.6" y2="643.4"/>
<line x1="882.9" y1="632.5" x2="901.9" y2="639.1"/>
<line x1="881.5" y1="628.2" x2="900.2" y2="634.8"/>
<line x1="905.3" y1="647.8" x2="899.6" y2="682.1"/>
<line x1="905.3" y1="647.8" x2="898.4" y2="630.5"/>
<line x1="902.5" y1="664.9" x2="923.8" y2="650.2"/>
<line x1="899.6" y1="682.1" x2="920.7" y2="667.4"/>
<line x1="903.6" y1="643.4" x2="923.8" y2="650.2"/>
<line x1="901.9" y1="639.1" x2="921.7" y2="645.8"/>
<line x1="900.2" y1="634.8" x2="919.6" y2="641.5"/>
<line x1="898.4" y1="630.5" x2="917.5" y2="637.1"/>
<line x1="923.8" y1="650.2" x2="917.6" y2="684.6"/>
<line x1="923.8" y1="650.2" x2="915.4" y2="632.7"/>
<polyline points="568.4,618.3 571.4,618.3 574.3,618.3 577.3,618.3 580.2,618.3 583.2,618.3 586.2,618.3 589.1,618.2 592.1,618.2 595.1,618.1 598.0,618.1 601.0,618.0 603.9,618.0 606.9,618.1 609.9,618.2 612.8,618.2 615.8,618.3 618.7,618.4 621.7,618.5 624.7,618.6 627.6,618.7 630.6,618.8 633.5,618.9 636.5,619.0 639.5,619.1 642.4,619.2 645.4,619.3 648.4,619.4 651.3,619.5 654.3,619.6 657.2,619.8 660.2,620.0 663.2,620.2 666.1,620.4 669.1,620.7 672.0,620.9 675.0,621.1 678.0,621.3 680.9,621.5 683.9,621.7 686.9,621.9 689.8,622.1 692.8,622.4 695.7,622.7 698.7,622.9 701.7,623.2 704.6,623.5 707.6,623.7 710.5,624.1 713.5,624.4 716.5,624.7 719.4,625.0 722.4,625.3 725.3,625.6 728.3,625.9 731.3,626.3 734.2,626.6 737.2,626.9 740.2,627.2 743.1,627.5 746.1,627.9 749.0,628.3 752.0,628.6 755.0,629.0 757.9,629.3 760.9,629.7 763.8,630.0 766.8,630.3 769.8,630.6 772.7,630.9 775.7,631.2 778.6,631.5 781.6,631.9 784.6,632.2 787.5,632.6 790.5,633.0 793.5,633.4 796.4,633.7 799.4,634.1 802.3,634.4 805.3,634.7 808.3,635.0 811.2,635.3 814.2,635.6 817.1,636.0 820.1,636.4 823.1,636.8 826.0,637.2 829.0,637.6 832.0,638.0 834.9,638.4 837.9,638.8 840.8,639.2 843.8,639.6 846.8,640.0 849.7,640.4 852.7,640.8 855.6,641.1 858.6,641.5 861.6,641.9 864.5,642.3 867.5,642.7 870.4,643.1 873.4,643.5 876.4,643.9 879.3,644.3 882.3,644.7 885.3,645.1 888.2,645.5 891.2,645.9 894.1,646.3 897.1,646.7 900.1,647.1 903.0,647.4 906.0,647.8 908.9,648.2 911.9,648.6 914.9,649.0 917.8,649.4 920.8,649.8 923.8,650.2"/>
<polyline points="571.3,651.3 574.2,651.3 577.1,651.3 580.0,651.3 582.8,651.3 585.7,651.3 588.6,651.2 591.5,651.2 594.4,651.2 597.3,651.2 600.2,651.2 603.0,651.2 605.9,651.3 608.8,651.5 611.7,651.7 614.6,651.8 617.5,652.0 620.4,652.2 623.2,652.3 626.1,652.5 629.0,652.7 631.9,652.8 634.8,653.0 637.7,653.2 640.6,653.3 643.4,653.5 646.3,653.6 649.2,653.7 652.1,653.8 655.0,654.0 657.9,654.1 660.8,654.3 663.6,654.5 666.5,654.8 669.4,655.0 672.3,655.3 675.2,655.5 678.1,655.8 681.0,656.0 683.8,656.3 686.7,656.5 689.6,656.8 692.5,657.0 695.4,657.2 698.3,657.5 701.2,657.7 704.0,658.0 706.9,658.2 709.8,658.4 712.7,658.7 715.6,658.9 718.5,659.2 721.4,659.4 724.2,659.7 727.1,660.0 730.0,660.3 732.9,660.6 735.8,660.9 738.7,661.2 741.6,661.5 744.5,661.8 747.3,662.2 750.2,662.5 753.1,662.8 756.0,663.2 758.9,663.6 761.8,663.9 764.7,664.3 767.5,664.6 770.4,665.0 773.3,665.4 776.2,665.7 779.1,666.1 782.0,666.4 784.9,666.8 787.7,667.1 790.6,667.4 793.5,667.8 796.4,668.1 799.3,668.4 802.2,668.7 805.1,669.1 807.9,669.4 810.8,669.7 813.7,670.1 816.6,670.4 819.5,670.7 822.4,671.1 825.3,671.5 828.1,672.0 831.0,672.4 833.9,672.8 836.8,673.2 839.7,673.6 842.6,674.0 845.5,674.4 848.3,674.8 851.2,675.2 854.1,675.6 857.0,676.0 859.9,676.4 862.8,676.8 865.7,677.3 868.5,677.7 871.4,678.1 874.3,678.5 877.2,678.9 880.1,679.3 883.0,679.7 885.9,680.1 888.7,680.5 891.6,680.9 894.5,681.3 897.4,681.7 900.3,682.2 903.2,682.6 906.1,683.0 908.9,683.4 911.8,683.8 914.7,684.2 917.6,684.6"/>
<polyline points="569.8,634.8 572.8,634.8 575.7,634.8 578.6,634.8 581.5,634.8 584.5,634.8 587.4,634.8 590.3,634.7 593.2,634.7 596.2,634.7 599.1,634.7 602.0,634.6 604.9,634.7 607.9,634.8 610.8,634.9 613.7,635.0 616.6,635.1 619.6,635.3 622.5,635.4 625.4,635.5 628.3,635.7 631.2,635.8 634.2,635.9 637.1,636.1 640.0,636.2 642.9,636.3 645.9,636.4 648.8,636.5 651.7,636.7 654.6,636.8 657.6,636.9 660.5,637.1 663.4,637.4 666.3,637.6 669.3,637.8 672.2,638.1 675.1,638.3 678.0,638.5 680.9,638.8 683.9,639.0 686.8,639.2 689.7,639.5 692.6,639.7 695.6,640.0 698.5,640.2 701.4,640.5 704.3,640.7 707.3,641.0 710.2,641.3 713.1,641.5 716.0,641.8 719.0,642.1 721.9,642.4 724.8,642.6 727.7,643.0 730.6,643.3 733.6,643.6 736.5,643.9 739.4,644.2 742.3,644.5 745.3,644.9 748.2,645.2 751.1,645.5 754.0,645.9 757.0,646.3 759.9,646.6 762.8,647.0 765.7,647.3 768.7,647.6 771.6,647.9 774.5,648.3 777.4,648.6 780.3,649.0 783.3,649.3 786.2,649.7 789.1,650.0 792.0,650.4 795.0,650.7 797.9,651.1 800.8,651.4 803.7,651.7 806.7,652.0 809.6,652.4 812.5,652.7 815.4,653.0 818.4,653.4 821.3,653.8 824.2,654.2 827.1,654.6 830.0,655.0 833.0,655.4 835.9,655.8 838.8,656.2 841.7,656.6 844.7,657.0 847.6,657.4 850.5,657.8 853.4,658.2 856.4,658.6 859.3,659.0 862.2,659.4 865.1,659.8 868.1,660.2 871.0,660.6 873.9,661.0 876.8,661.4 879.7,661.8 882.7,662.2 885.6,662.6 888.5,663.0 891.4,663.4 894.4,663.8 897.3,664.2 900.2,664.6 903.1,665.0 906.1,665.4 909.0,665.8 911.9,666.2 914.8,666.6 917.8,667.0 920.7,667.4"/>
<polyline points="573.4,614.4 576.3,614.4 579.2,614.4 582.1,614.5 585.0,614.5 587.9,614.5 590.8,614.5 593.7,614.5 596.6,614.4 599.5,614.4 602.4,614.4 605.3,614.4 608.2,614.3 611.1,614.4 614.1,614.5 617.0,614.6 619.9,614.7 622.8,614.7 625.7,614.8 628.6,614.9 631.5,615.0 634.4,615.1 637.3,615.2 640.2,615.3 643.1,615.4 646.0,615.5 648.9,615.6 651.8,615.8 654.7,615.9 657.6,616.0 660.5,616.2 663.4,616.4 666.3,616.6 669.2,616.8 672.1,617.0 675.0,617.3 677.9,617.5 680.8,617.7 683.7,617.9 686.6,618.1 689.5,618.3 692.4,618.5 695.3,618.7 698.2,618.9 701.1,619.2 704.0,619.4 706.9,619.7 709.8,619.9 712.7,620.2 715.6,620.5 718.5,620.8 721.4,621.1 724.3,621.4 727.2,621.7 730.1,622.0 733.0,622.4 735.9,622.7 738.8,623.0 741.7,623.3 744.6,623.6 747.5,623.9 750.4,624.3 753.3,624.7 756.2,625.0 759.1,625.4 762.0,625.7 765.0,626.0 767.9,626.3 770.8,626.6 773.7,626.9 776.6,627.2 779.5,627.5 782.4,627.9 785.3,628.2 788.2,628.6 791.1,629.0 794.0,629.3 796.9,629.7 799.8,630.0 802.7,630.3 805.6,630.6 808.5,630.9 811.4,631.2 814.3,631.6 817.2,631.9 820.1,632.3 823.0,632.7 825.9,633.1 828.8,633.5 831.7,633.8 834.6,634.2 837.5,634.6 840.4,635.0 843.3,635.4 846.2,635.8 849.1,636.2 852.0,636.6 854.9,636.9 857.8,637.3 860.7,637.7 863.6,638.1 866.5,638.5 869.4,638.9 872.3,639.3 875.2,639.7 878.1,640.0 881.0,640.4 883.9,640.8 886.8,641.2 889.7,641.6 892.6,642.0 895.5,642.4 898.4,642.7 901.3,643.1 904.2,643.5 907.1,643.9 910.0,644.3 913.0,644.7 915.9,645.1 918.8,645.4 921.7,645.8"/>
<polyline points="578.4,610.6 581.3,610.6 584.1,610.6 587.0,610.6 589.8,610.6 592.7,610.7 595.5,610.7 598.3,610.7 601.2,610.7 604.0,610.7 606.9,610.7 609.7,610.7 612.6,610.7 615.4,610.8 618.2,610.8 621.1,610.9 623.9,611.0 626.8,611.1 629.6,611.2 632.5,611.3 635.3,611.4 638.1,611.5 641.0,611.6 643.8,611.7 646.7,611.8 649.5,611.9 652.4,612.0 655.2,612.2 658.0,612.3 660.9,612.4 663.7,612.6 666.6,612.8 669.4,613.0 672.3,613.2 675.1,613.4 677.9,613.6 680.8,613.8 683.6,614.0 686.5,614.2 689.3,614.4 692.2,614.6 695.0,614.8 697.8,615.0 700.7,615.2 703.5,615.4 706.4,615.7 709.2,615.9 712.1,616.1 714.9,616.4 717.7,616.6 720.6,616.9 723.4,617.2 726.3,617.5 729.1,617.8 731.9,618.1 734.8,618.4 737.6,618.7 740.5,619.0 743.3,619.3 746.2,619.7 749.0,620.0 751.8,620.4 754.7,620.7 757.5,621.0 760.4,621.4 763.2,621.7 766.1,622.0 768.9,622.3 771.7,622.6 774.6,622.9 777.4,623.2 780.3,623.5 783.1,623.9 786.0,624.2 788.8,624.6 791.6,624.9 794.5,625.3 797.3,625.6 800.2,625.9 803.0,626.2 805.9,626.5 808.7,626.9 811.5,627.2 814.4,627.5 817.2,627.8 820.1,628.2 822.9,628.6 825.8,628.9 828.6,629.3 831.4,629.7 834.3,630.1 837.1,630.5 840.0,630.8 842.8,631.2 845.7,631.6 848.5,632.0 851.3,632.4 854.2,632.7 857.0,633.1 859.9,633.5 862.7,633.9 865.6,634.3 868.4,634.6 871.2,635.0 874.1,635.4 876.9,635.8 879.8,636.2 882.6,636.5 885.5,636.9 888.3,637.3 891.1,637.7 894.0,638.1 896.8,638.4 899.7,638.8 902.5,639.2 905.4,639.6 908.2,640.0 911.0,640.3 913.9,640.7 916.7,641.1 919.6,641.5"/>
<polyline points="583.5,606.7 586.3,606.7 589.0,606.7 591.8,606.8 594.6,606.8 597.4,606.8 600.2,606.9 603.0,606.9 605.7,606.9 608.5,606.9 611.3,606.9 614.1,607.0 616.9,607.0 619.7,607.1 622.4,607.2 625.2,607.3 628.0,607.4 630.8,607.5 633.6,607.6 636.4,607.7 639.1,607.8 641.9,607.9 644.7,608.0 647.5,608.1 650.3,608.2 653.1,608.3 655.8,608.4 658.6,608.5 661.4,608.7 664.2,608.9 667.0,609.0 669.8,609.2 672.5,609.4 675.3,609.6 678.1,609.8 680.9,610.0 683.7,610.2 686.5,610.4 689.2,610.5 692.0,610.7 694.8,610.9 697.6,611.1 700.4,611.3 703.2,611.5 705.9,611.7 708.7,611.9 711.5,612.1 714.3,612.3 717.1,612.5 719.9,612.8 722.6,613.1 725.4,613.4 728.2,613.7 731.0,613.9 733.8,614.2 736.6,614.5 739.3,614.8 742.1,615.1 744.9,615.4 747.7,615.7 750.5,616.1 753.3,616.4 756.0,616.7 758.8,617.1 761.6,617.4 764.4,617.7 767.2,618.0 770.0,618.3 772.7,618.6 775.5,619.0 778.3,619.3 781.1,619.6 783.9,619.9 786.7,620.2 789.4,620.6 792.2,620.9 795.0,621.2 797.8,621.5 800.6,621.8 803.4,622.2 806.1,622.5 808.9,622.8 811.7,623.1 814.5,623.4 817.3,623.7 820.1,624.1 822.8,624.4 825.6,624.8 828.4,625.2 831.2,625.6 834.0,625.9 836.8,626.3 839.5,626.7 842.3,627.1 845.1,627.4 847.9,627.8 850.7,628.2 853.5,628.5 856.2,628.9 859.0,629.3 861.8,629.7 864.6,630.0 867.4,630.4 870.2,630.8 872.9,631.1 875.7,631.5 878.5,631.9 881.3,632.3 884.1,632.6 886.9,633.0 889.6,633.4 892.4,633.8 895.2,634.1 898.0,634.5 900.8,634.9 903.6,635.2 906.3,635.6 909.1,636.0 911.9,636.4 914.7,636.7 917.5,637.1"/>
<polyline points="588.5,602.8 591.2,602.8 593.9,602.9 596.7,602.9 599.4,603.0 602.1,603.0 604.8,603.1 607.6,603.1 610.3,603.1 613.0,603.2 615.7,603.2 618.5,603.3 621.2,603.3 623.9,603.4 626.6,603.5 629.4,603.7 632.1,603.8 634.8,603.9 637.5,604.0 640.2,604.1 643.0,604.2 645.7,604.3 648.4,604.4 651.1,604.5 653.9,604.6 656.6,604.7 659.3,604.8 662.0,604.9 664.8,605.1 667.5,605.3 670.2,605.5 672.9,605.6 675.7,605.8 678.4,606.0 681.1,606.2 683.8,606.3 686.6,606.5 689.3,606.7 692.0,606.9 694.7,607.1 697.5,607.2 700.2,607.4 702.9,607.6 705.6,607.8 708.4,607.9 711.1,608.1 713.8,608.3 716.5,608.5 719.2,608.7 722.0,608.9 724.7,609.2 727.4,609.5 730.1,609.8 732.9,610.1 735.6,610.3 738.3,610.6 741.0,610.9 743.8,611.2 746.5,611.5 749.2,611.8 751.9,612.1 754.7,612.5 757.4,612.8 760.1,613.1 762.8,613.4 765.6,613.7 768.3,614.0 771.0,614.4 773.7,614.7 776.5,615.0 779.2,615.3 781.9,615.6 784.6,615.9 787.3,616.2 790.1,616.5 792.8,616.8 795.5,617.2 798.2,617.5 801.0,617.8 803.7,618.1 806.4,618.4 809.1,618.7 811.9,619.0 814.6,619.3 817.3,619.6 820.0,620.0 822.8,620.3 825.5,620.7 828.2,621.1 830.9,621.4 833.7,621.8 836.4,622.1 839.1,622.5 841.8,622.9 844.6,623.2 847.3,623.6 850.0,624.0 852.7,624.3 855.4,624.7 858.2,625.1 860.9,625.4 863.6,625.8 866.3,626.2 869.1,626.5 871.8,626.9 874.5,627.3 877.2,627.6 880.0,628.0 882.7,628.4 885.4,628.7 888.1,629.1 890.9,629.5 893.6,629.8 896.3,630.2 899.0,630.5 901.8,630.9 904.5,631.3 907.2,631.6 909.9,632.0 912.7,632.4 915.4,632.7"/>
</g>
<rect x="537.6" y="454.6" width="36" height="57" fill="none" stroke="#7a7a7a" stroke-width="0.8"/>
<rect x="540.2" y="467.50" width="5.1" height="3.25" fill="#CACACA"/>
<rect x="540.2" y="470.65" width="5.1" height="3.25" fill="#FF0000"/>
<rect x="540.2" y="473.79" width="5.1" height="3.25" fill="#FF5D00"/>
<rect x="540.2" y="476.94" width="5.1" height="3.25" fill="#FFB900"/>
<rect x="540.2" y="480.08" width="5.1" height="3.25" fill="#E8FF00"/>
<rect x="540.2" y="483.23" width="5.1" height="3.25" fill="#8BFF00"/>
<rect x="540.2" y="486.38" width="5.1" height="3.25" fill="#2EFF00"/>
<rect x="540.2" y="489.52" width="5.1" height="3.25" fill="#00FF2E"/>
<rect x="540.2" y="492.67" width="5.1" height="3.25" fill="#00FF8B"/>
<rect x="540.2" y="495.82" width="5.1" height="3.25" fill="#00FFE8"/>
<rect x="540.2" y="498.96" width="5.1" height="3.25" fill="#00B9FF"/>
<rect x="540.2" y="502.11" width="5.1" height="3.25" fill="#005DFF"/>
<rect x="540.2" y="505.25" width="5.1" height="3.25" fill="#0000FF"/>
<text transform="translate(540.40,461.00) rotate(0.03) scale(0.125)" font-size="27.2" font-family="'Liberation Sans',sans-serif" fill="#333">S, Mises</text>
<text transform="translate(540.40,464.80) rotate(0.03) scale(0.125)" font-size="27.2" font-family="'Liberation Sans',sans-serif" fill="#333">(Avg: 75%)</text>
<text transform="translate(548.60,469.20) rotate(0.03) scale(0.125)" font-size="29.6" font-family="'Liberation Sans',sans-serif" fill="#333">+1.175e+01</text>
<line x1="545.3" y1="467.50" x2="547" y2="467.50" stroke="#555" stroke-width="0.3"/>
<text transform="translate(548.60,472.36) rotate(0.03) scale(0.125)" font-size="29.6" font-family="'Liberation Sans',sans-serif" fill="#333">+6.000e+00</text>
<line x1="545.3" y1="470.65" x2="547" y2="470.65" stroke="#555" stroke-width="0.3"/>
<text transform="translate(548.60,475.52) rotate(0.03) scale(0.125)" font-size="29.6" font-family="'Liberation Sans',sans-serif" fill="#333">+5.500e+00</text>
<line x1="545.3" y1="473.79" x2="547" y2="473.79" stroke="#555" stroke-width="0.3"/>
<text transform="translate(548.60,478.68) rotate(0.03) scale(0.125)" font-size="29.6" font-family="'Liberation Sans',sans-serif" fill="#333">+5.000e+00</text>
<line x1="545.3" y1="476.94" x2="547" y2="476.94" stroke="#555" stroke-width="0.3"/>
<text transform="translate(548.60,481.85) rotate(0.03) scale(0.125)" font-size="29.6" font-family="'Liberation Sans',sans-serif" fill="#333">+4.500e+00</text>
<line x1="545.3" y1="480.08" x2="547" y2="480.08" stroke="#555" stroke-width="0.3"/>
<text transform="translate(548.60,485.01) rotate(0.03) scale(0.125)" font-size="29.6" font-family="'Liberation Sans',sans-serif" fill="#333">+4.000e+00</text>
<line x1="545.3" y1="483.23" x2="547" y2="483.23" stroke="#555" stroke-width="0.3"/>
<text transform="translate(548.60,488.17) rotate(0.03) scale(0.125)" font-size="29.6" font-family="'Liberation Sans',sans-serif" fill="#333">+3.500e+00</text>
<line x1="545.3" y1="486.38" x2="547" y2="486.38" stroke="#555" stroke-width="0.3"/>
<text transform="translate(548.60,491.33) rotate(0.03) scale(0.125)" font-size="29.6" font-family="'Liberation Sans',sans-serif" fill="#333">+3.000e+00</text>
<line x1="545.3" y1="489.52" x2="547" y2="489.52" stroke="#555" stroke-width="0.3"/>
<text transform="translate(548.60,494.49) rotate(0.03) scale(0.125)" font-size="29.6" font-family="'Liberation Sans',sans-serif" fill="#333">+2.500e+00</text>
<line x1="545.3" y1="492.67" x2="547" y2="492.67" stroke="#555" stroke-width="0.3"/>
<text transform="translate(548.60,497.65) rotate(0.03) scale(0.125)" font-size="29.6" font-family="'Liberation Sans',sans-serif" fill="#333">+2.000e+00</text>
<line x1="545.3" y1="495.82" x2="547" y2="495.82" stroke="#555" stroke-width="0.3"/>
<text transform="translate(548.60,500.82) rotate(0.03) scale(0.125)" font-size="29.6" font-family="'Liberation Sans',sans-serif" fill="#333">+1.500e+00</text>
<line x1="545.3" y1="498.96" x2="547" y2="498.96" stroke="#555" stroke-width="0.3"/>
<text transform="translate(548.60,503.98) rotate(0.03) scale(0.125)" font-size="29.6" font-family="'Liberation Sans',sans-serif" fill="#333">+1.000e+00</text>
<line x1="545.3" y1="502.11" x2="547" y2="502.11" stroke="#555" stroke-width="0.3"/>
<text transform="translate(548.60,507.14) rotate(0.03) scale(0.125)" font-size="29.6" font-family="'Liberation Sans',sans-serif" fill="#333">+5.000e-01</text>
<line x1="545.3" y1="505.25" x2="547" y2="505.25" stroke="#555" stroke-width="0.3"/>
<text transform="translate(548.60,510.30) rotate(0.03) scale(0.125)" font-size="29.6" font-family="'Liberation Sans',sans-serif" fill="#333">+0.000e+00</text>
<line x1="545.3" y1="508.40" x2="547" y2="508.40" stroke="#555" stroke-width="0.3"/>
<rect x="537.6" y="583.1" width="36" height="57" fill="none" stroke="#7a7a7a" stroke-width="0.8"/>
<rect x="540.2" y="596.00" width="5.1" height="3.25" fill="#CACACA"/>
<rect x="540.2" y="599.15" width="5.1" height="3.25" fill="#FF0000"/>
<rect x="540.2" y="602.29" width="5.1" height="3.25" fill="#FF5D00"/>
<rect x="540.2" y="605.44" width="5.1" height="3.25" fill="#FFB900"/>
<rect x="540.2" y="608.58" width="5.1" height="3.25" fill="#E8FF00"/>
<rect x="540.2" y="611.73" width="5.1" height="3.25" fill="#8BFF00"/>
<rect x="540.2" y="614.88" width="5.1" height="3.25" fill="#2EFF00"/>
<rect x="540.2" y="618.02" width="5.1" height="3.25" fill="#00FF2E"/>
<rect x="540.2" y="621.17" width="5.1" height="3.25" fill="#00FF8B"/>
<rect x="540.2" y="624.32" width="5.1" height="3.25" fill="#00FFE8"/>
<rect x="540.2" y="627.46" width="5.1" height="3.25" fill="#00B9FF"/>
<rect x="540.2" y="630.61" width="5.1" height="3.25" fill="#005DFF"/>
<rect x="540.2" y="633.75" width="5.1" height="3.25" fill="#0000FF"/>
<text transform="translate(540.40,589.50) rotate(0.03) scale(0.125)" font-size="27.2" font-family="'Liberation Sans',sans-serif" fill="#333">S, Mises</text>
<text transform="translate(540.40,593.30) rotate(0.03) scale(0.125)" font-size="27.2" font-family="'Liberation Sans',sans-serif" fill="#333">(Avg: 75%)</text>
<text transform="translate(548.60,597.70) rotate(0.03) scale(0.125)" font-size="29.6" font-family="'Liberation Sans',sans-serif" fill="#333">+1.110e+01</text>
<line x1="545.3" y1="596.00" x2="547" y2="596.00" stroke="#555" stroke-width="0.3"/>
<text transform="translate(548.60,600.86) rotate(0.03) scale(0.125)" font-size="29.6" font-family="'Liberation Sans',sans-serif" fill="#333">+6.000e+00</text>
<line x1="545.3" y1="599.15" x2="547" y2="599.15" stroke="#555" stroke-width="0.3"/>
<text transform="translate(548.60,604.02) rotate(0.03) scale(0.125)" font-size="29.6" font-family="'Liberation Sans',sans-serif" fill="#333">+5.500e+00</text>
<line x1="545.3" y1="602.29" x2="547" y2="602.29" stroke="#555" stroke-width="0.3"/>
<text transform="translate(548.60,607.18) rotate(0.03) scale(0.125)" font-size="29.6" font-family="'Liberation Sans',sans-serif" fill="#333">+5.000e+00</text>
<line x1="545.3" y1="605.44" x2="547" y2="605.44" stroke="#555" stroke-width="0.3"/>
<text transform="translate(548.60,610.35) rotate(0.03) scale(0.125)" font-size="29.6" font-family="'Liberation Sans',sans-serif" fill="#333">+4.500e+00</text>
<line x1="545.3" y1="608.58" x2="547" y2="608.58" stroke="#555" stroke-width="0.3"/>
<text transform="translate(548.60,613.51) rotate(0.03) scale(0.125)" font-size="29.6" font-family="'Liberation Sans',sans-serif" fill="#333">+4.000e+00</text>
<line x1="545.3" y1="611.73" x2="547" y2="611.73" stroke="#555" stroke-width="0.3"/>
<text transform="translate(548.60,616.67) rotate(0.03) scale(0.125)" font-size="29.6" font-family="'Liberation Sans',sans-serif" fill="#333">+3.500e+00</text>
<line x1="545.3" y1="614.88" x2="547" y2="614.88" stroke="#555" stroke-width="0.3"/>
<text transform="translate(548.60,619.83) rotate(0.03) scale(0.125)" font-size="29.6" font-family="'Liberation Sans',sans-serif" fill="#333">+3.000e+00</text>
<line x1="545.3" y1="618.02" x2="547" y2="618.02" stroke="#555" stroke-width="0.3"/>
<text transform="translate(548.60,622.99) rotate(0.03) scale(0.125)" font-size="29.6" font-family="'Liberation Sans',sans-serif" fill="#333">+2.500e+00</text>
<line x1="545.3" y1="621.17" x2="547" y2="621.17" stroke="#555" stroke-width="0.3"/>
<text transform="translate(548.60,626.15) rotate(0.03) scale(0.125)" font-size="29.6" font-family="'Liberation Sans',sans-serif" fill="#333">+2.000e+00</text>
<line x1="545.3" y1="624.32" x2="547" y2="624.32" stroke="#555" stroke-width="0.3"/>
<text transform="translate(548.60,629.32) rotate(0.03) scale(0.125)" font-size="29.6" font-family="'Liberation Sans',sans-serif" fill="#333">+1.500e+00</text>
<line x1="545.3" y1="627.46" x2="547" y2="627.46" stroke="#555" stroke-width="0.3"/>
<text transform="translate(548.60,632.48) rotate(0.03) scale(0.125)" font-size="29.6" font-family="'Liberation Sans',sans-serif" fill="#333">+1.000e+00</text>
<line x1="545.3" y1="630.61" x2="547" y2="630.61" stroke="#555" stroke-width="0.3"/>
<text transform="translate(548.60,635.64) rotate(0.03) scale(0.125)" font-size="29.6" font-family="'Liberation Sans',sans-serif" fill="#333">+5.000e-01</text>
<line x1="545.3" y1="633.75" x2="547" y2="633.75" stroke="#555" stroke-width="0.3"/>
<text transform="translate(548.60,638.80) rotate(0.03) scale(0.125)" font-size="29.6" font-family="'Liberation Sans',sans-serif" fill="#333">+0.000e+00</text>
<line x1="545.3" y1="636.90" x2="547" y2="636.90" stroke="#555" stroke-width="0.3"/>
<text transform="translate(584.00,552.30) rotate(0.03) scale(0.125)" font-size="28.8" font-family="'Liberation Sans',sans-serif" fill="#333" xml:space="preserve">ODB: Job-C3D20R.odb    Abaqus/Standard 6.9-1    Tue Apr 12 16:38:48 GMT+08:00 2011</text>
<text transform="translate(584.00,558.70) rotate(0.03) scale(0.125)" font-size="28.8" font-family="'Liberation Sans',sans-serif" fill="#333" xml:space="preserve">Step: Step-1</text>
<text transform="translate(584.00,562.20) rotate(0.03) scale(0.125)" font-size="28.8" font-family="'Liberation Sans',sans-serif" fill="#333" xml:space="preserve">Increment      1: Step Time =    1.000</text>
<text transform="translate(584.00,565.70) rotate(0.03) scale(0.125)" font-size="28.8" font-family="'Liberation Sans',sans-serif" fill="#333" xml:space="preserve">Primary Var: S, Mises</text>
<text transform="translate(584.00,569.20) rotate(0.03) scale(0.125)" font-size="28.8" font-family="'Liberation Sans',sans-serif" fill="#333" xml:space="preserve">Deformed Var: U   Deformation Scale Factor: +2.513e+02</text>
<g stroke="#333" stroke-width="0.4" fill="none"><line x1="557.5" y1="560.2" x2="557.5" y2="555.0"/><line x1="557.5" y1="560.2" x2="553.5" y2="560.2"/></g>
<text transform="translate(557.80,555.20) rotate(0.03) scale(0.125)" font-size="24.0" font-family="'Liberation Sans',sans-serif" fill="#333">Y</text><text transform="translate(550.50,560.60) rotate(0.03) scale(0.125)" font-size="24.0" font-family="'Liberation Sans',sans-serif" fill="#333">Z</text><text transform="translate(557.80,562.60) rotate(0.03) scale(0.125)" font-size="24.0" font-family="'Liberation Sans',sans-serif" fill="#333">X</text>
<text transform="translate(584.00,680.70) rotate(0.03) scale(0.125)" font-size="28.8" font-family="'Liberation Sans',sans-serif" fill="#333" xml:space="preserve">ODB: Job-C3D10I.odb    Abaqus/Standard 6.9-1    Tue Apr 12 16:39:27 GMT+08:00 2011</text>
<text transform="translate(584.00,687.10) rotate(0.03) scale(0.125)" font-size="28.8" font-family="'Liberation Sans',sans-serif" fill="#333" xml:space="preserve">Step: Step-1</text>
<text transform="translate(584.00,690.60) rotate(0.03) scale(0.125)" font-size="28.8" font-family="'Liberation Sans',sans-serif" fill="#333" xml:space="preserve">Increment      1: Step Time =    1.000</text>
<text transform="translate(584.00,694.10) rotate(0.03) scale(0.125)" font-size="28.8" font-family="'Liberation Sans',sans-serif" fill="#333" xml:space="preserve">Primary Var: S, Mises</text>
<text transform="translate(584.00,697.60) rotate(0.03) scale(0.125)" font-size="28.8" font-family="'Liberation Sans',sans-serif" fill="#333" xml:space="preserve">Deformed Var: U   Deformation Scale Factor: +2.511e+02</text>
<g stroke="#333" stroke-width="0.4" fill="none"><line x1="557.5" y1="688.6" x2="557.5" y2="683.4"/><line x1="557.5" y1="688.6" x2="553.5" y2="688.6"/></g>
<text transform="translate(557.80,683.60) rotate(0.03) scale(0.125)" font-size="24.0" font-family="'Liberation Sans',sans-serif" fill="#333">Y</text><text transform="translate(550.50,689.00) rotate(0.03) scale(0.125)" font-size="24.0" font-family="'Liberation Sans',sans-serif" fill="#333">Z</text><text transform="translate(557.80,691.00) rotate(0.03) scale(0.125)" font-size="24.0" font-family="'Liberation Sans',sans-serif" fill="#333">X</text>
<rect x="528.1" y="443.3" width="413.6" height="8.4" fill="#000080"/>
<rect x="528.1" y="570.3" width="413.6" height="9.6" fill="#000080"/>
<rect x="528.8" y="444" width="412.3" height="255" fill="none" stroke="#000080" stroke-width="1.7"/>
<text transform="translate(683.20,449.00) rotate(0.03) scale(0.125)" font-size="34.8" font-family="'Liberation Sans',sans-serif" fill="#fff" font-weight="bold" xml:space="preserve">Viewport: 1    ODB: E:/XBA_Temp/Job-C3D20R.odb</text>
<text transform="translate(684.20,577.00) rotate(0.03) scale(0.125)" font-size="34.8" font-family="'Liberation Sans',sans-serif" fill="#fff" font-weight="bold" xml:space="preserve">Viewport: 5    ODB: E:/XBA_Temp/Job-C3D10I.odb</text>
</svg>
</body></html>
